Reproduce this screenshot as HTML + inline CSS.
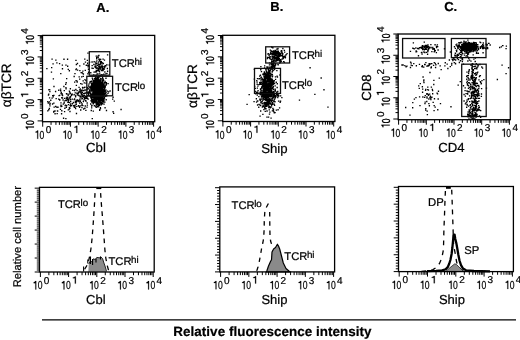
<!DOCTYPE html>
<html><head><meta charset="utf-8"><style>
html,body{margin:0;padding:0;background:#fff;width:520px;height:340px;overflow:hidden}
svg{display:block;font-family:"Liberation Sans",sans-serif;fill:#000;text-rendering:geometricPrecision}
text{stroke:#000;stroke-width:0.22px}
</style></head><body>
<svg width="520" height="340" viewBox="0 0 520 340">
<defs><filter id="b" x="0" y="0" width="100%" height="100%"><feGaussianBlur stdDeviation="0.35"/></filter></defs>
<g filter="url(#b)"><rect width="520" height="340" fill="#fff"/>
<g font-weight="bold" font-size="13">
<text x="96.3" y="11.5">A.</text>
<text x="270.3" y="11.2">B.</text>
<text x="444.2" y="11.2">C.</text>
</g>
<path fill="#000" d="M97.3 92.0h1.35v1.35h-1.35zM96.5 85.3h1.35v1.35h-1.35zM95.9 84.7h1.35v1.35h-1.35zM97.5 97.8h1.35v1.35h-1.35zM95.8 86.8h1.35v1.35h-1.35zM98.8 92.3h1.35v1.35h-1.35zM97.6 85.1h1.35v1.35h-1.35zM97.2 94.2h1.35v1.35h-1.35zM93.1 87.7h1.35v1.35h-1.35zM91.4 83.1h1.35v1.35h-1.35zM91.6 89.0h1.35v1.35h-1.35zM93.4 91.8h1.35v1.35h-1.35zM97.8 89.3h1.35v1.35h-1.35zM89.5 87.3h1.35v1.35h-1.35zM97.1 90.9h1.35v1.35h-1.35zM92.6 87.6h1.35v1.35h-1.35zM94.3 85.8h1.35v1.35h-1.35zM100.6 85.8h1.35v1.35h-1.35zM97.2 95.3h1.35v1.35h-1.35zM95.5 89.7h1.35v1.35h-1.35zM97.6 90.7h1.35v1.35h-1.35zM93.5 90.7h1.35v1.35h-1.35zM101.5 81.6h1.35v1.35h-1.35zM100.0 91.0h1.35v1.35h-1.35zM95.3 101.5h1.35v1.35h-1.35zM99.7 83.6h1.35v1.35h-1.35zM97.5 93.5h1.35v1.35h-1.35zM96.7 94.1h1.35v1.35h-1.35zM97.1 94.0h1.35v1.35h-1.35zM101.8 86.5h1.35v1.35h-1.35zM97.9 87.7h1.35v1.35h-1.35zM97.7 83.7h1.35v1.35h-1.35zM95.5 89.2h1.35v1.35h-1.35zM100.1 96.7h1.35v1.35h-1.35zM93.2 85.9h1.35v1.35h-1.35zM99.3 79.1h1.35v1.35h-1.35zM95.9 89.8h1.35v1.35h-1.35zM101.2 94.2h1.35v1.35h-1.35zM96.3 88.2h1.35v1.35h-1.35zM96.5 98.8h1.35v1.35h-1.35zM96.0 88.6h1.35v1.35h-1.35zM98.4 89.6h1.35v1.35h-1.35zM96.7 84.1h1.35v1.35h-1.35zM97.3 87.8h1.35v1.35h-1.35zM100.9 94.0h1.35v1.35h-1.35zM97.2 94.0h1.35v1.35h-1.35zM96.2 96.2h1.35v1.35h-1.35zM97.3 93.6h1.35v1.35h-1.35zM93.3 92.2h1.35v1.35h-1.35zM92.1 78.9h1.35v1.35h-1.35zM96.4 85.3h1.35v1.35h-1.35zM97.8 102.9h1.35v1.35h-1.35zM94.7 86.8h1.35v1.35h-1.35zM97.9 93.1h1.35v1.35h-1.35zM96.8 89.1h1.35v1.35h-1.35zM99.5 93.2h1.35v1.35h-1.35zM94.1 89.9h1.35v1.35h-1.35zM97.4 84.4h1.35v1.35h-1.35zM98.1 85.5h1.35v1.35h-1.35zM100.3 91.4h1.35v1.35h-1.35zM97.6 87.0h1.35v1.35h-1.35zM96.9 79.1h1.35v1.35h-1.35zM93.8 92.3h1.35v1.35h-1.35zM90.7 95.0h1.35v1.35h-1.35zM91.9 94.5h1.35v1.35h-1.35zM94.7 94.7h1.35v1.35h-1.35zM97.7 81.7h1.35v1.35h-1.35zM101.2 98.4h1.35v1.35h-1.35zM97.1 88.8h1.35v1.35h-1.35zM96.8 84.8h1.35v1.35h-1.35zM100.7 87.3h1.35v1.35h-1.35zM97.1 85.9h1.35v1.35h-1.35zM95.4 83.1h1.35v1.35h-1.35zM101.2 89.4h1.35v1.35h-1.35zM100.3 90.4h1.35v1.35h-1.35zM95.1 88.5h1.35v1.35h-1.35zM95.6 90.3h1.35v1.35h-1.35zM96.1 88.6h1.35v1.35h-1.35zM93.0 85.8h1.35v1.35h-1.35zM102.4 86.5h1.35v1.35h-1.35zM94.0 92.2h1.35v1.35h-1.35zM101.7 82.2h1.35v1.35h-1.35zM96.7 86.8h1.35v1.35h-1.35zM91.8 94.4h1.35v1.35h-1.35zM97.2 90.7h1.35v1.35h-1.35zM95.0 92.8h1.35v1.35h-1.35zM95.6 89.5h1.35v1.35h-1.35zM93.9 83.5h1.35v1.35h-1.35zM101.4 87.5h1.35v1.35h-1.35zM98.2 90.1h1.35v1.35h-1.35zM95.9 87.5h1.35v1.35h-1.35zM99.3 88.6h1.35v1.35h-1.35zM96.8 90.4h1.35v1.35h-1.35zM100.9 94.1h1.35v1.35h-1.35zM98.5 87.1h1.35v1.35h-1.35zM93.0 95.6h1.35v1.35h-1.35zM100.3 89.5h1.35v1.35h-1.35zM99.0 94.7h1.35v1.35h-1.35zM99.9 95.5h1.35v1.35h-1.35zM95.9 98.8h1.35v1.35h-1.35zM93.4 95.1h1.35v1.35h-1.35zM98.8 95.2h1.35v1.35h-1.35zM103.1 98.6h1.35v1.35h-1.35zM93.7 80.8h1.35v1.35h-1.35zM99.8 84.6h1.35v1.35h-1.35zM97.3 95.0h1.35v1.35h-1.35zM92.2 78.5h1.35v1.35h-1.35zM98.1 90.5h1.35v1.35h-1.35zM96.5 90.5h1.35v1.35h-1.35zM94.6 81.8h1.35v1.35h-1.35zM96.8 84.9h1.35v1.35h-1.35zM92.2 93.1h1.35v1.35h-1.35zM97.1 92.6h1.35v1.35h-1.35zM94.2 86.6h1.35v1.35h-1.35zM94.2 85.3h1.35v1.35h-1.35zM97.9 85.9h1.35v1.35h-1.35zM98.4 92.2h1.35v1.35h-1.35zM103.6 82.5h1.35v1.35h-1.35zM100.1 89.8h1.35v1.35h-1.35zM97.3 82.2h1.35v1.35h-1.35zM95.9 94.5h1.35v1.35h-1.35zM97.0 90.8h1.35v1.35h-1.35zM96.4 96.8h1.35v1.35h-1.35zM97.2 78.0h1.35v1.35h-1.35zM95.2 79.3h1.35v1.35h-1.35zM87.2 87.3h1.35v1.35h-1.35zM101.4 90.6h1.35v1.35h-1.35zM93.7 85.0h1.35v1.35h-1.35zM100.8 91.2h1.35v1.35h-1.35zM97.4 90.0h1.35v1.35h-1.35zM97.4 94.8h1.35v1.35h-1.35zM99.0 91.5h1.35v1.35h-1.35zM94.1 93.2h1.35v1.35h-1.35zM95.2 96.4h1.35v1.35h-1.35zM93.4 89.5h1.35v1.35h-1.35zM97.3 82.9h1.35v1.35h-1.35zM102.6 98.5h1.35v1.35h-1.35zM95.9 94.6h1.35v1.35h-1.35zM98.5 75.7h1.35v1.35h-1.35zM98.1 90.0h1.35v1.35h-1.35zM97.6 84.3h1.35v1.35h-1.35zM96.5 89.3h1.35v1.35h-1.35zM101.0 92.2h1.35v1.35h-1.35zM97.3 98.9h1.35v1.35h-1.35zM95.6 88.1h1.35v1.35h-1.35zM91.7 99.1h1.35v1.35h-1.35zM100.3 95.4h1.35v1.35h-1.35zM99.4 90.9h1.35v1.35h-1.35zM98.0 88.9h1.35v1.35h-1.35zM96.7 90.6h1.35v1.35h-1.35zM102.0 93.4h1.35v1.35h-1.35zM97.1 87.1h1.35v1.35h-1.35zM95.3 99.3h1.35v1.35h-1.35zM98.9 90.7h1.35v1.35h-1.35zM96.2 84.1h1.35v1.35h-1.35zM97.1 95.2h1.35v1.35h-1.35zM96.1 89.0h1.35v1.35h-1.35zM96.6 90.9h1.35v1.35h-1.35zM92.4 89.0h1.35v1.35h-1.35zM94.7 95.3h1.35v1.35h-1.35zM94.9 93.5h1.35v1.35h-1.35zM102.0 88.5h1.35v1.35h-1.35zM95.4 91.4h1.35v1.35h-1.35zM97.3 84.7h1.35v1.35h-1.35zM98.7 101.6h1.35v1.35h-1.35zM96.5 89.2h1.35v1.35h-1.35zM94.1 92.1h1.35v1.35h-1.35zM93.4 84.1h1.35v1.35h-1.35zM101.3 85.2h1.35v1.35h-1.35zM100.7 98.8h1.35v1.35h-1.35zM98.1 93.4h1.35v1.35h-1.35zM103.4 89.2h1.35v1.35h-1.35zM95.5 82.7h1.35v1.35h-1.35zM97.4 98.6h1.35v1.35h-1.35zM100.3 85.0h1.35v1.35h-1.35zM94.6 87.5h1.35v1.35h-1.35zM98.2 89.2h1.35v1.35h-1.35zM98.0 92.0h1.35v1.35h-1.35zM96.4 90.1h1.35v1.35h-1.35zM97.9 89.8h1.35v1.35h-1.35zM98.9 100.8h1.35v1.35h-1.35zM99.1 90.6h1.35v1.35h-1.35zM92.1 92.5h1.35v1.35h-1.35zM91.3 82.4h1.35v1.35h-1.35zM99.9 94.3h1.35v1.35h-1.35zM96.8 80.7h1.35v1.35h-1.35zM96.1 86.5h1.35v1.35h-1.35zM99.3 102.9h1.35v1.35h-1.35zM98.0 85.9h1.35v1.35h-1.35zM93.7 90.0h1.35v1.35h-1.35zM96.8 83.9h1.35v1.35h-1.35zM97.7 83.9h1.35v1.35h-1.35zM100.7 96.3h1.35v1.35h-1.35zM100.7 87.6h1.35v1.35h-1.35zM98.9 89.6h1.35v1.35h-1.35zM96.1 88.4h1.35v1.35h-1.35zM93.3 82.2h1.35v1.35h-1.35zM99.8 89.2h1.35v1.35h-1.35zM98.0 95.9h1.35v1.35h-1.35zM91.9 85.9h1.35v1.35h-1.35zM97.8 92.5h1.35v1.35h-1.35zM96.1 96.1h1.35v1.35h-1.35zM98.0 83.5h1.35v1.35h-1.35zM94.4 94.8h1.35v1.35h-1.35zM98.7 79.7h1.35v1.35h-1.35zM101.5 93.6h1.35v1.35h-1.35zM101.5 88.2h1.35v1.35h-1.35zM96.4 84.0h1.35v1.35h-1.35zM105.2 89.3h1.35v1.35h-1.35zM102.2 86.7h1.35v1.35h-1.35zM97.8 80.9h1.35v1.35h-1.35zM96.1 95.8h1.35v1.35h-1.35zM93.4 96.3h1.35v1.35h-1.35zM98.3 84.5h1.35v1.35h-1.35zM95.7 87.7h1.35v1.35h-1.35zM97.1 87.3h1.35v1.35h-1.35zM94.7 88.6h1.35v1.35h-1.35zM94.1 83.1h1.35v1.35h-1.35zM97.2 95.2h1.35v1.35h-1.35zM92.6 90.3h1.35v1.35h-1.35zM95.3 84.8h1.35v1.35h-1.35zM99.9 87.4h1.35v1.35h-1.35zM101.9 85.9h1.35v1.35h-1.35zM98.5 89.0h1.35v1.35h-1.35zM95.0 93.6h1.35v1.35h-1.35zM96.8 93.7h1.35v1.35h-1.35zM97.2 84.2h1.35v1.35h-1.35zM97.0 90.6h1.35v1.35h-1.35zM100.3 85.2h1.35v1.35h-1.35zM97.2 80.7h1.35v1.35h-1.35zM99.3 84.2h1.35v1.35h-1.35zM91.7 90.0h1.35v1.35h-1.35zM100.7 81.8h1.35v1.35h-1.35zM93.9 86.1h1.35v1.35h-1.35zM93.8 92.4h1.35v1.35h-1.35zM94.8 86.3h1.35v1.35h-1.35zM99.1 86.1h1.35v1.35h-1.35zM98.6 84.9h1.35v1.35h-1.35zM93.5 80.0h1.35v1.35h-1.35zM103.1 88.5h1.35v1.35h-1.35zM98.1 90.1h1.35v1.35h-1.35zM97.8 90.6h1.35v1.35h-1.35zM103.2 84.5h1.35v1.35h-1.35zM92.5 84.6h1.35v1.35h-1.35zM93.2 94.5h1.35v1.35h-1.35zM99.8 84.9h1.35v1.35h-1.35zM93.0 88.3h1.35v1.35h-1.35zM101.6 74.5h1.35v1.35h-1.35zM98.9 84.3h1.35v1.35h-1.35zM100.5 84.3h1.35v1.35h-1.35zM96.4 81.9h1.35v1.35h-1.35zM94.3 98.1h1.35v1.35h-1.35zM99.8 88.1h1.35v1.35h-1.35zM94.6 79.7h1.35v1.35h-1.35zM96.1 90.1h1.35v1.35h-1.35zM97.0 89.8h1.35v1.35h-1.35zM93.8 89.9h1.35v1.35h-1.35zM97.2 97.5h1.35v1.35h-1.35zM103.1 89.5h1.35v1.35h-1.35zM94.9 89.9h1.35v1.35h-1.35zM95.4 86.1h1.35v1.35h-1.35zM97.1 84.5h1.35v1.35h-1.35zM99.2 89.7h1.35v1.35h-1.35zM98.1 89.3h1.35v1.35h-1.35zM95.0 85.0h1.35v1.35h-1.35zM96.6 87.2h1.35v1.35h-1.35zM98.0 90.3h1.35v1.35h-1.35zM93.1 90.7h1.35v1.35h-1.35zM93.1 86.8h1.35v1.35h-1.35zM96.4 78.7h1.35v1.35h-1.35zM97.6 91.1h1.35v1.35h-1.35zM96.8 87.9h1.35v1.35h-1.35zM96.1 84.8h1.35v1.35h-1.35zM96.5 87.2h1.35v1.35h-1.35zM97.6 83.6h1.35v1.35h-1.35zM98.0 91.1h1.35v1.35h-1.35zM96.9 87.8h1.35v1.35h-1.35zM99.0 81.0h1.35v1.35h-1.35zM98.7 91.7h1.35v1.35h-1.35zM98.2 92.4h1.35v1.35h-1.35zM95.3 88.8h1.35v1.35h-1.35zM99.3 92.7h1.35v1.35h-1.35zM97.9 81.8h1.35v1.35h-1.35zM99.0 96.8h1.35v1.35h-1.35zM100.4 91.6h1.35v1.35h-1.35zM92.5 95.6h1.35v1.35h-1.35zM96.8 76.1h1.35v1.35h-1.35zM98.5 81.9h1.35v1.35h-1.35zM93.3 86.7h1.35v1.35h-1.35zM101.2 88.2h1.35v1.35h-1.35zM98.1 100.1h1.35v1.35h-1.35zM102.2 89.7h1.35v1.35h-1.35zM96.6 83.2h1.35v1.35h-1.35zM95.1 92.7h1.35v1.35h-1.35zM98.5 90.9h1.35v1.35h-1.35zM100.4 86.0h1.35v1.35h-1.35zM97.1 94.4h1.35v1.35h-1.35zM99.1 96.3h1.35v1.35h-1.35zM98.5 88.6h1.35v1.35h-1.35zM98.4 84.7h1.35v1.35h-1.35zM92.2 93.6h1.35v1.35h-1.35zM97.1 92.0h1.35v1.35h-1.35zM92.0 88.3h1.35v1.35h-1.35zM95.4 85.5h1.35v1.35h-1.35zM90.3 88.4h1.35v1.35h-1.35zM100.1 92.4h1.35v1.35h-1.35zM95.4 90.2h1.35v1.35h-1.35zM99.6 74.8h1.35v1.35h-1.35zM96.9 93.3h1.35v1.35h-1.35zM99.4 99.8h1.35v1.35h-1.35zM100.8 92.1h1.35v1.35h-1.35zM98.2 94.7h1.35v1.35h-1.35zM95.6 90.1h1.35v1.35h-1.35zM100.1 101.3h1.35v1.35h-1.35zM96.8 90.0h1.35v1.35h-1.35zM97.9 97.8h1.35v1.35h-1.35zM97.2 98.5h1.35v1.35h-1.35zM94.3 89.3h1.35v1.35h-1.35zM96.7 94.7h1.35v1.35h-1.35zM100.5 81.8h1.35v1.35h-1.35zM94.5 92.2h1.35v1.35h-1.35zM95.3 81.8h1.35v1.35h-1.35zM100.5 93.1h1.35v1.35h-1.35zM98.8 87.6h1.35v1.35h-1.35zM100.5 89.0h1.35v1.35h-1.35zM100.7 85.2h1.35v1.35h-1.35zM94.7 91.4h1.35v1.35h-1.35zM95.1 94.1h1.35v1.35h-1.35zM98.1 85.1h1.35v1.35h-1.35zM97.5 88.3h1.35v1.35h-1.35zM100.1 86.8h1.35v1.35h-1.35zM95.9 97.1h1.35v1.35h-1.35zM104.2 101.5h1.35v1.35h-1.35zM97.5 91.5h1.35v1.35h-1.35zM102.1 89.6h1.35v1.35h-1.35zM94.3 91.0h1.35v1.35h-1.35zM98.7 85.7h1.35v1.35h-1.35zM92.2 82.3h1.35v1.35h-1.35zM99.4 86.1h1.35v1.35h-1.35zM96.9 91.5h1.35v1.35h-1.35zM99.2 88.4h1.35v1.35h-1.35zM98.8 85.3h1.35v1.35h-1.35zM96.2 84.6h1.35v1.35h-1.35zM100.8 90.1h1.35v1.35h-1.35zM95.0 88.3h1.35v1.35h-1.35zM96.6 94.2h1.35v1.35h-1.35zM92.4 84.5h1.35v1.35h-1.35zM96.1 104.5h1.35v1.35h-1.35zM100.3 89.7h1.35v1.35h-1.35zM99.5 101.8h1.35v1.35h-1.35zM96.6 88.2h1.35v1.35h-1.35zM101.1 93.1h1.35v1.35h-1.35zM99.4 87.5h1.35v1.35h-1.35zM103.3 99.9h1.35v1.35h-1.35zM99.1 94.1h1.35v1.35h-1.35zM91.0 93.9h1.35v1.35h-1.35zM96.7 92.7h1.35v1.35h-1.35zM99.4 88.4h1.35v1.35h-1.35zM92.1 92.4h1.35v1.35h-1.35zM95.0 88.5h1.35v1.35h-1.35zM95.4 88.4h1.35v1.35h-1.35zM90.1 97.1h1.35v1.35h-1.35zM98.1 96.5h1.35v1.35h-1.35zM103.4 90.4h1.35v1.35h-1.35zM91.7 85.3h1.35v1.35h-1.35zM93.6 87.5h1.35v1.35h-1.35zM97.5 79.1h1.35v1.35h-1.35zM98.4 81.8h1.35v1.35h-1.35zM98.2 89.7h1.35v1.35h-1.35zM96.3 89.9h1.35v1.35h-1.35zM95.6 86.9h1.35v1.35h-1.35zM92.1 90.1h1.35v1.35h-1.35zM103.0 101.4h1.35v1.35h-1.35zM101.4 94.3h1.35v1.35h-1.35zM95.2 98.4h1.35v1.35h-1.35zM97.1 89.9h1.35v1.35h-1.35zM96.4 90.8h1.35v1.35h-1.35zM96.0 89.8h1.35v1.35h-1.35zM93.9 88.2h1.35v1.35h-1.35zM104.4 89.9h1.35v1.35h-1.35zM96.6 93.3h1.35v1.35h-1.35zM99.5 84.1h1.35v1.35h-1.35zM96.7 95.4h1.35v1.35h-1.35zM98.1 91.0h1.35v1.35h-1.35zM102.1 86.5h1.35v1.35h-1.35zM97.6 87.4h1.35v1.35h-1.35zM101.9 79.4h1.35v1.35h-1.35zM95.2 87.3h1.35v1.35h-1.35zM99.4 93.7h1.35v1.35h-1.35zM101.6 81.5h1.35v1.35h-1.35zM99.6 88.7h1.35v1.35h-1.35zM95.2 93.3h1.35v1.35h-1.35zM94.4 78.7h1.35v1.35h-1.35zM96.2 81.9h1.35v1.35h-1.35zM95.3 92.4h1.35v1.35h-1.35zM98.3 99.2h1.35v1.35h-1.35zM96.7 81.7h1.35v1.35h-1.35zM95.0 85.2h1.35v1.35h-1.35zM93.5 92.7h1.35v1.35h-1.35zM95.3 79.2h1.35v1.35h-1.35zM99.5 89.7h1.35v1.35h-1.35zM98.4 90.9h1.35v1.35h-1.35zM99.3 90.5h1.35v1.35h-1.35zM101.1 92.7h1.35v1.35h-1.35zM98.5 92.6h1.35v1.35h-1.35zM92.8 89.4h1.35v1.35h-1.35zM96.5 91.5h1.35v1.35h-1.35zM93.1 99.5h1.35v1.35h-1.35zM97.6 83.5h1.35v1.35h-1.35zM92.0 88.7h1.35v1.35h-1.35zM97.0 86.3h1.35v1.35h-1.35zM97.6 86.7h1.35v1.35h-1.35zM99.0 86.2h1.35v1.35h-1.35zM97.2 95.8h1.35v1.35h-1.35zM105.3 84.7h1.35v1.35h-1.35zM95.9 85.6h1.35v1.35h-1.35zM99.7 83.9h1.35v1.35h-1.35zM95.8 90.1h1.35v1.35h-1.35zM94.3 84.9h1.35v1.35h-1.35zM95.8 78.5h1.35v1.35h-1.35zM92.8 88.0h1.35v1.35h-1.35zM97.8 89.3h1.35v1.35h-1.35zM91.8 87.7h1.35v1.35h-1.35zM99.8 93.4h1.35v1.35h-1.35zM97.1 85.3h1.35v1.35h-1.35zM99.3 87.1h1.35v1.35h-1.35zM93.7 85.8h1.35v1.35h-1.35zM101.8 91.5h1.35v1.35h-1.35zM100.9 87.6h1.35v1.35h-1.35zM100.2 86.9h1.35v1.35h-1.35zM96.8 104.2h1.35v1.35h-1.35zM99.7 87.5h1.35v1.35h-1.35zM97.0 92.1h1.35v1.35h-1.35zM101.1 87.6h1.35v1.35h-1.35zM91.9 88.7h1.35v1.35h-1.35zM97.3 90.9h1.35v1.35h-1.35zM101.4 92.1h1.35v1.35h-1.35zM99.8 84.1h1.35v1.35h-1.35zM100.0 102.0h1.35v1.35h-1.35zM99.7 91.7h1.35v1.35h-1.35zM97.8 100.3h1.35v1.35h-1.35zM94.4 89.7h1.35v1.35h-1.35zM98.7 94.5h1.35v1.35h-1.35zM95.9 92.0h1.35v1.35h-1.35zM96.4 91.0h1.35v1.35h-1.35zM96.9 83.9h1.35v1.35h-1.35zM97.2 95.2h1.35v1.35h-1.35zM94.3 88.9h1.35v1.35h-1.35zM99.4 84.3h1.35v1.35h-1.35zM97.9 84.4h1.35v1.35h-1.35zM100.8 103.3h1.35v1.35h-1.35zM103.6 89.1h1.35v1.35h-1.35zM99.6 91.0h1.35v1.35h-1.35zM97.6 99.0h1.35v1.35h-1.35zM93.2 96.2h1.35v1.35h-1.35zM97.1 98.2h1.35v1.35h-1.35zM97.9 86.5h1.35v1.35h-1.35zM98.2 94.4h1.35v1.35h-1.35zM97.4 93.0h1.35v1.35h-1.35zM95.7 78.4h1.35v1.35h-1.35zM100.1 94.2h1.35v1.35h-1.35zM97.8 90.7h1.35v1.35h-1.35zM100.5 87.7h1.35v1.35h-1.35zM95.1 89.2h1.35v1.35h-1.35zM101.0 82.5h1.35v1.35h-1.35zM101.0 86.7h1.35v1.35h-1.35zM93.9 97.4h1.35v1.35h-1.35zM97.0 83.0h1.35v1.35h-1.35zM96.2 95.5h1.35v1.35h-1.35zM101.0 87.9h1.35v1.35h-1.35zM98.6 94.3h1.35v1.35h-1.35zM95.3 92.3h1.35v1.35h-1.35zM97.2 87.3h1.35v1.35h-1.35zM95.8 90.7h1.35v1.35h-1.35zM97.4 87.1h1.35v1.35h-1.35zM96.0 96.5h1.35v1.35h-1.35zM98.0 95.3h1.35v1.35h-1.35zM101.0 93.6h1.35v1.35h-1.35zM104.3 85.7h1.35v1.35h-1.35zM99.8 88.5h1.35v1.35h-1.35zM103.1 99.8h1.35v1.35h-1.35zM91.2 84.9h1.35v1.35h-1.35zM99.4 94.7h1.35v1.35h-1.35zM99.6 89.9h1.35v1.35h-1.35zM98.7 94.0h1.35v1.35h-1.35zM97.1 96.1h1.35v1.35h-1.35zM90.3 93.8h1.35v1.35h-1.35zM94.1 95.7h1.35v1.35h-1.35zM96.6 85.3h1.35v1.35h-1.35zM98.5 85.2h1.35v1.35h-1.35zM94.5 81.5h1.35v1.35h-1.35zM97.2 93.1h1.35v1.35h-1.35zM100.5 89.5h1.35v1.35h-1.35zM100.5 90.4h1.35v1.35h-1.35zM97.0 93.5h1.35v1.35h-1.35zM100.6 88.4h1.35v1.35h-1.35zM96.5 89.4h1.35v1.35h-1.35zM97.6 85.3h1.35v1.35h-1.35zM100.5 88.1h1.35v1.35h-1.35zM98.7 85.7h1.35v1.35h-1.35zM98.4 92.5h1.35v1.35h-1.35zM96.0 101.6h1.35v1.35h-1.35zM98.5 100.3h1.35v1.35h-1.35zM100.3 86.6h1.35v1.35h-1.35zM96.1 92.7h1.35v1.35h-1.35zM97.5 90.6h1.35v1.35h-1.35zM96.4 80.2h1.35v1.35h-1.35zM96.6 77.9h1.35v1.35h-1.35zM98.5 86.2h1.35v1.35h-1.35zM95.1 89.1h1.35v1.35h-1.35zM98.1 82.3h1.35v1.35h-1.35zM91.9 84.3h1.35v1.35h-1.35zM91.0 84.9h1.35v1.35h-1.35zM102.2 84.4h1.35v1.35h-1.35zM99.3 82.6h1.35v1.35h-1.35zM98.2 88.5h1.35v1.35h-1.35zM97.1 93.5h1.35v1.35h-1.35zM102.7 91.4h1.35v1.35h-1.35zM97.7 84.8h1.35v1.35h-1.35zM99.1 88.9h1.35v1.35h-1.35zM99.9 90.1h1.35v1.35h-1.35zM102.7 79.2h1.35v1.35h-1.35zM96.4 95.2h1.35v1.35h-1.35zM96.2 85.9h1.35v1.35h-1.35zM96.5 82.6h1.35v1.35h-1.35zM97.7 104.0h1.35v1.35h-1.35zM100.8 84.1h1.35v1.35h-1.35zM94.6 88.0h1.35v1.35h-1.35zM100.4 85.7h1.35v1.35h-1.35zM95.2 95.3h1.35v1.35h-1.35zM100.0 88.2h1.35v1.35h-1.35zM93.8 81.6h1.35v1.35h-1.35zM95.1 77.8h1.35v1.35h-1.35zM99.6 86.8h1.35v1.35h-1.35zM98.8 100.8h1.35v1.35h-1.35zM100.9 83.9h1.35v1.35h-1.35zM100.0 96.8h1.35v1.35h-1.35zM95.0 85.0h1.35v1.35h-1.35zM97.0 81.3h1.35v1.35h-1.35zM101.9 76.8h1.35v1.35h-1.35zM93.9 88.8h1.35v1.35h-1.35zM96.6 91.2h1.35v1.35h-1.35zM98.1 89.1h1.35v1.35h-1.35zM100.8 78.3h1.35v1.35h-1.35zM97.3 86.3h1.35v1.35h-1.35zM97.7 91.5h1.35v1.35h-1.35zM94.5 86.7h1.35v1.35h-1.35zM99.8 92.3h1.35v1.35h-1.35zM95.2 101.7h1.35v1.35h-1.35zM104.5 82.1h1.35v1.35h-1.35zM98.2 104.4h1.35v1.35h-1.35zM99.7 91.5h1.35v1.35h-1.35zM96.7 87.3h1.35v1.35h-1.35zM96.6 87.2h1.35v1.35h-1.35zM99.6 88.1h1.35v1.35h-1.35zM95.9 83.6h1.35v1.35h-1.35zM97.1 85.3h1.35v1.35h-1.35zM96.7 96.1h1.35v1.35h-1.35zM98.4 93.1h1.35v1.35h-1.35zM98.4 90.6h1.35v1.35h-1.35zM96.9 88.6h1.35v1.35h-1.35zM99.7 84.2h1.35v1.35h-1.35zM101.5 90.5h1.35v1.35h-1.35zM95.0 87.6h1.35v1.35h-1.35zM95.2 91.2h1.35v1.35h-1.35zM95.1 96.7h1.35v1.35h-1.35zM94.9 77.6h1.35v1.35h-1.35zM95.0 79.1h1.35v1.35h-1.35zM97.2 96.2h1.35v1.35h-1.35zM99.3 82.8h1.35v1.35h-1.35zM94.9 100.3h1.35v1.35h-1.35zM98.3 90.3h1.35v1.35h-1.35zM100.6 104.0h1.35v1.35h-1.35zM101.3 91.1h1.35v1.35h-1.35zM98.4 93.8h1.35v1.35h-1.35zM95.4 84.4h1.35v1.35h-1.35zM97.5 85.0h1.35v1.35h-1.35zM97.1 90.8h1.35v1.35h-1.35zM104.6 85.5h1.35v1.35h-1.35zM96.9 89.4h1.35v1.35h-1.35zM98.7 96.2h1.35v1.35h-1.35zM95.8 85.7h1.35v1.35h-1.35zM92.2 85.1h1.35v1.35h-1.35zM99.0 90.6h1.35v1.35h-1.35zM94.2 88.2h1.35v1.35h-1.35zM97.4 93.1h1.35v1.35h-1.35zM95.5 88.9h1.35v1.35h-1.35zM91.7 83.9h1.35v1.35h-1.35zM102.3 78.0h1.35v1.35h-1.35zM96.3 91.5h1.35v1.35h-1.35zM96.1 85.8h1.35v1.35h-1.35zM97.1 90.3h1.35v1.35h-1.35zM97.0 79.8h1.35v1.35h-1.35zM96.8 85.5h1.35v1.35h-1.35zM95.6 91.6h1.35v1.35h-1.35zM99.3 95.3h1.35v1.35h-1.35zM95.8 95.5h1.35v1.35h-1.35zM100.9 96.7h1.35v1.35h-1.35zM101.6 89.5h1.35v1.35h-1.35zM96.8 94.9h1.35v1.35h-1.35zM93.1 91.5h1.35v1.35h-1.35zM95.7 88.2h1.35v1.35h-1.35zM91.9 85.3h1.35v1.35h-1.35zM97.2 95.3h1.35v1.35h-1.35zM100.4 89.9h1.35v1.35h-1.35zM96.7 85.6h1.35v1.35h-1.35zM98.5 88.9h1.35v1.35h-1.35zM99.2 100.1h1.35v1.35h-1.35zM97.2 81.9h1.35v1.35h-1.35zM94.6 82.1h1.35v1.35h-1.35zM93.6 97.6h1.35v1.35h-1.35zM98.0 81.8h1.35v1.35h-1.35zM99.3 97.4h1.35v1.35h-1.35zM96.2 86.5h1.35v1.35h-1.35zM96.3 91.9h1.35v1.35h-1.35zM99.3 96.9h1.35v1.35h-1.35zM101.1 96.9h1.35v1.35h-1.35zM101.5 94.0h1.35v1.35h-1.35zM92.6 89.6h1.35v1.35h-1.35zM98.3 88.2h1.35v1.35h-1.35zM100.1 88.3h1.35v1.35h-1.35zM94.4 98.4h1.35v1.35h-1.35zM99.4 91.5h1.35v1.35h-1.35zM100.2 96.3h1.35v1.35h-1.35zM98.4 76.5h1.35v1.35h-1.35zM95.2 87.7h1.35v1.35h-1.35zM94.2 91.4h1.35v1.35h-1.35zM101.0 87.6h1.35v1.35h-1.35zM93.8 101.7h1.35v1.35h-1.35zM95.9 83.4h1.35v1.35h-1.35zM98.0 92.7h1.35v1.35h-1.35zM95.1 94.7h1.35v1.35h-1.35zM95.8 85.1h1.35v1.35h-1.35zM97.9 94.6h1.35v1.35h-1.35zM95.3 92.2h1.35v1.35h-1.35zM97.0 106.1h1.35v1.35h-1.35zM95.1 98.1h1.35v1.35h-1.35zM97.1 89.6h1.35v1.35h-1.35zM99.5 95.3h1.35v1.35h-1.35zM101.2 92.1h1.35v1.35h-1.35zM95.4 87.3h1.35v1.35h-1.35zM98.9 93.6h1.35v1.35h-1.35zM101.6 92.6h1.35v1.35h-1.35zM100.6 98.8h1.35v1.35h-1.35zM97.8 82.0h1.35v1.35h-1.35zM93.6 82.2h1.35v1.35h-1.35zM102.2 85.6h1.35v1.35h-1.35zM101.1 93.6h1.35v1.35h-1.35zM102.6 95.9h1.35v1.35h-1.35zM97.0 89.2h1.35v1.35h-1.35zM97.6 91.3h1.35v1.35h-1.35zM95.7 90.1h1.35v1.35h-1.35zM102.3 80.8h1.35v1.35h-1.35zM98.1 85.2h1.35v1.35h-1.35zM97.9 95.0h1.35v1.35h-1.35zM97.1 94.6h1.35v1.35h-1.35zM92.4 96.5h1.35v1.35h-1.35zM95.4 93.8h1.35v1.35h-1.35zM97.9 75.8h1.35v1.35h-1.35zM95.0 91.5h1.35v1.35h-1.35zM102.1 91.9h1.35v1.35h-1.35zM98.1 82.4h1.35v1.35h-1.35zM101.7 100.4h1.35v1.35h-1.35zM97.4 89.1h1.35v1.35h-1.35zM92.3 95.2h1.35v1.35h-1.35zM105.7 94.3h1.35v1.35h-1.35zM101.2 93.3h1.35v1.35h-1.35zM94.2 97.8h1.35v1.35h-1.35zM93.5 89.1h1.35v1.35h-1.35zM98.2 95.2h1.35v1.35h-1.35zM98.6 92.5h1.35v1.35h-1.35zM94.9 83.1h1.35v1.35h-1.35zM97.5 86.3h1.35v1.35h-1.35zM93.2 83.2h1.35v1.35h-1.35zM95.8 79.9h1.35v1.35h-1.35zM93.1 81.1h1.35v1.35h-1.35zM97.9 92.6h1.35v1.35h-1.35zM103.5 81.9h1.35v1.35h-1.35zM95.2 95.4h1.35v1.35h-1.35zM96.6 88.5h1.35v1.35h-1.35zM102.6 88.4h1.35v1.35h-1.35zM93.7 82.9h1.35v1.35h-1.35zM98.3 92.0h1.35v1.35h-1.35zM93.0 84.8h1.35v1.35h-1.35zM99.0 93.5h1.35v1.35h-1.35zM95.3 93.8h1.35v1.35h-1.35zM99.1 80.3h1.35v1.35h-1.35zM96.3 92.6h1.35v1.35h-1.35zM95.5 78.3h1.35v1.35h-1.35zM96.4 94.5h1.35v1.35h-1.35zM102.2 78.0h1.35v1.35h-1.35zM105.4 84.0h1.35v1.35h-1.35zM100.3 97.2h1.35v1.35h-1.35zM100.3 91.1h1.35v1.35h-1.35zM93.7 93.8h1.35v1.35h-1.35zM95.1 76.2h1.35v1.35h-1.35zM106.1 94.3h1.35v1.35h-1.35zM102.9 85.2h1.35v1.35h-1.35zM101.8 99.2h1.35v1.35h-1.35zM102.1 90.2h1.35v1.35h-1.35zM93.6 89.3h1.35v1.35h-1.35zM90.5 80.8h1.35v1.35h-1.35zM97.6 84.7h1.35v1.35h-1.35zM96.8 89.7h1.35v1.35h-1.35zM103.3 97.6h1.35v1.35h-1.35zM97.2 97.1h1.35v1.35h-1.35zM94.9 88.4h1.35v1.35h-1.35zM100.1 83.3h1.35v1.35h-1.35zM96.4 82.9h1.35v1.35h-1.35zM97.7 99.4h1.35v1.35h-1.35zM95.0 91.6h1.35v1.35h-1.35zM94.5 83.9h1.35v1.35h-1.35zM93.5 98.4h1.35v1.35h-1.35zM104.6 93.0h1.35v1.35h-1.35zM95.1 94.2h1.35v1.35h-1.35zM96.3 94.8h1.35v1.35h-1.35zM98.2 91.9h1.35v1.35h-1.35zM99.2 87.1h1.35v1.35h-1.35zM96.0 80.7h1.35v1.35h-1.35zM95.9 82.3h1.35v1.35h-1.35zM96.9 84.9h1.35v1.35h-1.35zM97.6 92.8h1.35v1.35h-1.35zM92.9 85.7h1.35v1.35h-1.35zM94.4 94.5h1.35v1.35h-1.35zM102.6 95.1h1.35v1.35h-1.35zM96.2 98.5h1.35v1.35h-1.35zM92.6 98.7h1.35v1.35h-1.35zM95.3 74.7h1.35v1.35h-1.35zM105.5 99.1h1.35v1.35h-1.35zM94.1 91.2h1.35v1.35h-1.35zM96.6 90.9h1.35v1.35h-1.35zM92.7 86.5h1.35v1.35h-1.35zM98.8 91.5h1.35v1.35h-1.35zM101.0 90.7h1.35v1.35h-1.35zM104.6 86.3h1.35v1.35h-1.35zM98.1 79.6h1.35v1.35h-1.35zM93.4 97.7h1.35v1.35h-1.35zM94.4 93.3h1.35v1.35h-1.35zM97.1 84.5h1.35v1.35h-1.35zM96.2 87.4h1.35v1.35h-1.35zM95.8 94.5h1.35v1.35h-1.35zM99.3 87.1h1.35v1.35h-1.35zM94.5 91.9h1.35v1.35h-1.35zM97.0 96.1h1.35v1.35h-1.35zM105.5 95.0h1.35v1.35h-1.35zM97.2 89.3h1.35v1.35h-1.35zM94.6 85.2h1.35v1.35h-1.35zM94.2 88.1h1.35v1.35h-1.35zM96.0 94.5h1.35v1.35h-1.35zM96.1 89.2h1.35v1.35h-1.35zM93.5 99.5h1.35v1.35h-1.35zM98.9 100.3h1.35v1.35h-1.35zM99.8 98.6h1.35v1.35h-1.35zM96.5 94.3h1.35v1.35h-1.35zM105.7 83.4h1.35v1.35h-1.35zM100.9 99.8h1.35v1.35h-1.35zM98.6 94.6h1.35v1.35h-1.35zM101.3 86.5h1.35v1.35h-1.35zM98.6 85.3h1.35v1.35h-1.35zM95.2 86.8h1.35v1.35h-1.35zM96.8 91.1h1.35v1.35h-1.35zM98.7 82.2h1.35v1.35h-1.35zM103.6 96.9h1.35v1.35h-1.35zM99.6 88.2h1.35v1.35h-1.35zM97.0 93.4h1.35v1.35h-1.35zM98.6 80.7h1.35v1.35h-1.35zM99.7 107.0h1.35v1.35h-1.35zM91.4 96.0h1.35v1.35h-1.35zM98.5 89.7h1.35v1.35h-1.35zM101.7 83.5h1.35v1.35h-1.35zM97.8 98.7h1.35v1.35h-1.35zM96.7 87.9h1.35v1.35h-1.35zM97.7 87.7h1.35v1.35h-1.35zM102.2 85.1h1.35v1.35h-1.35zM100.1 83.1h1.35v1.35h-1.35zM99.4 89.7h1.35v1.35h-1.35zM89.1 90.3h1.35v1.35h-1.35zM93.9 87.7h1.35v1.35h-1.35zM102.2 83.9h1.35v1.35h-1.35zM93.9 98.6h1.35v1.35h-1.35zM97.7 99.2h1.35v1.35h-1.35zM98.3 85.2h1.35v1.35h-1.35zM97.1 97.4h1.35v1.35h-1.35zM100.3 90.3h1.35v1.35h-1.35zM97.5 89.7h1.35v1.35h-1.35zM95.5 101.4h1.35v1.35h-1.35zM97.3 83.8h1.35v1.35h-1.35zM95.8 94.5h1.35v1.35h-1.35zM99.3 89.5h1.35v1.35h-1.35zM95.2 90.4h1.35v1.35h-1.35zM92.0 82.8h1.35v1.35h-1.35zM99.8 87.5h1.35v1.35h-1.35zM98.5 97.3h1.35v1.35h-1.35zM99.4 90.4h1.35v1.35h-1.35zM104.1 94.1h1.35v1.35h-1.35zM96.2 94.5h1.35v1.35h-1.35zM98.6 85.4h1.35v1.35h-1.35zM97.5 89.4h1.35v1.35h-1.35zM91.0 89.3h1.35v1.35h-1.35zM96.4 87.8h1.35v1.35h-1.35zM92.1 88.3h1.35v1.35h-1.35zM97.2 90.9h1.35v1.35h-1.35zM93.7 93.9h1.35v1.35h-1.35zM93.4 89.0h1.35v1.35h-1.35zM101.5 86.3h1.35v1.35h-1.35zM95.7 96.5h1.35v1.35h-1.35zM96.1 88.6h1.35v1.35h-1.35zM98.0 96.3h1.35v1.35h-1.35zM90.3 85.5h1.35v1.35h-1.35zM94.1 84.1h1.35v1.35h-1.35zM94.6 85.5h1.35v1.35h-1.35zM98.3 85.2h1.35v1.35h-1.35zM97.7 92.6h1.35v1.35h-1.35zM95.0 91.0h1.35v1.35h-1.35zM102.5 92.1h1.35v1.35h-1.35zM95.3 89.9h1.35v1.35h-1.35zM94.4 91.9h1.35v1.35h-1.35zM100.0 85.6h1.35v1.35h-1.35zM96.6 96.7h1.35v1.35h-1.35zM95.7 91.4h1.35v1.35h-1.35zM94.1 85.6h1.35v1.35h-1.35zM95.7 102.5h1.35v1.35h-1.35zM96.0 87.3h1.35v1.35h-1.35zM95.6 89.4h1.35v1.35h-1.35zM99.3 91.4h1.35v1.35h-1.35zM103.7 91.5h1.35v1.35h-1.35zM101.8 91.8h1.35v1.35h-1.35zM99.2 82.2h1.35v1.35h-1.35zM96.9 89.9h1.35v1.35h-1.35zM96.5 78.2h1.35v1.35h-1.35zM100.0 88.1h1.35v1.35h-1.35zM95.9 88.9h1.35v1.35h-1.35zM96.6 92.6h1.35v1.35h-1.35zM93.4 85.1h1.35v1.35h-1.35zM98.2 91.1h1.35v1.35h-1.35zM96.1 87.1h1.35v1.35h-1.35zM94.7 90.0h1.35v1.35h-1.35zM101.0 84.4h1.35v1.35h-1.35zM102.0 95.0h1.35v1.35h-1.35zM95.9 94.7h1.35v1.35h-1.35zM92.8 80.6h1.35v1.35h-1.35zM93.3 88.0h1.35v1.35h-1.35zM96.3 87.4h1.35v1.35h-1.35zM97.6 78.3h1.35v1.35h-1.35zM98.8 82.4h1.35v1.35h-1.35zM95.3 88.0h1.35v1.35h-1.35zM93.7 82.6h1.35v1.35h-1.35zM94.2 90.2h1.35v1.35h-1.35zM99.1 93.5h1.35v1.35h-1.35zM94.2 85.9h1.35v1.35h-1.35zM94.4 92.8h1.35v1.35h-1.35zM91.0 97.2h1.35v1.35h-1.35zM95.8 85.9h1.35v1.35h-1.35zM98.4 96.1h1.35v1.35h-1.35zM98.4 96.2h1.35v1.35h-1.35zM97.7 97.2h1.35v1.35h-1.35zM101.2 89.7h1.35v1.35h-1.35zM101.8 91.2h1.35v1.35h-1.35zM97.6 85.1h1.35v1.35h-1.35zM96.4 94.7h1.35v1.35h-1.35zM93.2 93.9h1.35v1.35h-1.35zM98.4 91.9h1.35v1.35h-1.35zM90.5 89.7h1.35v1.35h-1.35zM99.3 86.0h1.35v1.35h-1.35zM97.6 77.0h1.35v1.35h-1.35zM99.4 86.6h1.35v1.35h-1.35zM100.0 80.0h1.35v1.35h-1.35zM99.4 89.0h1.35v1.35h-1.35zM99.8 85.1h1.35v1.35h-1.35zM95.4 102.9h1.35v1.35h-1.35zM94.7 86.3h1.35v1.35h-1.35zM96.4 84.6h1.35v1.35h-1.35zM101.0 100.0h1.35v1.35h-1.35zM95.1 80.6h1.35v1.35h-1.35zM100.9 96.5h1.35v1.35h-1.35zM99.8 96.8h1.35v1.35h-1.35zM94.6 89.4h1.35v1.35h-1.35zM93.0 82.4h1.35v1.35h-1.35zM100.3 86.5h1.35v1.35h-1.35zM104.4 90.7h1.35v1.35h-1.35zM95.3 94.8h1.35v1.35h-1.35zM102.9 93.0h1.35v1.35h-1.35zM93.5 92.4h1.35v1.35h-1.35zM101.6 87.5h1.35v1.35h-1.35zM94.9 96.0h1.35v1.35h-1.35zM97.7 84.1h1.35v1.35h-1.35zM96.1 86.1h1.35v1.35h-1.35zM98.2 90.9h1.35v1.35h-1.35zM100.9 94.3h1.35v1.35h-1.35zM92.5 92.6h1.35v1.35h-1.35zM100.1 92.9h1.35v1.35h-1.35zM100.5 87.2h1.35v1.35h-1.35zM94.4 95.5h1.35v1.35h-1.35zM94.0 78.2h1.35v1.35h-1.35zM100.5 86.2h1.35v1.35h-1.35zM96.4 82.5h1.35v1.35h-1.35zM93.2 83.8h1.35v1.35h-1.35zM96.2 92.4h1.35v1.35h-1.35zM90.2 94.5h1.35v1.35h-1.35zM93.6 84.3h1.35v1.35h-1.35zM99.4 89.9h1.35v1.35h-1.35zM92.5 100.6h1.35v1.35h-1.35zM94.6 91.7h1.35v1.35h-1.35zM97.9 98.2h1.35v1.35h-1.35zM95.9 95.9h1.35v1.35h-1.35zM95.0 96.6h1.35v1.35h-1.35zM94.9 88.3h1.35v1.35h-1.35zM103.2 92.1h1.35v1.35h-1.35zM97.6 102.9h1.35v1.35h-1.35zM98.4 85.7h1.35v1.35h-1.35zM99.6 83.7h1.35v1.35h-1.35zM100.8 97.1h1.35v1.35h-1.35zM95.5 86.8h1.35v1.35h-1.35zM97.8 90.4h1.35v1.35h-1.35zM94.3 93.5h1.35v1.35h-1.35zM91.0 87.9h1.35v1.35h-1.35zM96.0 88.8h1.35v1.35h-1.35zM98.3 83.4h1.35v1.35h-1.35zM99.1 89.3h1.35v1.35h-1.35zM95.3 82.6h1.35v1.35h-1.35zM93.6 92.3h1.35v1.35h-1.35zM94.3 90.7h1.35v1.35h-1.35zM100.6 96.1h1.35v1.35h-1.35zM102.1 88.6h1.35v1.35h-1.35zM93.9 96.0h1.35v1.35h-1.35zM98.3 96.6h1.35v1.35h-1.35zM97.3 97.0h1.35v1.35h-1.35zM99.9 94.3h1.35v1.35h-1.35zM98.9 92.5h1.35v1.35h-1.35zM98.0 91.6h1.35v1.35h-1.35zM100.4 87.4h1.35v1.35h-1.35zM102.7 89.7h1.35v1.35h-1.35zM100.4 89.8h1.35v1.35h-1.35zM96.5 101.7h1.35v1.35h-1.35zM96.3 83.1h1.35v1.35h-1.35zM95.1 88.5h1.35v1.35h-1.35zM104.0 91.5h1.35v1.35h-1.35zM100.2 84.7h1.35v1.35h-1.35zM98.4 94.1h1.35v1.35h-1.35zM102.9 86.4h1.35v1.35h-1.35zM99.2 92.0h1.35v1.35h-1.35zM94.1 90.2h1.35v1.35h-1.35zM96.5 77.3h1.35v1.35h-1.35zM99.2 93.3h1.35v1.35h-1.35zM95.9 82.8h1.35v1.35h-1.35zM101.9 91.8h1.35v1.35h-1.35zM100.5 98.2h1.35v1.35h-1.35zM95.7 94.8h1.35v1.35h-1.35zM96.6 89.9h1.35v1.35h-1.35zM97.0 90.3h1.35v1.35h-1.35zM100.8 91.0h1.35v1.35h-1.35zM96.8 88.8h1.35v1.35h-1.35zM98.4 85.3h1.35v1.35h-1.35zM95.7 90.0h1.35v1.35h-1.35zM95.5 89.6h1.35v1.35h-1.35zM95.4 101.5h1.35v1.35h-1.35zM101.4 92.8h1.35v1.35h-1.35zM97.1 102.6h1.35v1.35h-1.35zM98.3 89.8h1.35v1.35h-1.35zM98.2 92.0h1.35v1.35h-1.35zM101.7 90.2h1.35v1.35h-1.35zM103.8 85.4h1.35v1.35h-1.35zM99.5 84.7h1.35v1.35h-1.35zM102.9 88.4h1.35v1.35h-1.35zM97.1 95.5h1.35v1.35h-1.35zM101.2 84.1h1.35v1.35h-1.35zM96.2 82.5h1.35v1.35h-1.35zM97.7 89.7h1.35v1.35h-1.35zM96.2 86.5h1.35v1.35h-1.35zM96.1 86.1h1.35v1.35h-1.35zM98.9 98.8h1.35v1.35h-1.35zM91.3 89.7h1.35v1.35h-1.35zM96.0 93.1h1.35v1.35h-1.35zM94.3 89.5h1.35v1.35h-1.35zM94.1 94.2h1.35v1.35h-1.35zM97.6 89.4h1.35v1.35h-1.35zM98.4 88.9h1.35v1.35h-1.35zM92.5 93.6h1.35v1.35h-1.35zM98.2 89.4h1.35v1.35h-1.35zM100.4 97.1h1.35v1.35h-1.35zM93.9 85.9h1.35v1.35h-1.35zM102.1 98.2h1.35v1.35h-1.35zM95.0 83.7h1.35v1.35h-1.35zM95.3 87.5h1.35v1.35h-1.35zM92.4 90.5h1.35v1.35h-1.35zM93.3 83.5h1.35v1.35h-1.35zM100.1 86.5h1.35v1.35h-1.35zM97.1 93.8h1.35v1.35h-1.35zM99.8 88.4h1.35v1.35h-1.35zM97.4 85.7h1.35v1.35h-1.35zM102.7 93.9h1.35v1.35h-1.35zM93.9 90.3h1.35v1.35h-1.35zM99.5 93.0h1.35v1.35h-1.35zM103.0 98.0h1.35v1.35h-1.35zM95.6 89.8h1.35v1.35h-1.35zM93.3 91.7h1.35v1.35h-1.35zM97.8 105.4h1.35v1.35h-1.35zM97.6 78.6h1.35v1.35h-1.35zM95.2 90.9h1.35v1.35h-1.35zM93.4 85.4h1.35v1.35h-1.35zM96.2 92.2h1.35v1.35h-1.35zM96.8 85.3h1.35v1.35h-1.35zM99.7 87.3h1.35v1.35h-1.35zM95.8 82.6h1.35v1.35h-1.35zM94.9 93.9h1.35v1.35h-1.35zM92.3 89.9h1.35v1.35h-1.35zM99.5 88.2h1.35v1.35h-1.35zM98.0 84.0h1.35v1.35h-1.35zM101.4 96.5h1.35v1.35h-1.35zM98.0 80.5h1.35v1.35h-1.35zM94.1 95.8h1.35v1.35h-1.35zM102.6 92.0h1.35v1.35h-1.35zM101.2 86.9h1.35v1.35h-1.35zM96.7 90.3h1.35v1.35h-1.35zM98.6 81.7h1.35v1.35h-1.35zM100.2 97.7h1.35v1.35h-1.35zM93.7 82.7h1.35v1.35h-1.35zM98.4 86.6h1.35v1.35h-1.35zM90.0 94.8h1.35v1.35h-1.35zM97.8 87.6h1.35v1.35h-1.35zM103.9 91.1h1.35v1.35h-1.35zM95.0 90.9h1.35v1.35h-1.35zM94.1 86.0h1.35v1.35h-1.35zM98.5 87.2h1.35v1.35h-1.35zM95.9 99.6h1.35v1.35h-1.35zM100.0 94.8h1.35v1.35h-1.35zM98.9 93.0h1.35v1.35h-1.35zM101.8 90.2h1.35v1.35h-1.35zM103.1 85.0h1.35v1.35h-1.35zM96.5 82.6h1.35v1.35h-1.35zM96.2 93.2h1.35v1.35h-1.35zM101.8 86.6h1.35v1.35h-1.35zM97.3 88.3h1.35v1.35h-1.35zM95.0 83.6h1.35v1.35h-1.35zM97.5 80.6h1.35v1.35h-1.35zM97.6 90.4h1.35v1.35h-1.35zM95.3 84.6h1.35v1.35h-1.35zM93.0 100.8h1.35v1.35h-1.35zM93.1 99.0h1.35v1.35h-1.35zM99.2 88.3h1.35v1.35h-1.35zM93.7 96.1h1.35v1.35h-1.35zM102.7 85.1h1.35v1.35h-1.35zM96.4 96.2h1.35v1.35h-1.35zM98.3 101.5h1.35v1.35h-1.35zM95.5 93.3h1.35v1.35h-1.35zM93.4 102.0h1.35v1.35h-1.35zM95.0 77.9h1.35v1.35h-1.35zM96.9 89.5h1.35v1.35h-1.35zM103.2 88.4h1.35v1.35h-1.35zM97.3 93.6h1.35v1.35h-1.35zM102.2 89.9h1.35v1.35h-1.35zM100.5 93.2h1.35v1.35h-1.35zM96.4 90.7h1.35v1.35h-1.35zM97.4 85.2h1.35v1.35h-1.35zM101.1 82.5h1.35v1.35h-1.35zM100.9 95.6h1.35v1.35h-1.35zM97.0 86.0h1.35v1.35h-1.35zM96.6 92.9h1.35v1.35h-1.35zM99.6 91.9h1.35v1.35h-1.35zM100.4 87.2h1.35v1.35h-1.35zM98.0 81.5h1.35v1.35h-1.35zM99.7 91.2h1.35v1.35h-1.35zM96.0 96.8h1.35v1.35h-1.35zM99.4 74.5h1.35v1.35h-1.35zM97.4 82.2h1.35v1.35h-1.35zM100.6 104.2h1.35v1.35h-1.35zM95.7 90.7h1.35v1.35h-1.35zM96.5 92.3h1.35v1.35h-1.35zM99.3 97.5h1.35v1.35h-1.35zM94.2 99.1h1.35v1.35h-1.35zM94.4 91.9h1.35v1.35h-1.35zM100.9 94.3h1.35v1.35h-1.35zM94.4 86.4h1.35v1.35h-1.35zM95.9 90.0h1.35v1.35h-1.35zM100.9 83.1h1.35v1.35h-1.35zM98.7 93.7h1.35v1.35h-1.35zM99.0 92.9h1.35v1.35h-1.35zM102.0 93.0h1.35v1.35h-1.35zM100.0 93.5h1.35v1.35h-1.35zM102.9 79.7h1.35v1.35h-1.35zM101.3 88.8h1.35v1.35h-1.35zM96.4 84.9h1.35v1.35h-1.35zM91.5 88.2h1.35v1.35h-1.35zM95.2 93.1h1.35v1.35h-1.35zM92.7 98.3h1.35v1.35h-1.35zM98.1 88.9h1.35v1.35h-1.35zM95.1 85.9h1.35v1.35h-1.35zM93.8 87.3h1.35v1.35h-1.35zM97.3 89.3h1.35v1.35h-1.35zM92.9 88.8h1.35v1.35h-1.35zM94.5 91.2h1.35v1.35h-1.35zM103.1 93.8h1.35v1.35h-1.35zM96.3 81.2h1.35v1.35h-1.35zM92.9 80.9h1.35v1.35h-1.35zM99.6 86.0h1.35v1.35h-1.35zM97.5 86.8h1.35v1.35h-1.35zM97.6 98.1h1.35v1.35h-1.35zM95.2 88.4h1.35v1.35h-1.35zM94.8 95.2h1.35v1.35h-1.35zM94.1 84.0h1.35v1.35h-1.35zM93.0 82.4h1.35v1.35h-1.35zM98.8 104.7h1.35v1.35h-1.35zM94.2 95.6h1.35v1.35h-1.35zM98.1 84.1h1.35v1.35h-1.35zM96.4 89.0h1.35v1.35h-1.35zM95.2 101.1h1.35v1.35h-1.35zM91.4 92.4h1.35v1.35h-1.35zM98.3 87.1h1.35v1.35h-1.35zM97.8 95.2h1.35v1.35h-1.35zM97.8 92.6h1.35v1.35h-1.35zM99.4 78.9h1.35v1.35h-1.35zM101.9 103.1h1.35v1.35h-1.35zM100.3 96.0h1.35v1.35h-1.35zM92.9 89.6h1.35v1.35h-1.35zM94.8 87.0h1.35v1.35h-1.35zM100.3 85.8h1.35v1.35h-1.35zM96.9 79.6h1.35v1.35h-1.35zM96.8 90.8h1.35v1.35h-1.35zM95.1 86.3h1.35v1.35h-1.35zM103.1 83.5h1.35v1.35h-1.35zM94.0 85.8h1.35v1.35h-1.35zM101.0 102.1h1.35v1.35h-1.35zM98.3 86.3h1.35v1.35h-1.35zM96.0 96.3h1.35v1.35h-1.35zM94.5 98.4h1.35v1.35h-1.35zM101.7 90.7h1.35v1.35h-1.35zM99.3 94.5h1.35v1.35h-1.35zM102.1 84.4h1.35v1.35h-1.35zM101.0 88.2h1.35v1.35h-1.35zM94.9 90.9h1.35v1.35h-1.35zM96.6 84.8h1.35v1.35h-1.35zM92.3 85.0h1.35v1.35h-1.35zM101.8 101.3h1.35v1.35h-1.35zM99.3 96.9h1.35v1.35h-1.35zM95.7 89.9h1.35v1.35h-1.35zM98.2 84.2h1.35v1.35h-1.35zM94.2 90.8h1.35v1.35h-1.35zM96.3 84.3h1.35v1.35h-1.35zM98.5 88.8h1.35v1.35h-1.35zM100.5 90.3h1.35v1.35h-1.35zM96.4 91.0h1.35v1.35h-1.35zM96.8 86.6h1.35v1.35h-1.35zM96.1 94.5h1.35v1.35h-1.35zM99.3 97.5h1.35v1.35h-1.35zM92.1 88.1h1.35v1.35h-1.35zM96.0 91.3h1.35v1.35h-1.35zM95.9 87.4h1.35v1.35h-1.35zM99.7 91.3h1.35v1.35h-1.35zM93.7 97.8h1.35v1.35h-1.35zM100.4 87.1h1.35v1.35h-1.35zM99.9 86.2h1.35v1.35h-1.35zM100.8 89.1h1.35v1.35h-1.35zM94.8 88.2h1.35v1.35h-1.35zM94.9 91.4h1.35v1.35h-1.35zM97.8 90.5h1.35v1.35h-1.35zM95.6 69.8h1.35v1.35h-1.35zM97.6 79.7h1.35v1.35h-1.35zM98.1 96.6h1.35v1.35h-1.35zM98.1 88.1h1.35v1.35h-1.35zM96.7 89.6h1.35v1.35h-1.35zM95.6 87.0h1.35v1.35h-1.35zM94.4 97.0h1.35v1.35h-1.35zM97.3 95.7h1.35v1.35h-1.35zM96.5 90.7h1.35v1.35h-1.35zM96.8 92.9h1.35v1.35h-1.35zM99.9 91.6h1.35v1.35h-1.35zM95.2 85.9h1.35v1.35h-1.35zM102.4 88.7h1.35v1.35h-1.35zM96.4 98.5h1.35v1.35h-1.35zM100.7 93.3h1.35v1.35h-1.35zM96.1 103.5h1.35v1.35h-1.35zM98.5 93.4h1.35v1.35h-1.35zM96.8 82.4h1.35v1.35h-1.35zM93.2 92.6h1.35v1.35h-1.35zM98.5 89.0h1.35v1.35h-1.35zM93.7 82.2h1.35v1.35h-1.35zM96.3 82.1h1.35v1.35h-1.35zM100.1 96.8h1.35v1.35h-1.35zM106.1 95.2h1.35v1.35h-1.35zM95.5 85.4h1.35v1.35h-1.35zM86.6 87.0h1.35v1.35h-1.35zM96.8 95.7h1.35v1.35h-1.35zM99.2 93.6h1.35v1.35h-1.35zM98.0 94.0h1.35v1.35h-1.35zM101.8 84.3h1.35v1.35h-1.35zM95.9 82.5h1.35v1.35h-1.35zM102.3 97.6h1.35v1.35h-1.35zM99.6 83.6h1.35v1.35h-1.35zM97.8 89.0h1.35v1.35h-1.35zM97.6 89.2h1.35v1.35h-1.35zM98.9 88.1h1.35v1.35h-1.35zM99.9 91.7h1.35v1.35h-1.35zM96.4 89.7h1.35v1.35h-1.35zM95.9 94.9h1.35v1.35h-1.35zM96.5 92.0h1.35v1.35h-1.35zM96.1 82.0h1.35v1.35h-1.35zM100.1 84.4h1.35v1.35h-1.35zM99.4 92.7h1.35v1.35h-1.35zM92.2 85.0h1.35v1.35h-1.35zM95.7 85.7h1.35v1.35h-1.35zM93.6 94.4h1.35v1.35h-1.35zM96.6 92.5h1.35v1.35h-1.35zM96.0 92.0h1.35v1.35h-1.35zM95.0 90.2h1.35v1.35h-1.35zM99.1 90.6h1.35v1.35h-1.35zM95.9 84.2h1.35v1.35h-1.35zM97.8 92.2h1.35v1.35h-1.35zM96.5 86.0h1.35v1.35h-1.35zM99.0 104.2h1.35v1.35h-1.35zM96.4 92.2h1.35v1.35h-1.35zM98.5 75.9h1.35v1.35h-1.35zM97.7 86.3h1.35v1.35h-1.35zM101.6 88.9h1.35v1.35h-1.35zM94.9 89.1h1.35v1.35h-1.35zM97.8 87.2h1.35v1.35h-1.35zM97.1 82.7h1.35v1.35h-1.35zM96.6 94.6h1.35v1.35h-1.35zM103.4 94.3h1.35v1.35h-1.35zM98.1 96.9h1.35v1.35h-1.35zM100.5 99.6h1.35v1.35h-1.35zM100.7 89.6h1.35v1.35h-1.35zM98.1 91.3h1.35v1.35h-1.35zM98.2 91.4h1.35v1.35h-1.35zM94.9 78.5h1.35v1.35h-1.35zM95.2 79.0h1.35v1.35h-1.35zM97.5 90.3h1.35v1.35h-1.35zM92.1 94.2h1.35v1.35h-1.35zM100.0 90.8h1.35v1.35h-1.35zM102.5 100.8h1.35v1.35h-1.35zM93.6 96.1h1.35v1.35h-1.35zM98.7 92.6h1.35v1.35h-1.35zM100.2 86.3h1.35v1.35h-1.35zM95.5 85.7h1.35v1.35h-1.35zM95.0 89.7h1.35v1.35h-1.35zM92.8 84.4h1.35v1.35h-1.35zM99.1 89.9h1.35v1.35h-1.35zM98.5 79.7h1.35v1.35h-1.35zM94.9 87.2h1.35v1.35h-1.35zM97.4 87.0h1.35v1.35h-1.35zM100.2 90.0h1.35v1.35h-1.35zM97.4 90.4h1.35v1.35h-1.35zM99.5 87.7h1.35v1.35h-1.35zM100.8 92.9h1.35v1.35h-1.35zM97.8 90.5h1.35v1.35h-1.35zM98.9 96.0h1.35v1.35h-1.35zM100.2 92.4h1.35v1.35h-1.35zM100.0 91.0h1.35v1.35h-1.35zM101.2 90.2h1.35v1.35h-1.35zM90.9 97.8h1.35v1.35h-1.35zM97.6 83.7h1.35v1.35h-1.35zM96.7 85.4h1.35v1.35h-1.35zM103.8 93.1h1.35v1.35h-1.35zM92.4 93.4h1.35v1.35h-1.35zM96.1 101.0h1.35v1.35h-1.35zM94.0 77.7h1.35v1.35h-1.35zM97.5 88.4h1.35v1.35h-1.35zM96.0 78.3h1.35v1.35h-1.35zM98.6 99.7h1.35v1.35h-1.35zM91.4 96.9h1.35v1.35h-1.35zM95.5 103.5h1.35v1.35h-1.35zM98.7 89.2h1.35v1.35h-1.35zM100.7 93.2h1.35v1.35h-1.35zM95.5 94.3h1.35v1.35h-1.35zM95.7 80.3h1.35v1.35h-1.35zM103.6 88.3h1.35v1.35h-1.35zM95.4 92.2h1.35v1.35h-1.35zM92.5 82.7h1.35v1.35h-1.35zM95.8 87.4h1.35v1.35h-1.35zM97.5 96.6h1.35v1.35h-1.35zM95.8 93.1h1.35v1.35h-1.35zM99.2 84.2h1.35v1.35h-1.35zM98.0 85.0h1.35v1.35h-1.35zM100.6 92.8h1.35v1.35h-1.35zM97.4 82.8h1.35v1.35h-1.35zM97.7 86.0h1.35v1.35h-1.35zM99.5 89.6h1.35v1.35h-1.35zM94.8 95.5h1.35v1.35h-1.35zM99.5 87.0h1.35v1.35h-1.35zM100.9 88.6h1.35v1.35h-1.35zM96.3 91.0h1.35v1.35h-1.35zM95.0 87.8h1.35v1.35h-1.35zM96.8 98.9h1.35v1.35h-1.35zM101.9 88.9h1.35v1.35h-1.35zM102.3 90.1h1.35v1.35h-1.35zM98.5 95.2h1.35v1.35h-1.35zM98.2 103.8h1.35v1.35h-1.35zM98.1 83.6h1.35v1.35h-1.35zM101.3 88.0h1.35v1.35h-1.35zM96.4 73.5h1.35v1.35h-1.35zM100.4 94.9h1.35v1.35h-1.35zM99.8 95.8h1.35v1.35h-1.35zM102.5 90.0h1.35v1.35h-1.35zM100.2 86.1h1.35v1.35h-1.35zM96.2 96.2h1.35v1.35h-1.35zM98.5 82.8h1.35v1.35h-1.35zM98.4 89.3h1.35v1.35h-1.35zM94.8 92.7h1.35v1.35h-1.35zM96.0 81.5h1.35v1.35h-1.35zM93.9 100.2h1.35v1.35h-1.35zM92.6 91.5h1.35v1.35h-1.35zM99.2 93.9h1.35v1.35h-1.35zM93.5 88.5h1.35v1.35h-1.35zM97.7 94.8h1.35v1.35h-1.35zM95.3 83.8h1.35v1.35h-1.35zM100.4 96.5h1.35v1.35h-1.35zM98.4 86.9h1.35v1.35h-1.35zM98.6 90.9h1.35v1.35h-1.35zM99.9 83.3h1.35v1.35h-1.35zM97.7 89.4h1.35v1.35h-1.35zM93.9 91.5h1.35v1.35h-1.35zM97.4 88.0h1.35v1.35h-1.35zM98.5 82.4h1.35v1.35h-1.35zM97.1 92.7h1.35v1.35h-1.35zM98.2 96.3h1.35v1.35h-1.35zM93.6 81.9h1.35v1.35h-1.35zM98.0 92.8h1.35v1.35h-1.35zM103.9 93.8h1.35v1.35h-1.35zM94.6 94.8h1.35v1.35h-1.35zM94.7 82.0h1.35v1.35h-1.35zM105.4 92.1h1.35v1.35h-1.35zM99.5 93.5h1.35v1.35h-1.35zM102.9 91.9h1.35v1.35h-1.35zM101.1 84.5h1.35v1.35h-1.35zM93.0 98.3h1.35v1.35h-1.35zM101.9 93.2h1.35v1.35h-1.35zM98.0 91.2h1.35v1.35h-1.35zM95.2 98.9h1.35v1.35h-1.35zM99.3 93.1h1.35v1.35h-1.35zM98.5 96.2h1.35v1.35h-1.35zM98.9 94.5h1.35v1.35h-1.35zM93.7 93.2h1.35v1.35h-1.35zM104.1 87.4h1.35v1.35h-1.35zM96.9 95.3h1.35v1.35h-1.35zM100.3 93.8h1.35v1.35h-1.35zM92.3 93.1h1.35v1.35h-1.35zM93.6 85.7h1.35v1.35h-1.35zM99.0 88.6h1.35v1.35h-1.35zM99.8 107.9h1.35v1.35h-1.35zM99.7 94.3h1.35v1.35h-1.35zM94.5 86.7h1.35v1.35h-1.35zM94.0 87.3h1.35v1.35h-1.35zM93.9 86.6h1.35v1.35h-1.35zM96.7 84.7h1.35v1.35h-1.35zM92.9 82.7h1.35v1.35h-1.35zM98.7 90.6h1.35v1.35h-1.35zM100.5 96.1h1.35v1.35h-1.35zM96.2 94.1h1.35v1.35h-1.35zM92.8 103.1h1.35v1.35h-1.35zM101.0 89.1h1.35v1.35h-1.35zM93.7 92.4h1.35v1.35h-1.35zM91.5 85.9h1.35v1.35h-1.35zM99.6 90.7h1.35v1.35h-1.35zM95.8 95.6h1.35v1.35h-1.35zM94.1 91.9h1.35v1.35h-1.35zM95.8 85.6h1.35v1.35h-1.35zM98.7 84.7h1.35v1.35h-1.35zM103.2 87.0h1.35v1.35h-1.35zM103.5 84.2h1.35v1.35h-1.35zM99.2 83.6h1.35v1.35h-1.35zM93.1 91.2h1.35v1.35h-1.35zM99.4 83.2h1.35v1.35h-1.35zM101.0 85.8h1.35v1.35h-1.35zM97.7 92.4h1.35v1.35h-1.35zM99.1 80.2h1.35v1.35h-1.35zM102.3 93.4h1.35v1.35h-1.35zM96.0 84.6h1.35v1.35h-1.35zM92.0 82.7h1.35v1.35h-1.35zM99.0 88.4h1.35v1.35h-1.35zM93.8 87.3h1.35v1.35h-1.35zM102.1 88.4h1.35v1.35h-1.35zM95.5 97.9h1.35v1.35h-1.35zM98.7 90.5h1.35v1.35h-1.35zM95.4 81.6h1.35v1.35h-1.35zM93.7 87.6h1.35v1.35h-1.35zM96.6 92.3h1.35v1.35h-1.35zM99.0 91.5h1.35v1.35h-1.35zM98.0 84.7h1.35v1.35h-1.35zM90.6 87.4h1.35v1.35h-1.35zM94.3 86.6h1.35v1.35h-1.35zM96.4 83.3h1.35v1.35h-1.35zM93.9 89.7h1.35v1.35h-1.35zM97.7 86.6h1.35v1.35h-1.35zM98.8 89.1h1.35v1.35h-1.35zM94.1 90.5h1.35v1.35h-1.35zM103.1 86.5h1.35v1.35h-1.35zM100.9 98.0h1.35v1.35h-1.35zM101.9 85.7h1.35v1.35h-1.35zM103.5 91.0h1.35v1.35h-1.35zM96.5 89.0h1.35v1.35h-1.35zM99.2 90.6h1.35v1.35h-1.35zM96.8 97.5h1.35v1.35h-1.35zM95.1 84.5h1.35v1.35h-1.35zM99.8 94.2h1.35v1.35h-1.35zM100.7 84.3h1.35v1.35h-1.35zM100.7 93.0h1.35v1.35h-1.35zM102.8 83.3h1.35v1.35h-1.35zM98.0 88.7h1.35v1.35h-1.35zM92.4 86.3h1.35v1.35h-1.35zM100.8 87.7h1.35v1.35h-1.35zM95.1 95.2h1.35v1.35h-1.35zM100.4 95.8h1.35v1.35h-1.35zM94.9 90.0h1.35v1.35h-1.35zM100.5 86.6h1.35v1.35h-1.35zM95.0 94.9h1.35v1.35h-1.35zM102.1 83.8h1.35v1.35h-1.35zM89.2 82.2h1.35v1.35h-1.35zM94.2 89.5h1.35v1.35h-1.35zM99.2 89.5h1.35v1.35h-1.35zM95.1 91.2h1.35v1.35h-1.35zM94.3 90.0h1.35v1.35h-1.35zM95.3 105.3h1.35v1.35h-1.35zM99.8 85.6h1.35v1.35h-1.35zM94.2 87.8h1.35v1.35h-1.35zM92.2 86.2h1.35v1.35h-1.35zM95.0 95.2h1.35v1.35h-1.35zM96.0 85.9h1.35v1.35h-1.35zM93.1 83.7h1.35v1.35h-1.35zM97.1 89.1h1.35v1.35h-1.35zM100.8 86.8h1.35v1.35h-1.35zM100.6 91.7h1.35v1.35h-1.35zM97.3 79.1h1.35v1.35h-1.35zM93.3 94.5h1.35v1.35h-1.35zM101.6 91.5h1.35v1.35h-1.35zM99.7 88.0h1.35v1.35h-1.35zM96.1 86.6h1.35v1.35h-1.35zM100.3 92.2h1.35v1.35h-1.35zM96.6 88.5h1.35v1.35h-1.35zM99.0 92.1h1.35v1.35h-1.35zM94.7 99.9h1.35v1.35h-1.35zM98.1 90.4h1.35v1.35h-1.35zM101.9 96.0h1.35v1.35h-1.35zM97.0 93.3h1.35v1.35h-1.35zM94.0 86.7h1.35v1.35h-1.35zM90.3 97.1h1.35v1.35h-1.35zM91.4 94.1h1.35v1.35h-1.35zM94.7 84.8h1.35v1.35h-1.35zM96.7 91.8h1.35v1.35h-1.35zM99.2 100.2h1.35v1.35h-1.35zM98.4 95.2h1.35v1.35h-1.35zM95.4 94.3h1.35v1.35h-1.35zM97.8 87.7h1.35v1.35h-1.35zM97.0 90.0h1.35v1.35h-1.35zM97.9 92.5h1.35v1.35h-1.35zM95.7 86.2h1.35v1.35h-1.35zM99.6 80.8h1.35v1.35h-1.35zM95.4 99.0h1.35v1.35h-1.35zM88.9 86.4h1.35v1.35h-1.35zM99.4 81.1h1.35v1.35h-1.35zM105.4 75.8h1.35v1.35h-1.35zM101.8 99.0h1.35v1.35h-1.35zM100.1 89.1h1.35v1.35h-1.35zM98.4 85.3h1.35v1.35h-1.35zM99.8 84.0h1.35v1.35h-1.35zM96.5 95.9h1.35v1.35h-1.35zM93.8 88.3h1.35v1.35h-1.35zM97.8 82.8h1.35v1.35h-1.35zM100.9 92.2h1.35v1.35h-1.35zM92.6 90.0h1.35v1.35h-1.35zM94.9 86.6h1.35v1.35h-1.35zM97.5 86.3h1.35v1.35h-1.35zM100.3 86.4h1.35v1.35h-1.35zM100.3 90.1h1.35v1.35h-1.35zM100.0 87.3h1.35v1.35h-1.35zM95.7 83.8h1.35v1.35h-1.35zM99.1 95.6h1.35v1.35h-1.35zM103.9 97.5h1.35v1.35h-1.35zM98.1 89.1h1.35v1.35h-1.35zM98.5 90.1h1.35v1.35h-1.35zM101.8 95.6h1.35v1.35h-1.35zM94.7 86.4h1.35v1.35h-1.35zM101.5 92.0h1.35v1.35h-1.35zM96.6 96.9h1.35v1.35h-1.35zM96.1 88.7h1.35v1.35h-1.35zM95.9 79.3h1.35v1.35h-1.35zM100.0 83.5h1.35v1.35h-1.35zM95.5 86.1h1.35v1.35h-1.35zM99.6 89.9h1.35v1.35h-1.35zM97.3 80.9h1.35v1.35h-1.35zM97.0 82.0h1.35v1.35h-1.35zM98.3 92.4h1.35v1.35h-1.35zM97.2 101.7h1.35v1.35h-1.35zM98.9 93.6h1.35v1.35h-1.35zM97.7 89.2h1.35v1.35h-1.35zM100.3 96.5h1.35v1.35h-1.35zM93.3 96.2h1.35v1.35h-1.35zM98.9 95.7h1.35v1.35h-1.35zM98.7 83.3h1.35v1.35h-1.35zM93.7 100.5h1.35v1.35h-1.35zM98.1 82.4h1.35v1.35h-1.35zM98.4 88.3h1.35v1.35h-1.35zM91.6 77.5h1.35v1.35h-1.35zM92.3 91.8h1.35v1.35h-1.35zM97.2 88.9h1.35v1.35h-1.35zM98.2 93.7h1.35v1.35h-1.35zM90.8 88.6h1.35v1.35h-1.35zM94.7 83.4h1.35v1.35h-1.35zM95.6 89.6h1.35v1.35h-1.35zM96.5 82.2h1.35v1.35h-1.35zM95.8 101.6h1.35v1.35h-1.35zM94.0 80.9h1.35v1.35h-1.35zM98.6 95.5h1.35v1.35h-1.35zM99.4 82.6h1.35v1.35h-1.35zM101.9 85.1h1.35v1.35h-1.35zM92.1 86.4h1.35v1.35h-1.35zM96.8 96.4h1.35v1.35h-1.35zM100.2 90.8h1.35v1.35h-1.35zM101.6 91.6h1.35v1.35h-1.35zM101.4 80.5h1.35v1.35h-1.35zM90.1 96.8h1.35v1.35h-1.35zM90.9 88.7h1.35v1.35h-1.35zM96.8 87.3h1.35v1.35h-1.35zM95.2 101.4h1.35v1.35h-1.35zM85.7 97.6h1.35v1.35h-1.35zM107.9 91.2h1.35v1.35h-1.35zM97.2 96.4h1.35v1.35h-1.35zM105.7 82.1h1.35v1.35h-1.35zM97.7 89.6h1.35v1.35h-1.35zM99.9 92.2h1.35v1.35h-1.35zM100.3 87.8h1.35v1.35h-1.35zM97.5 86.0h1.35v1.35h-1.35zM94.2 89.9h1.35v1.35h-1.35zM96.6 82.2h1.35v1.35h-1.35zM104.5 90.0h1.35v1.35h-1.35zM90.9 99.3h1.35v1.35h-1.35zM93.9 94.8h1.35v1.35h-1.35zM97.2 92.9h1.35v1.35h-1.35zM98.1 86.7h1.35v1.35h-1.35zM97.5 106.2h1.35v1.35h-1.35zM87.0 91.5h1.35v1.35h-1.35zM99.3 83.1h1.35v1.35h-1.35zM91.0 107.2h1.35v1.35h-1.35zM95.6 106.6h1.35v1.35h-1.35zM99.8 91.6h1.35v1.35h-1.35zM99.5 95.8h1.35v1.35h-1.35zM102.7 94.3h1.35v1.35h-1.35zM98.0 92.3h1.35v1.35h-1.35zM103.5 97.1h1.35v1.35h-1.35zM92.7 86.2h1.35v1.35h-1.35zM98.8 86.3h1.35v1.35h-1.35zM95.6 83.8h1.35v1.35h-1.35zM96.1 94.2h1.35v1.35h-1.35zM101.9 91.1h1.35v1.35h-1.35zM106.8 90.4h1.35v1.35h-1.35zM112.0 98.5h1.35v1.35h-1.35zM99.6 87.3h1.35v1.35h-1.35zM84.3 89.8h1.35v1.35h-1.35zM98.1 105.4h1.35v1.35h-1.35zM91.0 105.3h1.35v1.35h-1.35zM96.1 96.4h1.35v1.35h-1.35zM85.6 92.0h1.35v1.35h-1.35zM95.7 96.1h1.35v1.35h-1.35zM97.7 82.4h1.35v1.35h-1.35zM101.7 96.2h1.35v1.35h-1.35zM100.0 98.6h1.35v1.35h-1.35zM102.4 90.8h1.35v1.35h-1.35zM91.1 80.6h1.35v1.35h-1.35zM103.5 96.3h1.35v1.35h-1.35zM97.8 87.7h1.35v1.35h-1.35zM97.4 91.2h1.35v1.35h-1.35zM95.8 85.8h1.35v1.35h-1.35zM107.3 92.7h1.35v1.35h-1.35zM94.5 81.2h1.35v1.35h-1.35zM94.0 96.4h1.35v1.35h-1.35zM100.8 89.4h1.35v1.35h-1.35zM97.5 88.7h1.35v1.35h-1.35zM92.2 100.8h1.35v1.35h-1.35zM99.0 109.6h1.35v1.35h-1.35zM93.8 90.0h1.35v1.35h-1.35zM101.4 89.2h1.35v1.35h-1.35zM90.9 83.9h1.35v1.35h-1.35zM97.8 93.6h1.35v1.35h-1.35zM96.9 98.5h1.35v1.35h-1.35zM101.9 93.4h1.35v1.35h-1.35zM97.4 89.1h1.35v1.35h-1.35zM99.8 97.9h1.35v1.35h-1.35zM97.6 94.4h1.35v1.35h-1.35zM95.8 80.4h1.35v1.35h-1.35zM92.7 96.7h1.35v1.35h-1.35zM99.4 102.9h1.35v1.35h-1.35zM97.6 97.5h1.35v1.35h-1.35zM103.4 98.5h1.35v1.35h-1.35zM94.5 89.6h1.35v1.35h-1.35zM97.9 83.6h1.35v1.35h-1.35zM99.5 98.7h1.35v1.35h-1.35zM95.1 105.8h1.35v1.35h-1.35zM96.0 89.5h1.35v1.35h-1.35zM96.2 85.7h1.35v1.35h-1.35zM99.2 91.2h1.35v1.35h-1.35zM104.9 95.6h1.35v1.35h-1.35zM99.8 89.3h1.35v1.35h-1.35zM90.8 90.3h1.35v1.35h-1.35zM93.4 98.1h1.35v1.35h-1.35zM97.2 103.5h1.35v1.35h-1.35zM100.7 97.3h1.35v1.35h-1.35zM98.4 92.6h1.35v1.35h-1.35zM100.3 97.9h1.35v1.35h-1.35zM94.0 94.7h1.35v1.35h-1.35zM109.4 90.3h1.35v1.35h-1.35zM96.1 85.8h1.35v1.35h-1.35zM90.6 99.9h1.35v1.35h-1.35zM97.6 93.2h1.35v1.35h-1.35zM105.8 109.8h1.35v1.35h-1.35zM93.2 98.9h1.35v1.35h-1.35zM100.2 94.0h1.35v1.35h-1.35zM99.5 90.8h1.35v1.35h-1.35zM104.6 95.6h1.35v1.35h-1.35zM98.9 100.4h1.35v1.35h-1.35zM101.4 94.5h1.35v1.35h-1.35zM98.8 104.2h1.35v1.35h-1.35zM99.7 90.3h1.35v1.35h-1.35zM93.4 88.4h1.35v1.35h-1.35zM92.5 91.8h1.35v1.35h-1.35zM98.5 75.6h1.35v1.35h-1.35zM97.4 95.9h1.35v1.35h-1.35zM98.1 83.9h1.35v1.35h-1.35zM103.1 85.8h1.35v1.35h-1.35zM91.7 82.9h1.35v1.35h-1.35zM97.2 98.4h1.35v1.35h-1.35zM102.7 92.6h1.35v1.35h-1.35zM91.8 86.1h1.35v1.35h-1.35zM93.2 89.7h1.35v1.35h-1.35zM89.1 91.8h1.35v1.35h-1.35zM100.3 89.9h1.35v1.35h-1.35zM99.4 84.0h1.35v1.35h-1.35zM90.6 86.2h1.35v1.35h-1.35zM102.6 98.7h1.35v1.35h-1.35zM95.2 100.0h1.35v1.35h-1.35zM95.8 102.3h1.35v1.35h-1.35zM99.5 87.6h1.35v1.35h-1.35zM101.0 85.2h1.35v1.35h-1.35zM93.0 80.1h1.35v1.35h-1.35zM98.5 90.6h1.35v1.35h-1.35zM96.9 87.9h1.35v1.35h-1.35zM103.9 87.8h1.35v1.35h-1.35zM94.0 100.3h1.35v1.35h-1.35zM103.8 93.5h1.35v1.35h-1.35zM89.3 86.5h1.35v1.35h-1.35zM100.1 91.1h1.35v1.35h-1.35zM104.4 80.7h1.35v1.35h-1.35zM100.4 86.3h1.35v1.35h-1.35zM103.4 90.4h1.35v1.35h-1.35zM102.0 86.1h1.35v1.35h-1.35zM90.8 82.7h1.35v1.35h-1.35zM94.5 83.3h1.35v1.35h-1.35zM102.8 101.0h1.35v1.35h-1.35zM98.6 83.2h1.35v1.35h-1.35zM96.8 85.9h1.35v1.35h-1.35zM104.0 93.4h1.35v1.35h-1.35zM99.6 88.0h1.35v1.35h-1.35zM88.0 85.2h1.35v1.35h-1.35zM92.2 93.8h1.35v1.35h-1.35zM97.7 85.0h1.35v1.35h-1.35zM95.5 102.7h1.35v1.35h-1.35zM92.9 84.1h1.35v1.35h-1.35zM96.2 85.8h1.35v1.35h-1.35zM95.3 95.0h1.35v1.35h-1.35zM105.3 77.7h1.35v1.35h-1.35zM97.2 91.3h1.35v1.35h-1.35zM96.9 89.6h1.35v1.35h-1.35zM95.7 98.5h1.35v1.35h-1.35zM95.2 90.0h1.35v1.35h-1.35zM97.3 91.8h1.35v1.35h-1.35zM96.5 98.5h1.35v1.35h-1.35zM97.3 92.3h1.35v1.35h-1.35zM97.1 83.5h1.35v1.35h-1.35zM93.5 83.1h1.35v1.35h-1.35zM98.2 85.6h1.35v1.35h-1.35zM92.4 92.8h1.35v1.35h-1.35zM99.7 77.8h1.35v1.35h-1.35zM105.1 91.2h1.35v1.35h-1.35zM96.8 99.0h1.35v1.35h-1.35zM97.6 86.5h1.35v1.35h-1.35zM107.4 82.9h1.35v1.35h-1.35zM96.9 97.4h1.35v1.35h-1.35zM92.4 90.2h1.35v1.35h-1.35zM99.1 109.0h1.35v1.35h-1.35zM93.2 90.6h1.35v1.35h-1.35zM100.3 91.6h1.35v1.35h-1.35zM91.8 94.1h1.35v1.35h-1.35zM97.8 94.3h1.35v1.35h-1.35zM102.5 98.6h1.35v1.35h-1.35zM99.2 93.3h1.35v1.35h-1.35zM92.2 90.0h1.35v1.35h-1.35zM98.3 88.0h1.35v1.35h-1.35zM97.7 84.8h1.35v1.35h-1.35zM104.4 107.1h1.35v1.35h-1.35zM95.5 94.0h1.35v1.35h-1.35zM96.2 100.5h1.35v1.35h-1.35zM99.3 91.6h1.35v1.35h-1.35zM96.3 91.9h1.35v1.35h-1.35zM92.7 96.1h1.35v1.35h-1.35zM94.0 95.0h1.35v1.35h-1.35zM97.9 99.2h1.35v1.35h-1.35zM97.2 98.7h1.35v1.35h-1.35zM93.1 95.6h1.35v1.35h-1.35zM96.3 92.5h1.35v1.35h-1.35zM97.6 98.0h1.35v1.35h-1.35zM88.0 93.4h1.35v1.35h-1.35zM90.4 100.1h1.35v1.35h-1.35zM88.2 83.5h1.35v1.35h-1.35zM93.1 74.2h1.35v1.35h-1.35zM94.6 66.6h1.35v1.35h-1.35zM97.5 57.0h1.35v1.35h-1.35zM98.2 69.3h1.35v1.35h-1.35zM98.8 70.7h1.35v1.35h-1.35zM98.1 66.0h1.35v1.35h-1.35zM98.0 67.7h1.35v1.35h-1.35zM106.7 67.8h1.35v1.35h-1.35zM100.2 62.9h1.35v1.35h-1.35zM96.6 73.3h1.35v1.35h-1.35zM95.3 61.4h1.35v1.35h-1.35zM99.1 63.9h1.35v1.35h-1.35zM106.9 54.2h1.35v1.35h-1.35zM100.9 69.6h1.35v1.35h-1.35zM95.2 62.8h1.35v1.35h-1.35zM101.1 74.1h1.35v1.35h-1.35zM96.0 58.1h1.35v1.35h-1.35zM103.2 73.6h1.35v1.35h-1.35zM98.2 54.9h1.35v1.35h-1.35zM105.0 65.0h1.35v1.35h-1.35zM103.8 65.8h1.35v1.35h-1.35zM98.1 63.7h1.35v1.35h-1.35zM105.1 73.2h1.35v1.35h-1.35zM91.4 61.3h1.35v1.35h-1.35zM106.3 64.2h1.35v1.35h-1.35zM94.3 66.0h1.35v1.35h-1.35zM99.1 65.5h1.35v1.35h-1.35zM97.7 64.4h1.35v1.35h-1.35zM97.8 67.7h1.35v1.35h-1.35zM96.4 64.6h1.35v1.35h-1.35zM99.0 72.5h1.35v1.35h-1.35zM100.9 65.5h1.35v1.35h-1.35zM101.5 68.0h1.35v1.35h-1.35zM103.6 68.5h1.35v1.35h-1.35zM106.3 72.7h1.35v1.35h-1.35zM99.3 63.9h1.35v1.35h-1.35zM102.9 68.6h1.35v1.35h-1.35zM99.1 58.6h1.35v1.35h-1.35zM92.5 67.7h1.35v1.35h-1.35zM102.4 70.0h1.35v1.35h-1.35zM94.6 71.2h1.35v1.35h-1.35zM97.5 67.9h1.35v1.35h-1.35zM101.1 62.0h1.35v1.35h-1.35zM97.3 55.6h1.35v1.35h-1.35zM96.0 57.0h1.35v1.35h-1.35zM101.2 66.3h1.35v1.35h-1.35zM103.0 67.8h1.35v1.35h-1.35zM97.1 67.7h1.35v1.35h-1.35zM98.0 69.0h1.35v1.35h-1.35zM100.7 61.1h1.35v1.35h-1.35zM99.5 66.3h1.35v1.35h-1.35zM98.3 70.5h1.35v1.35h-1.35zM106.0 64.2h1.35v1.35h-1.35zM98.2 54.8h1.35v1.35h-1.35zM99.0 63.8h1.35v1.35h-1.35zM91.3 67.4h1.35v1.35h-1.35zM101.7 62.3h1.35v1.35h-1.35zM98.1 61.2h1.35v1.35h-1.35zM102.4 58.4h1.35v1.35h-1.35zM99.7 68.3h1.35v1.35h-1.35zM98.9 60.1h1.35v1.35h-1.35zM99.4 68.0h1.35v1.35h-1.35zM95.6 67.7h1.35v1.35h-1.35zM104.2 71.3h1.35v1.35h-1.35zM93.5 61.1h1.35v1.35h-1.35zM93.4 71.4h1.35v1.35h-1.35zM101.8 69.5h1.35v1.35h-1.35zM96.2 60.2h1.35v1.35h-1.35zM99.8 66.5h1.35v1.35h-1.35zM96.3 66.7h1.35v1.35h-1.35zM101.9 67.1h1.35v1.35h-1.35zM95.6 55.4h1.35v1.35h-1.35zM98.5 66.8h1.35v1.35h-1.35zM98.5 63.9h1.35v1.35h-1.35zM96.9 69.6h1.35v1.35h-1.35zM99.3 66.6h1.35v1.35h-1.35zM95.8 62.9h1.35v1.35h-1.35zM100.1 61.0h1.35v1.35h-1.35zM94.7 64.4h1.35v1.35h-1.35zM104.1 67.0h1.35v1.35h-1.35zM105.0 65.3h1.35v1.35h-1.35zM98.3 59.0h1.35v1.35h-1.35zM97.3 73.2h1.35v1.35h-1.35zM100.7 69.7h1.35v1.35h-1.35zM102.2 66.0h1.35v1.35h-1.35zM98.7 66.6h1.35v1.35h-1.35zM102.1 68.3h1.35v1.35h-1.35zM101.4 66.8h1.35v1.35h-1.35zM96.6 64.7h1.35v1.35h-1.35zM95.9 71.0h1.35v1.35h-1.35zM91.5 64.9h1.35v1.35h-1.35zM108.6 64.3h1.35v1.35h-1.35zM95.2 65.9h1.35v1.35h-1.35zM104.4 65.2h1.35v1.35h-1.35zM101.8 66.5h1.35v1.35h-1.35zM99.8 63.3h1.35v1.35h-1.35zM97.6 67.9h1.35v1.35h-1.35zM101.1 69.9h1.35v1.35h-1.35zM100.0 58.8h1.35v1.35h-1.35zM101.5 64.5h1.35v1.35h-1.35zM98.4 58.6h1.35v1.35h-1.35zM97.3 62.4h1.35v1.35h-1.35zM99.4 58.7h1.35v1.35h-1.35zM99.7 66.6h1.35v1.35h-1.35zM95.2 62.9h1.35v1.35h-1.35zM96.2 70.5h1.35v1.35h-1.35zM93.2 63.8h1.35v1.35h-1.35zM102.7 62.8h1.35v1.35h-1.35zM100.0 61.8h1.35v1.35h-1.35zM106.9 70.6h1.35v1.35h-1.35zM103.8 59.4h1.35v1.35h-1.35zM95.3 71.4h1.35v1.35h-1.35zM85.6 64.7h1.35v1.35h-1.35zM86.7 59.7h1.35v1.35h-1.35zM87.5 66.1h1.35v1.35h-1.35zM87.0 62.6h1.35v1.35h-1.35zM87.0 62.5h1.35v1.35h-1.35zM87.9 71.6h1.35v1.35h-1.35zM87.8 68.6h1.35v1.35h-1.35zM87.3 52.5h1.35v1.35h-1.35zM87.7 64.6h1.35v1.35h-1.35zM86.2 64.6h1.35v1.35h-1.35zM83.2 63.3h1.35v1.35h-1.35zM87.3 73.1h1.35v1.35h-1.35zM84.8 61.5h1.35v1.35h-1.35zM88.9 61.6h1.35v1.35h-1.35zM94.2 93.7h1.35v1.35h-1.35zM64.2 107.6h1.35v1.35h-1.35zM87.7 85.4h1.35v1.35h-1.35zM88.2 93.0h1.35v1.35h-1.35zM87.2 92.6h1.35v1.35h-1.35zM56.0 106.5h1.35v1.35h-1.35zM85.2 109.7h1.35v1.35h-1.35zM91.5 98.7h1.35v1.35h-1.35zM68.6 96.4h1.35v1.35h-1.35zM67.5 94.6h1.35v1.35h-1.35zM65.0 83.7h1.35v1.35h-1.35zM73.9 98.3h1.35v1.35h-1.35zM100.6 96.8h1.35v1.35h-1.35zM67.8 103.9h1.35v1.35h-1.35zM58.0 98.5h1.35v1.35h-1.35zM54.4 113.1h1.35v1.35h-1.35zM76.4 90.0h1.35v1.35h-1.35zM72.9 105.1h1.35v1.35h-1.35zM77.9 100.1h1.35v1.35h-1.35zM61.8 97.3h1.35v1.35h-1.35zM74.5 104.5h1.35v1.35h-1.35zM61.4 94.2h1.35v1.35h-1.35zM82.7 90.0h1.35v1.35h-1.35zM83.9 97.6h1.35v1.35h-1.35zM84.2 107.6h1.35v1.35h-1.35zM80.6 102.0h1.35v1.35h-1.35zM61.1 97.1h1.35v1.35h-1.35zM81.3 106.9h1.35v1.35h-1.35zM90.6 109.8h1.35v1.35h-1.35zM75.6 99.4h1.35v1.35h-1.35zM82.8 96.4h1.35v1.35h-1.35zM69.6 92.6h1.35v1.35h-1.35zM80.8 89.6h1.35v1.35h-1.35zM75.2 88.7h1.35v1.35h-1.35zM82.0 89.5h1.35v1.35h-1.35zM78.4 86.7h1.35v1.35h-1.35zM69.2 107.6h1.35v1.35h-1.35zM63.5 101.6h1.35v1.35h-1.35zM63.2 85.8h1.35v1.35h-1.35zM76.0 100.9h1.35v1.35h-1.35zM61.1 105.6h1.35v1.35h-1.35zM61.9 94.8h1.35v1.35h-1.35zM71.0 94.7h1.35v1.35h-1.35zM93.9 83.0h1.35v1.35h-1.35zM81.5 103.2h1.35v1.35h-1.35zM48.1 93.5h1.35v1.35h-1.35zM77.2 94.4h1.35v1.35h-1.35zM77.9 105.1h1.35v1.35h-1.35zM66.3 93.3h1.35v1.35h-1.35zM62.6 103.5h1.35v1.35h-1.35zM72.2 89.7h1.35v1.35h-1.35zM92.1 101.1h1.35v1.35h-1.35zM79.1 89.2h1.35v1.35h-1.35zM66.8 96.7h1.35v1.35h-1.35zM65.8 93.0h1.35v1.35h-1.35zM77.0 99.3h1.35v1.35h-1.35zM75.1 94.8h1.35v1.35h-1.35zM86.1 96.7h1.35v1.35h-1.35zM72.9 105.2h1.35v1.35h-1.35zM68.4 98.2h1.35v1.35h-1.35zM66.0 105.0h1.35v1.35h-1.35zM66.3 96.4h1.35v1.35h-1.35zM65.0 104.5h1.35v1.35h-1.35zM63.6 89.9h1.35v1.35h-1.35zM77.5 92.9h1.35v1.35h-1.35zM76.4 100.4h1.35v1.35h-1.35zM86.5 102.3h1.35v1.35h-1.35zM65.6 99.5h1.35v1.35h-1.35zM60.9 113.1h1.35v1.35h-1.35zM78.9 106.6h1.35v1.35h-1.35zM65.3 87.0h1.35v1.35h-1.35zM88.5 95.4h1.35v1.35h-1.35zM73.5 99.0h1.35v1.35h-1.35zM79.7 100.6h1.35v1.35h-1.35zM56.8 110.2h1.35v1.35h-1.35zM65.6 97.5h1.35v1.35h-1.35zM91.9 100.1h1.35v1.35h-1.35zM65.4 88.2h1.35v1.35h-1.35zM74.6 102.0h1.35v1.35h-1.35zM69.1 91.4h1.35v1.35h-1.35zM61.6 93.2h1.35v1.35h-1.35zM75.6 103.6h1.35v1.35h-1.35zM81.8 91.6h1.35v1.35h-1.35zM75.4 101.8h1.35v1.35h-1.35zM66.3 99.5h1.35v1.35h-1.35zM95.0 94.5h1.35v1.35h-1.35zM80.7 93.9h1.35v1.35h-1.35zM69.7 88.1h1.35v1.35h-1.35zM73.7 106.6h1.35v1.35h-1.35zM96.3 100.8h1.35v1.35h-1.35zM79.4 97.5h1.35v1.35h-1.35zM65.3 99.6h1.35v1.35h-1.35zM77.3 92.4h1.35v1.35h-1.35zM80.4 90.3h1.35v1.35h-1.35zM51.4 97.5h1.35v1.35h-1.35zM52.0 94.9h1.35v1.35h-1.35zM83.7 94.7h1.35v1.35h-1.35zM76.2 105.7h1.35v1.35h-1.35zM84.6 92.4h1.35v1.35h-1.35zM86.8 97.8h1.35v1.35h-1.35zM72.7 101.8h1.35v1.35h-1.35zM55.5 97.9h1.35v1.35h-1.35zM71.8 103.1h1.35v1.35h-1.35zM67.8 99.2h1.35v1.35h-1.35zM84.6 105.3h1.35v1.35h-1.35zM82.2 104.9h1.35v1.35h-1.35zM67.2 98.2h1.35v1.35h-1.35zM74.9 96.2h1.35v1.35h-1.35zM69.3 110.8h1.35v1.35h-1.35zM68.3 93.5h1.35v1.35h-1.35zM80.1 109.2h1.35v1.35h-1.35zM74.8 106.5h1.35v1.35h-1.35zM66.5 97.1h1.35v1.35h-1.35zM64.4 100.0h1.35v1.35h-1.35zM89.7 86.7h1.35v1.35h-1.35zM87.8 88.2h1.35v1.35h-1.35zM70.9 104.9h1.35v1.35h-1.35zM79.2 99.1h1.35v1.35h-1.35zM55.0 105.8h1.35v1.35h-1.35zM65.2 118.0h1.35v1.35h-1.35zM70.0 100.8h1.35v1.35h-1.35zM59.0 99.1h1.35v1.35h-1.35zM59.8 108.7h1.35v1.35h-1.35zM70.1 103.3h1.35v1.35h-1.35zM63.9 97.7h1.35v1.35h-1.35zM84.2 89.4h1.35v1.35h-1.35zM53.5 106.5h1.35v1.35h-1.35zM59.1 99.3h1.35v1.35h-1.35zM80.4 91.4h1.35v1.35h-1.35zM80.3 92.3h1.35v1.35h-1.35zM90.0 103.3h1.35v1.35h-1.35zM66.6 98.9h1.35v1.35h-1.35zM63.5 102.5h1.35v1.35h-1.35zM81.9 86.8h1.35v1.35h-1.35zM79.6 88.2h1.35v1.35h-1.35zM60.0 90.1h1.35v1.35h-1.35zM94.5 93.6h1.35v1.35h-1.35zM73.5 94.1h1.35v1.35h-1.35zM80.0 82.9h1.35v1.35h-1.35zM75.8 112.8h1.35v1.35h-1.35zM68.0 100.1h1.35v1.35h-1.35zM77.9 92.1h1.35v1.35h-1.35zM73.8 105.0h1.35v1.35h-1.35zM74.7 100.8h1.35v1.35h-1.35zM68.8 101.9h1.35v1.35h-1.35zM74.9 108.0h1.35v1.35h-1.35zM79.3 95.5h1.35v1.35h-1.35zM47.1 110.2h1.35v1.35h-1.35zM78.6 91.2h1.35v1.35h-1.35zM48.9 97.2h1.35v1.35h-1.35zM80.2 89.8h1.35v1.35h-1.35zM67.5 101.6h1.35v1.35h-1.35zM85.0 95.6h1.35v1.35h-1.35zM70.0 95.8h1.35v1.35h-1.35zM91.1 101.3h1.35v1.35h-1.35zM68.7 90.5h1.35v1.35h-1.35zM64.5 104.8h1.35v1.35h-1.35zM65.7 106.6h1.35v1.35h-1.35zM76.3 99.9h1.35v1.35h-1.35zM79.8 100.4h1.35v1.35h-1.35zM62.4 99.3h1.35v1.35h-1.35zM95.0 85.0h1.35v1.35h-1.35zM68.7 107.0h1.35v1.35h-1.35zM69.9 99.0h1.35v1.35h-1.35zM83.9 98.1h1.35v1.35h-1.35zM67.1 101.4h1.35v1.35h-1.35zM49.2 103.6h1.35v1.35h-1.35zM78.5 105.6h1.35v1.35h-1.35zM57.0 110.5h1.35v1.35h-1.35zM86.7 104.4h1.35v1.35h-1.35zM56.5 113.0h1.35v1.35h-1.35zM60.3 104.6h1.35v1.35h-1.35zM53.2 94.7h1.35v1.35h-1.35zM60.6 91.7h1.35v1.35h-1.35zM74.0 89.8h1.35v1.35h-1.35zM59.0 94.7h1.35v1.35h-1.35zM49.2 91.0h1.35v1.35h-1.35zM73.4 105.1h1.35v1.35h-1.35zM80.1 105.2h1.35v1.35h-1.35zM51.9 103.3h1.35v1.35h-1.35zM66.1 97.6h1.35v1.35h-1.35zM50.1 99.6h1.35v1.35h-1.35zM47.8 94.5h1.35v1.35h-1.35zM63.9 111.0h1.35v1.35h-1.35zM59.9 88.4h1.35v1.35h-1.35zM86.4 96.0h1.35v1.35h-1.35zM47.6 102.3h1.35v1.35h-1.35zM76.1 92.5h1.35v1.35h-1.35zM80.0 109.4h1.35v1.35h-1.35zM65.8 100.0h1.35v1.35h-1.35zM69.5 97.3h1.35v1.35h-1.35zM58.1 89.6h1.35v1.35h-1.35zM58.4 95.0h1.35v1.35h-1.35zM49.4 102.7h1.35v1.35h-1.35zM87.8 95.0h1.35v1.35h-1.35zM48.3 89.1h1.35v1.35h-1.35zM53.2 102.5h1.35v1.35h-1.35zM79.6 95.6h1.35v1.35h-1.35zM67.6 109.2h1.35v1.35h-1.35zM70.0 105.3h1.35v1.35h-1.35zM60.3 106.0h1.35v1.35h-1.35zM54.3 110.3h1.35v1.35h-1.35zM83.0 108.3h1.35v1.35h-1.35zM52.6 96.2h1.35v1.35h-1.35zM60.3 102.2h1.35v1.35h-1.35zM80.8 94.5h1.35v1.35h-1.35zM60.4 93.0h1.35v1.35h-1.35zM89.8 93.1h1.35v1.35h-1.35zM54.9 90.8h1.35v1.35h-1.35zM70.7 94.0h1.35v1.35h-1.35zM71.2 93.6h1.35v1.35h-1.35zM69.5 104.8h1.35v1.35h-1.35zM81.8 94.3h1.35v1.35h-1.35zM49.1 89.2h1.35v1.35h-1.35zM71.6 98.5h1.35v1.35h-1.35zM82.5 93.0h1.35v1.35h-1.35zM49.3 105.2h1.35v1.35h-1.35zM71.6 93.5h1.35v1.35h-1.35zM86.9 94.9h1.35v1.35h-1.35zM90.2 86.9h1.35v1.35h-1.35zM79.4 91.3h1.35v1.35h-1.35zM81.4 96.1h1.35v1.35h-1.35zM82.7 100.8h1.35v1.35h-1.35zM90.1 96.5h1.35v1.35h-1.35zM82.5 95.8h1.35v1.35h-1.35zM87.2 88.2h1.35v1.35h-1.35zM85.4 96.2h1.35v1.35h-1.35zM84.9 100.1h1.35v1.35h-1.35zM88.9 89.3h1.35v1.35h-1.35zM84.5 89.2h1.35v1.35h-1.35zM86.3 89.1h1.35v1.35h-1.35zM87.7 94.7h1.35v1.35h-1.35zM87.9 92.3h1.35v1.35h-1.35zM78.2 100.9h1.35v1.35h-1.35zM83.3 99.2h1.35v1.35h-1.35zM85.7 96.0h1.35v1.35h-1.35zM91.3 94.5h1.35v1.35h-1.35zM89.6 86.3h1.35v1.35h-1.35zM87.5 91.9h1.35v1.35h-1.35zM83.5 93.0h1.35v1.35h-1.35zM85.4 100.5h1.35v1.35h-1.35zM76.6 93.2h1.35v1.35h-1.35zM81.1 98.2h1.35v1.35h-1.35zM82.3 95.1h1.35v1.35h-1.35zM82.4 96.0h1.35v1.35h-1.35zM88.1 91.2h1.35v1.35h-1.35zM84.2 86.6h1.35v1.35h-1.35zM85.2 96.9h1.35v1.35h-1.35zM81.8 98.0h1.35v1.35h-1.35zM75.7 84.7h1.35v1.35h-1.35zM78.4 90.8h1.35v1.35h-1.35zM84.1 92.6h1.35v1.35h-1.35zM83.7 96.3h1.35v1.35h-1.35zM82.1 87.3h1.35v1.35h-1.35zM79.0 102.5h1.35v1.35h-1.35zM74.6 92.2h1.35v1.35h-1.35zM89.8 95.2h1.35v1.35h-1.35zM80.7 93.0h1.35v1.35h-1.35zM87.5 98.4h1.35v1.35h-1.35zM80.4 96.4h1.35v1.35h-1.35zM85.0 98.0h1.35v1.35h-1.35zM89.6 91.5h1.35v1.35h-1.35zM78.2 94.8h1.35v1.35h-1.35zM61.7 64.4h1.35v1.35h-1.35zM75.7 68.2h1.35v1.35h-1.35zM85.3 82.5h1.35v1.35h-1.35zM56.2 62.2h1.35v1.35h-1.35zM81.4 83.4h1.35v1.35h-1.35zM58.9 62.9h1.35v1.35h-1.35zM63.3 58.6h1.35v1.35h-1.35zM50.8 71.4h1.35v1.35h-1.35zM85.2 79.9h1.35v1.35h-1.35zM61.8 68.1h1.35v1.35h-1.35zM76.5 81.3h1.35v1.35h-1.35zM46.2 67.9h1.35v1.35h-1.35zM76.4 80.5h1.35v1.35h-1.35zM55.2 59.4h1.35v1.35h-1.35zM65.3 64.5h1.35v1.35h-1.35zM75.3 59.7h1.35v1.35h-1.35zM52.7 78.2h1.35v1.35h-1.35zM68.7 70.1h1.35v1.35h-1.35zM82.6 75.7h1.35v1.35h-1.35zM52.4 63.2h1.35v1.35h-1.35zM66.0 78.0h1.35v1.35h-1.35zM53.3 85.8h1.35v1.35h-1.35zM51.4 58.4h1.35v1.35h-1.35zM67.0 65.6h1.35v1.35h-1.35zM65.5 82.1h1.35v1.35h-1.35zM74.0 81.5h1.35v1.35h-1.35zM83.6 82.2h1.35v1.35h-1.35zM76.8 62.8h1.35v1.35h-1.35zM60.1 72.9h1.35v1.35h-1.35zM66.9 58.6h1.35v1.35h-1.35zM75.3 68.9h1.35v1.35h-1.35zM82.7 73.3h1.35v1.35h-1.35zM75.7 63.8h1.35v1.35h-1.35zM67.6 68.7h1.35v1.35h-1.35zM51.0 67.0h1.35v1.35h-1.35zM84.1 58.5h1.35v1.35h-1.35zM74.3 73.0h1.35v1.35h-1.35zM82.2 70.4h1.35v1.35h-1.35zM83.6 86.9h1.35v1.35h-1.35zM78.5 76.2h1.35v1.35h-1.35zM90.1 72.1h1.35v1.35h-1.35zM76.9 69.4h1.35v1.35h-1.35zM84.3 79.0h1.35v1.35h-1.35zM81.0 76.2h1.35v1.35h-1.35zM89.5 81.1h1.35v1.35h-1.35zM73.5 75.8h1.35v1.35h-1.35zM82.5 80.2h1.35v1.35h-1.35zM80.5 72.0h1.35v1.35h-1.35zM79.1 65.2h1.35v1.35h-1.35zM81.7 72.3h1.35v1.35h-1.35zM84.6 69.7h1.35v1.35h-1.35zM79.2 69.9h1.35v1.35h-1.35zM75.4 80.0h1.35v1.35h-1.35zM79.0 78.5h1.35v1.35h-1.35zM53.2 110.7h1.35v1.35h-1.35zM61.1 110.1h1.35v1.35h-1.35zM53.0 111.3h1.35v1.35h-1.35zM92.3 102.5h1.35v1.35h-1.35zM48.8 101.2h1.35v1.35h-1.35zM57.3 106.6h1.35v1.35h-1.35zM92.6 110.4h1.35v1.35h-1.35zM91.3 104.7h1.35v1.35h-1.35zM103.4 103.4h1.35v1.35h-1.35zM68.6 108.5h1.35v1.35h-1.35zM48.7 107.8h1.35v1.35h-1.35zM93.7 105.1h1.35v1.35h-1.35zM62.9 117.6h1.35v1.35h-1.35zM91.6 117.9h1.35v1.35h-1.35zM47.1 100.9h1.35v1.35h-1.35zM48.1 109.1h1.35v1.35h-1.35zM81.3 104.5h1.35v1.35h-1.35zM86.4 106.4h1.35v1.35h-1.35zM112.4 96.6h1.35v1.35h-1.35zM113.0 112.7h1.35v1.35h-1.35zM112.4 111.1h1.35v1.35h-1.35zM113.6 100.4h1.35v1.35h-1.35zM120.4 108.8h1.35v1.35h-1.35z"/>
<path fill="#000" d="M268.0 71.4h1.35v1.35h-1.35zM263.6 72.0h1.35v1.35h-1.35zM264.2 89.1h1.35v1.35h-1.35zM268.2 79.8h1.35v1.35h-1.35zM267.7 78.6h1.35v1.35h-1.35zM262.2 73.4h1.35v1.35h-1.35zM264.0 96.0h1.35v1.35h-1.35zM262.4 94.5h1.35v1.35h-1.35zM271.2 83.2h1.35v1.35h-1.35zM266.7 79.7h1.35v1.35h-1.35zM266.8 89.9h1.35v1.35h-1.35zM266.9 92.6h1.35v1.35h-1.35zM270.7 87.3h1.35v1.35h-1.35zM267.9 84.1h1.35v1.35h-1.35zM268.0 75.7h1.35v1.35h-1.35zM268.2 86.2h1.35v1.35h-1.35zM264.0 101.8h1.35v1.35h-1.35zM263.6 77.6h1.35v1.35h-1.35zM267.7 69.1h1.35v1.35h-1.35zM264.2 72.4h1.35v1.35h-1.35zM263.6 83.5h1.35v1.35h-1.35zM267.9 93.4h1.35v1.35h-1.35zM269.5 94.0h1.35v1.35h-1.35zM268.8 80.8h1.35v1.35h-1.35zM270.5 80.7h1.35v1.35h-1.35zM264.8 96.8h1.35v1.35h-1.35zM269.4 86.3h1.35v1.35h-1.35zM269.3 91.6h1.35v1.35h-1.35zM262.3 83.8h1.35v1.35h-1.35zM262.9 85.5h1.35v1.35h-1.35zM264.6 95.4h1.35v1.35h-1.35zM268.5 78.1h1.35v1.35h-1.35zM266.8 74.9h1.35v1.35h-1.35zM267.0 88.9h1.35v1.35h-1.35zM267.7 69.1h1.35v1.35h-1.35zM265.7 88.6h1.35v1.35h-1.35zM267.8 93.8h1.35v1.35h-1.35zM262.6 88.7h1.35v1.35h-1.35zM264.7 86.1h1.35v1.35h-1.35zM268.2 90.0h1.35v1.35h-1.35zM264.9 86.0h1.35v1.35h-1.35zM263.0 73.3h1.35v1.35h-1.35zM268.6 84.1h1.35v1.35h-1.35zM261.5 77.7h1.35v1.35h-1.35zM266.9 97.0h1.35v1.35h-1.35zM270.3 90.9h1.35v1.35h-1.35zM260.9 83.8h1.35v1.35h-1.35zM268.4 87.7h1.35v1.35h-1.35zM268.2 82.7h1.35v1.35h-1.35zM272.6 96.3h1.35v1.35h-1.35zM266.5 76.7h1.35v1.35h-1.35zM273.6 80.1h1.35v1.35h-1.35zM270.8 99.8h1.35v1.35h-1.35zM263.7 86.9h1.35v1.35h-1.35zM265.7 88.7h1.35v1.35h-1.35zM267.9 100.1h1.35v1.35h-1.35zM268.8 84.5h1.35v1.35h-1.35zM270.5 82.4h1.35v1.35h-1.35zM265.6 102.4h1.35v1.35h-1.35zM264.1 80.6h1.35v1.35h-1.35zM267.0 76.1h1.35v1.35h-1.35zM259.8 93.0h1.35v1.35h-1.35zM264.2 80.2h1.35v1.35h-1.35zM265.6 76.7h1.35v1.35h-1.35zM263.3 85.8h1.35v1.35h-1.35zM274.7 90.4h1.35v1.35h-1.35zM269.3 72.5h1.35v1.35h-1.35zM266.7 75.1h1.35v1.35h-1.35zM269.4 82.7h1.35v1.35h-1.35zM266.9 83.8h1.35v1.35h-1.35zM264.9 72.4h1.35v1.35h-1.35zM268.7 73.5h1.35v1.35h-1.35zM262.9 82.1h1.35v1.35h-1.35zM264.5 86.6h1.35v1.35h-1.35zM270.1 86.5h1.35v1.35h-1.35zM267.5 84.7h1.35v1.35h-1.35zM269.6 69.8h1.35v1.35h-1.35zM268.0 77.1h1.35v1.35h-1.35zM262.7 84.6h1.35v1.35h-1.35zM265.5 89.2h1.35v1.35h-1.35zM270.4 65.9h1.35v1.35h-1.35zM266.6 100.2h1.35v1.35h-1.35zM269.7 96.1h1.35v1.35h-1.35zM267.1 73.0h1.35v1.35h-1.35zM263.1 90.2h1.35v1.35h-1.35zM270.0 78.7h1.35v1.35h-1.35zM265.9 86.6h1.35v1.35h-1.35zM261.0 81.7h1.35v1.35h-1.35zM272.1 102.0h1.35v1.35h-1.35zM266.4 99.2h1.35v1.35h-1.35zM265.1 78.0h1.35v1.35h-1.35zM259.4 92.2h1.35v1.35h-1.35zM265.6 103.2h1.35v1.35h-1.35zM267.9 86.0h1.35v1.35h-1.35zM260.8 96.5h1.35v1.35h-1.35zM265.6 83.2h1.35v1.35h-1.35zM259.5 91.9h1.35v1.35h-1.35zM270.1 79.7h1.35v1.35h-1.35zM267.1 87.7h1.35v1.35h-1.35zM270.0 85.4h1.35v1.35h-1.35zM272.5 82.6h1.35v1.35h-1.35zM264.8 80.8h1.35v1.35h-1.35zM258.4 78.1h1.35v1.35h-1.35zM270.1 86.7h1.35v1.35h-1.35zM264.1 87.4h1.35v1.35h-1.35zM260.2 82.3h1.35v1.35h-1.35zM268.6 90.1h1.35v1.35h-1.35zM264.3 91.9h1.35v1.35h-1.35zM273.0 81.2h1.35v1.35h-1.35zM269.3 72.1h1.35v1.35h-1.35zM260.3 89.5h1.35v1.35h-1.35zM267.0 86.2h1.35v1.35h-1.35zM264.9 82.2h1.35v1.35h-1.35zM269.5 98.3h1.35v1.35h-1.35zM266.1 71.4h1.35v1.35h-1.35zM271.0 89.4h1.35v1.35h-1.35zM269.1 86.0h1.35v1.35h-1.35zM274.5 85.2h1.35v1.35h-1.35zM268.5 69.8h1.35v1.35h-1.35zM264.9 79.1h1.35v1.35h-1.35zM266.7 87.4h1.35v1.35h-1.35zM264.4 98.4h1.35v1.35h-1.35zM263.3 81.0h1.35v1.35h-1.35zM267.6 74.6h1.35v1.35h-1.35zM268.7 89.7h1.35v1.35h-1.35zM265.9 99.9h1.35v1.35h-1.35zM267.1 86.8h1.35v1.35h-1.35zM263.7 71.2h1.35v1.35h-1.35zM264.7 82.0h1.35v1.35h-1.35zM265.3 90.7h1.35v1.35h-1.35zM259.0 75.5h1.35v1.35h-1.35zM260.8 95.3h1.35v1.35h-1.35zM265.0 80.5h1.35v1.35h-1.35zM263.2 91.8h1.35v1.35h-1.35zM265.5 86.4h1.35v1.35h-1.35zM260.1 94.0h1.35v1.35h-1.35zM268.1 89.0h1.35v1.35h-1.35zM270.9 83.1h1.35v1.35h-1.35zM266.3 90.3h1.35v1.35h-1.35zM268.2 82.6h1.35v1.35h-1.35zM267.0 80.6h1.35v1.35h-1.35zM269.2 92.1h1.35v1.35h-1.35zM266.9 99.7h1.35v1.35h-1.35zM261.8 82.7h1.35v1.35h-1.35zM272.5 81.2h1.35v1.35h-1.35zM261.5 95.8h1.35v1.35h-1.35zM268.6 75.0h1.35v1.35h-1.35zM269.4 76.4h1.35v1.35h-1.35zM262.4 83.4h1.35v1.35h-1.35zM265.3 75.8h1.35v1.35h-1.35zM265.6 76.6h1.35v1.35h-1.35zM267.0 84.4h1.35v1.35h-1.35zM269.3 81.0h1.35v1.35h-1.35zM262.4 74.0h1.35v1.35h-1.35zM266.0 96.9h1.35v1.35h-1.35zM269.7 79.5h1.35v1.35h-1.35zM270.0 75.3h1.35v1.35h-1.35zM270.2 81.6h1.35v1.35h-1.35zM269.4 89.6h1.35v1.35h-1.35zM265.9 87.3h1.35v1.35h-1.35zM263.3 84.0h1.35v1.35h-1.35zM270.4 117.5h1.35v1.35h-1.35zM269.2 85.3h1.35v1.35h-1.35zM263.5 93.1h1.35v1.35h-1.35zM261.4 78.2h1.35v1.35h-1.35zM268.0 75.0h1.35v1.35h-1.35zM271.9 93.4h1.35v1.35h-1.35zM265.0 80.2h1.35v1.35h-1.35zM262.5 73.4h1.35v1.35h-1.35zM268.3 89.6h1.35v1.35h-1.35zM268.0 86.8h1.35v1.35h-1.35zM265.0 87.5h1.35v1.35h-1.35zM262.0 84.7h1.35v1.35h-1.35zM271.7 95.2h1.35v1.35h-1.35zM265.3 81.9h1.35v1.35h-1.35zM271.4 99.0h1.35v1.35h-1.35zM261.9 81.2h1.35v1.35h-1.35zM267.6 94.4h1.35v1.35h-1.35zM264.1 89.8h1.35v1.35h-1.35zM265.9 103.7h1.35v1.35h-1.35zM268.3 83.6h1.35v1.35h-1.35zM265.7 93.1h1.35v1.35h-1.35zM269.1 75.9h1.35v1.35h-1.35zM267.6 73.9h1.35v1.35h-1.35zM264.3 74.2h1.35v1.35h-1.35zM262.5 79.1h1.35v1.35h-1.35zM263.6 88.9h1.35v1.35h-1.35zM269.5 82.7h1.35v1.35h-1.35zM263.1 91.1h1.35v1.35h-1.35zM260.1 69.1h1.35v1.35h-1.35zM269.3 89.9h1.35v1.35h-1.35zM270.1 82.9h1.35v1.35h-1.35zM262.7 80.5h1.35v1.35h-1.35zM268.7 78.5h1.35v1.35h-1.35zM264.5 73.4h1.35v1.35h-1.35zM263.0 91.4h1.35v1.35h-1.35zM268.4 75.3h1.35v1.35h-1.35zM263.3 80.1h1.35v1.35h-1.35zM268.7 75.3h1.35v1.35h-1.35zM266.3 67.4h1.35v1.35h-1.35zM262.7 88.0h1.35v1.35h-1.35zM269.8 75.4h1.35v1.35h-1.35zM264.3 91.1h1.35v1.35h-1.35zM265.6 80.3h1.35v1.35h-1.35zM268.6 86.2h1.35v1.35h-1.35zM270.5 91.0h1.35v1.35h-1.35zM264.9 83.7h1.35v1.35h-1.35zM266.7 73.8h1.35v1.35h-1.35zM263.6 92.5h1.35v1.35h-1.35zM261.6 92.6h1.35v1.35h-1.35zM267.8 83.5h1.35v1.35h-1.35zM268.6 88.5h1.35v1.35h-1.35zM270.9 81.4h1.35v1.35h-1.35zM266.1 82.7h1.35v1.35h-1.35zM273.1 92.3h1.35v1.35h-1.35zM263.8 82.0h1.35v1.35h-1.35zM264.5 84.8h1.35v1.35h-1.35zM267.6 103.1h1.35v1.35h-1.35zM260.8 92.9h1.35v1.35h-1.35zM268.3 79.0h1.35v1.35h-1.35zM266.4 80.7h1.35v1.35h-1.35zM267.0 92.8h1.35v1.35h-1.35zM261.8 95.2h1.35v1.35h-1.35zM265.6 96.7h1.35v1.35h-1.35zM268.2 94.6h1.35v1.35h-1.35zM268.7 93.4h1.35v1.35h-1.35zM267.1 78.0h1.35v1.35h-1.35zM269.1 90.4h1.35v1.35h-1.35zM273.8 68.6h1.35v1.35h-1.35zM266.2 93.2h1.35v1.35h-1.35zM262.7 82.9h1.35v1.35h-1.35zM273.9 96.1h1.35v1.35h-1.35zM264.0 96.2h1.35v1.35h-1.35zM270.8 91.0h1.35v1.35h-1.35zM268.2 86.7h1.35v1.35h-1.35zM264.0 80.6h1.35v1.35h-1.35zM269.3 85.9h1.35v1.35h-1.35zM273.0 82.1h1.35v1.35h-1.35zM259.0 82.1h1.35v1.35h-1.35zM267.8 87.8h1.35v1.35h-1.35zM267.1 78.2h1.35v1.35h-1.35zM271.8 79.4h1.35v1.35h-1.35zM269.3 82.5h1.35v1.35h-1.35zM263.0 96.1h1.35v1.35h-1.35zM258.6 78.0h1.35v1.35h-1.35zM268.3 81.9h1.35v1.35h-1.35zM269.4 84.0h1.35v1.35h-1.35zM265.4 102.1h1.35v1.35h-1.35zM266.2 83.5h1.35v1.35h-1.35zM263.3 78.8h1.35v1.35h-1.35zM269.1 89.3h1.35v1.35h-1.35zM266.9 79.2h1.35v1.35h-1.35zM269.2 71.2h1.35v1.35h-1.35zM265.8 82.8h1.35v1.35h-1.35zM264.1 86.1h1.35v1.35h-1.35zM264.7 78.4h1.35v1.35h-1.35zM272.9 90.8h1.35v1.35h-1.35zM270.9 85.3h1.35v1.35h-1.35zM270.1 91.1h1.35v1.35h-1.35zM271.0 103.8h1.35v1.35h-1.35zM266.2 87.0h1.35v1.35h-1.35zM266.8 56.8h1.35v1.35h-1.35zM262.4 85.1h1.35v1.35h-1.35zM269.1 80.3h1.35v1.35h-1.35zM270.7 95.2h1.35v1.35h-1.35zM265.6 96.3h1.35v1.35h-1.35zM272.8 88.7h1.35v1.35h-1.35zM263.7 96.7h1.35v1.35h-1.35zM266.4 82.0h1.35v1.35h-1.35zM267.4 80.7h1.35v1.35h-1.35zM270.5 91.2h1.35v1.35h-1.35zM271.0 89.6h1.35v1.35h-1.35zM264.4 83.7h1.35v1.35h-1.35zM269.9 81.7h1.35v1.35h-1.35zM276.6 83.1h1.35v1.35h-1.35zM265.1 94.2h1.35v1.35h-1.35zM269.5 84.8h1.35v1.35h-1.35zM266.2 88.4h1.35v1.35h-1.35zM269.8 91.1h1.35v1.35h-1.35zM266.0 88.5h1.35v1.35h-1.35zM269.8 91.1h1.35v1.35h-1.35zM256.8 77.9h1.35v1.35h-1.35zM264.4 83.2h1.35v1.35h-1.35zM267.6 92.4h1.35v1.35h-1.35zM269.0 84.0h1.35v1.35h-1.35zM267.1 99.1h1.35v1.35h-1.35zM265.0 87.4h1.35v1.35h-1.35zM272.2 87.8h1.35v1.35h-1.35zM260.3 88.0h1.35v1.35h-1.35zM265.7 84.1h1.35v1.35h-1.35zM270.5 88.8h1.35v1.35h-1.35zM266.1 92.1h1.35v1.35h-1.35zM268.4 85.8h1.35v1.35h-1.35zM268.0 87.0h1.35v1.35h-1.35zM265.9 81.3h1.35v1.35h-1.35zM267.1 77.4h1.35v1.35h-1.35zM262.8 95.4h1.35v1.35h-1.35zM266.2 84.8h1.35v1.35h-1.35zM266.6 85.2h1.35v1.35h-1.35zM267.1 85.5h1.35v1.35h-1.35zM264.3 92.5h1.35v1.35h-1.35zM264.7 93.3h1.35v1.35h-1.35zM260.7 76.5h1.35v1.35h-1.35zM270.3 83.8h1.35v1.35h-1.35zM264.8 88.0h1.35v1.35h-1.35zM263.5 85.6h1.35v1.35h-1.35zM259.7 81.4h1.35v1.35h-1.35zM264.9 89.3h1.35v1.35h-1.35zM269.9 78.2h1.35v1.35h-1.35zM272.3 80.3h1.35v1.35h-1.35zM260.2 66.0h1.35v1.35h-1.35zM272.1 84.3h1.35v1.35h-1.35zM264.9 79.0h1.35v1.35h-1.35zM263.4 95.8h1.35v1.35h-1.35zM266.7 99.3h1.35v1.35h-1.35zM266.3 66.2h1.35v1.35h-1.35zM269.8 82.1h1.35v1.35h-1.35zM266.2 97.5h1.35v1.35h-1.35zM266.1 94.3h1.35v1.35h-1.35zM267.0 79.0h1.35v1.35h-1.35zM268.7 80.2h1.35v1.35h-1.35zM271.1 92.7h1.35v1.35h-1.35zM267.2 89.9h1.35v1.35h-1.35zM268.9 82.8h1.35v1.35h-1.35zM270.0 83.2h1.35v1.35h-1.35zM269.0 77.4h1.35v1.35h-1.35zM267.3 88.3h1.35v1.35h-1.35zM264.4 81.7h1.35v1.35h-1.35zM265.2 90.8h1.35v1.35h-1.35zM264.6 88.5h1.35v1.35h-1.35zM272.0 87.9h1.35v1.35h-1.35zM261.7 86.0h1.35v1.35h-1.35zM270.5 82.8h1.35v1.35h-1.35zM270.7 90.0h1.35v1.35h-1.35zM268.4 83.0h1.35v1.35h-1.35zM265.3 83.0h1.35v1.35h-1.35zM267.2 89.3h1.35v1.35h-1.35zM268.4 82.7h1.35v1.35h-1.35zM267.2 88.2h1.35v1.35h-1.35zM261.7 78.9h1.35v1.35h-1.35zM264.4 83.5h1.35v1.35h-1.35zM266.1 83.0h1.35v1.35h-1.35zM264.2 90.5h1.35v1.35h-1.35zM268.0 72.0h1.35v1.35h-1.35zM267.1 76.1h1.35v1.35h-1.35zM272.7 81.5h1.35v1.35h-1.35zM265.8 85.8h1.35v1.35h-1.35zM266.4 84.7h1.35v1.35h-1.35zM272.2 86.9h1.35v1.35h-1.35zM269.8 94.2h1.35v1.35h-1.35zM263.8 98.6h1.35v1.35h-1.35zM269.3 92.8h1.35v1.35h-1.35zM264.2 91.7h1.35v1.35h-1.35zM268.4 80.8h1.35v1.35h-1.35zM274.6 89.7h1.35v1.35h-1.35zM266.3 86.7h1.35v1.35h-1.35zM270.1 94.2h1.35v1.35h-1.35zM269.0 94.9h1.35v1.35h-1.35zM271.9 75.3h1.35v1.35h-1.35zM265.5 77.6h1.35v1.35h-1.35zM267.4 96.7h1.35v1.35h-1.35zM269.2 76.8h1.35v1.35h-1.35zM266.1 93.4h1.35v1.35h-1.35zM265.3 84.4h1.35v1.35h-1.35zM268.1 70.6h1.35v1.35h-1.35zM269.6 87.9h1.35v1.35h-1.35zM268.9 77.3h1.35v1.35h-1.35zM264.5 80.4h1.35v1.35h-1.35zM267.9 85.7h1.35v1.35h-1.35zM267.5 99.5h1.35v1.35h-1.35zM271.4 79.4h1.35v1.35h-1.35zM264.9 98.9h1.35v1.35h-1.35zM266.0 96.2h1.35v1.35h-1.35zM272.3 80.8h1.35v1.35h-1.35zM266.2 85.8h1.35v1.35h-1.35zM264.2 77.3h1.35v1.35h-1.35zM265.7 92.0h1.35v1.35h-1.35zM265.6 83.5h1.35v1.35h-1.35zM265.5 74.2h1.35v1.35h-1.35zM272.0 66.4h1.35v1.35h-1.35zM264.9 89.6h1.35v1.35h-1.35zM262.5 90.0h1.35v1.35h-1.35zM271.2 78.3h1.35v1.35h-1.35zM267.8 76.3h1.35v1.35h-1.35zM268.7 85.9h1.35v1.35h-1.35zM267.8 96.1h1.35v1.35h-1.35zM268.6 95.9h1.35v1.35h-1.35zM269.2 75.6h1.35v1.35h-1.35zM267.9 89.1h1.35v1.35h-1.35zM262.3 95.8h1.35v1.35h-1.35zM267.3 88.1h1.35v1.35h-1.35zM264.1 85.7h1.35v1.35h-1.35zM268.1 82.5h1.35v1.35h-1.35zM267.3 68.2h1.35v1.35h-1.35zM271.6 76.2h1.35v1.35h-1.35zM259.9 77.5h1.35v1.35h-1.35zM264.3 89.5h1.35v1.35h-1.35zM264.0 87.4h1.35v1.35h-1.35zM263.9 102.8h1.35v1.35h-1.35zM268.9 100.8h1.35v1.35h-1.35zM263.7 90.5h1.35v1.35h-1.35zM263.9 89.8h1.35v1.35h-1.35zM269.3 72.4h1.35v1.35h-1.35zM263.3 75.8h1.35v1.35h-1.35zM262.1 79.3h1.35v1.35h-1.35zM263.9 73.6h1.35v1.35h-1.35zM267.4 89.5h1.35v1.35h-1.35zM262.7 80.7h1.35v1.35h-1.35zM267.1 83.3h1.35v1.35h-1.35zM264.7 91.6h1.35v1.35h-1.35zM269.8 90.5h1.35v1.35h-1.35zM266.4 101.0h1.35v1.35h-1.35zM272.8 81.9h1.35v1.35h-1.35zM266.6 94.6h1.35v1.35h-1.35zM264.4 88.3h1.35v1.35h-1.35zM267.2 79.5h1.35v1.35h-1.35zM266.3 72.5h1.35v1.35h-1.35zM265.2 69.1h1.35v1.35h-1.35zM274.6 97.1h1.35v1.35h-1.35zM271.1 87.5h1.35v1.35h-1.35zM270.3 95.2h1.35v1.35h-1.35zM270.4 92.4h1.35v1.35h-1.35zM264.0 88.5h1.35v1.35h-1.35zM265.3 75.6h1.35v1.35h-1.35zM263.3 88.5h1.35v1.35h-1.35zM270.5 74.1h1.35v1.35h-1.35zM272.8 96.8h1.35v1.35h-1.35zM265.8 81.3h1.35v1.35h-1.35zM266.8 92.9h1.35v1.35h-1.35zM265.7 76.2h1.35v1.35h-1.35zM268.1 68.5h1.35v1.35h-1.35zM267.5 94.3h1.35v1.35h-1.35zM268.0 91.3h1.35v1.35h-1.35zM268.6 90.8h1.35v1.35h-1.35zM267.5 78.4h1.35v1.35h-1.35zM266.3 84.4h1.35v1.35h-1.35zM271.2 98.0h1.35v1.35h-1.35zM268.4 79.0h1.35v1.35h-1.35zM264.6 83.5h1.35v1.35h-1.35zM271.6 87.7h1.35v1.35h-1.35zM266.8 78.9h1.35v1.35h-1.35zM269.9 87.3h1.35v1.35h-1.35zM266.8 85.8h1.35v1.35h-1.35zM272.6 83.7h1.35v1.35h-1.35zM272.6 94.9h1.35v1.35h-1.35zM267.2 92.1h1.35v1.35h-1.35zM266.6 78.4h1.35v1.35h-1.35zM266.1 77.7h1.35v1.35h-1.35zM268.7 85.1h1.35v1.35h-1.35zM268.9 91.6h1.35v1.35h-1.35zM256.7 87.5h1.35v1.35h-1.35zM261.1 86.3h1.35v1.35h-1.35zM264.1 85.8h1.35v1.35h-1.35zM271.5 71.3h1.35v1.35h-1.35zM267.6 84.4h1.35v1.35h-1.35zM260.8 90.2h1.35v1.35h-1.35zM267.1 80.9h1.35v1.35h-1.35zM264.6 110.7h1.35v1.35h-1.35zM265.7 70.6h1.35v1.35h-1.35zM263.9 82.1h1.35v1.35h-1.35zM265.7 84.4h1.35v1.35h-1.35zM263.5 89.3h1.35v1.35h-1.35zM265.4 74.1h1.35v1.35h-1.35zM264.3 81.9h1.35v1.35h-1.35zM269.8 88.9h1.35v1.35h-1.35zM265.9 85.2h1.35v1.35h-1.35zM267.7 101.3h1.35v1.35h-1.35zM265.0 88.7h1.35v1.35h-1.35zM269.4 77.4h1.35v1.35h-1.35zM267.6 86.3h1.35v1.35h-1.35zM265.4 89.5h1.35v1.35h-1.35zM270.4 94.0h1.35v1.35h-1.35zM266.4 86.5h1.35v1.35h-1.35zM274.8 76.2h1.35v1.35h-1.35zM267.7 92.1h1.35v1.35h-1.35zM267.5 90.2h1.35v1.35h-1.35zM267.6 91.0h1.35v1.35h-1.35zM271.2 83.2h1.35v1.35h-1.35zM267.7 84.6h1.35v1.35h-1.35zM265.7 84.8h1.35v1.35h-1.35zM262.4 104.7h1.35v1.35h-1.35zM272.6 109.5h1.35v1.35h-1.35zM271.1 96.2h1.35v1.35h-1.35zM272.0 97.4h1.35v1.35h-1.35zM266.3 110.2h1.35v1.35h-1.35zM262.6 105.2h1.35v1.35h-1.35zM267.5 100.2h1.35v1.35h-1.35zM263.3 103.1h1.35v1.35h-1.35zM264.8 106.2h1.35v1.35h-1.35zM270.9 94.1h1.35v1.35h-1.35zM264.7 99.4h1.35v1.35h-1.35zM262.2 95.4h1.35v1.35h-1.35zM266.8 100.0h1.35v1.35h-1.35zM260.6 98.3h1.35v1.35h-1.35zM268.4 95.0h1.35v1.35h-1.35zM263.2 108.9h1.35v1.35h-1.35zM271.2 92.9h1.35v1.35h-1.35zM261.6 102.9h1.35v1.35h-1.35zM262.2 99.7h1.35v1.35h-1.35zM264.9 103.8h1.35v1.35h-1.35zM257.4 90.0h1.35v1.35h-1.35zM262.1 106.1h1.35v1.35h-1.35zM265.9 92.5h1.35v1.35h-1.35zM268.3 104.5h1.35v1.35h-1.35zM265.6 99.3h1.35v1.35h-1.35zM268.1 107.0h1.35v1.35h-1.35zM267.0 103.7h1.35v1.35h-1.35zM266.3 99.1h1.35v1.35h-1.35zM263.2 102.3h1.35v1.35h-1.35zM265.4 99.8h1.35v1.35h-1.35zM269.8 103.4h1.35v1.35h-1.35zM269.6 93.1h1.35v1.35h-1.35zM268.5 98.1h1.35v1.35h-1.35zM263.6 96.7h1.35v1.35h-1.35zM270.9 105.1h1.35v1.35h-1.35zM263.9 95.3h1.35v1.35h-1.35zM266.5 98.7h1.35v1.35h-1.35zM272.5 93.7h1.35v1.35h-1.35zM259.9 99.7h1.35v1.35h-1.35zM266.5 101.7h1.35v1.35h-1.35zM269.2 111.4h1.35v1.35h-1.35zM265.3 98.3h1.35v1.35h-1.35zM260.2 102.2h1.35v1.35h-1.35zM269.6 99.7h1.35v1.35h-1.35zM270.8 101.2h1.35v1.35h-1.35zM272.0 102.7h1.35v1.35h-1.35zM262.7 97.8h1.35v1.35h-1.35zM261.0 92.3h1.35v1.35h-1.35zM267.5 105.3h1.35v1.35h-1.35zM273.5 100.7h1.35v1.35h-1.35zM265.6 95.5h1.35v1.35h-1.35zM270.1 102.9h1.35v1.35h-1.35zM264.4 104.4h1.35v1.35h-1.35zM268.5 91.7h1.35v1.35h-1.35zM269.2 101.7h1.35v1.35h-1.35zM265.1 98.9h1.35v1.35h-1.35zM272.8 108.7h1.35v1.35h-1.35zM273.1 95.3h1.35v1.35h-1.35zM264.1 105.5h1.35v1.35h-1.35zM262.1 97.4h1.35v1.35h-1.35zM260.0 110.3h1.35v1.35h-1.35zM270.3 103.3h1.35v1.35h-1.35zM267.3 98.9h1.35v1.35h-1.35zM265.1 104.1h1.35v1.35h-1.35zM263.9 107.1h1.35v1.35h-1.35zM264.7 96.6h1.35v1.35h-1.35zM271.2 100.3h1.35v1.35h-1.35zM268.5 98.9h1.35v1.35h-1.35zM258.4 103.7h1.35v1.35h-1.35zM261.7 106.4h1.35v1.35h-1.35zM260.9 91.7h1.35v1.35h-1.35zM267.6 103.1h1.35v1.35h-1.35zM266.9 94.9h1.35v1.35h-1.35zM269.7 93.7h1.35v1.35h-1.35zM264.8 97.1h1.35v1.35h-1.35zM265.1 105.3h1.35v1.35h-1.35zM264.2 103.8h1.35v1.35h-1.35zM269.0 92.4h1.35v1.35h-1.35zM262.3 99.1h1.35v1.35h-1.35zM264.4 102.5h1.35v1.35h-1.35zM259.5 104.6h1.35v1.35h-1.35zM269.2 100.2h1.35v1.35h-1.35zM261.5 101.0h1.35v1.35h-1.35zM264.6 103.8h1.35v1.35h-1.35zM266.2 104.6h1.35v1.35h-1.35zM264.9 108.2h1.35v1.35h-1.35zM258.2 95.9h1.35v1.35h-1.35zM268.3 93.4h1.35v1.35h-1.35zM269.1 94.9h1.35v1.35h-1.35zM266.8 96.4h1.35v1.35h-1.35zM264.9 101.9h1.35v1.35h-1.35zM266.1 99.1h1.35v1.35h-1.35zM274.3 101.0h1.35v1.35h-1.35zM263.0 105.6h1.35v1.35h-1.35zM269.5 107.1h1.35v1.35h-1.35zM272.9 96.3h1.35v1.35h-1.35zM270.3 106.7h1.35v1.35h-1.35zM266.5 102.2h1.35v1.35h-1.35zM255.7 98.1h1.35v1.35h-1.35zM272.9 92.1h1.35v1.35h-1.35zM264.6 102.4h1.35v1.35h-1.35zM268.6 109.2h1.35v1.35h-1.35zM260.2 101.2h1.35v1.35h-1.35zM269.6 94.4h1.35v1.35h-1.35zM266.4 110.4h1.35v1.35h-1.35zM271.2 103.7h1.35v1.35h-1.35zM257.1 100.3h1.35v1.35h-1.35zM267.9 99.5h1.35v1.35h-1.35zM266.3 116.4h1.35v1.35h-1.35zM265.7 96.2h1.35v1.35h-1.35zM268.5 86.5h1.35v1.35h-1.35zM265.1 89.0h1.35v1.35h-1.35zM271.6 92.6h1.35v1.35h-1.35zM259.8 88.5h1.35v1.35h-1.35zM269.8 84.9h1.35v1.35h-1.35zM273.9 98.5h1.35v1.35h-1.35zM261.1 93.5h1.35v1.35h-1.35zM278.9 107.2h1.35v1.35h-1.35zM266.7 99.9h1.35v1.35h-1.35zM263.0 74.1h1.35v1.35h-1.35zM270.3 92.7h1.35v1.35h-1.35zM270.1 89.7h1.35v1.35h-1.35zM269.0 84.4h1.35v1.35h-1.35zM269.8 99.2h1.35v1.35h-1.35zM266.6 99.0h1.35v1.35h-1.35zM256.4 81.4h1.35v1.35h-1.35zM275.7 109.4h1.35v1.35h-1.35zM268.5 88.9h1.35v1.35h-1.35zM259.4 94.0h1.35v1.35h-1.35zM271.7 73.7h1.35v1.35h-1.35zM270.4 95.4h1.35v1.35h-1.35zM269.6 77.6h1.35v1.35h-1.35zM270.3 73.5h1.35v1.35h-1.35zM275.9 91.5h1.35v1.35h-1.35zM260.0 104.8h1.35v1.35h-1.35zM273.9 82.8h1.35v1.35h-1.35zM268.9 103.0h1.35v1.35h-1.35zM253.4 101.0h1.35v1.35h-1.35zM266.6 89.8h1.35v1.35h-1.35zM260.5 93.6h1.35v1.35h-1.35zM260.3 79.3h1.35v1.35h-1.35zM264.3 76.5h1.35v1.35h-1.35zM276.4 75.4h1.35v1.35h-1.35zM262.5 86.5h1.35v1.35h-1.35zM267.0 98.7h1.35v1.35h-1.35zM271.9 86.7h1.35v1.35h-1.35zM264.7 90.4h1.35v1.35h-1.35zM271.9 97.7h1.35v1.35h-1.35zM263.9 67.3h1.35v1.35h-1.35zM279.9 100.5h1.35v1.35h-1.35zM268.6 93.7h1.35v1.35h-1.35zM263.9 79.0h1.35v1.35h-1.35zM265.0 87.6h1.35v1.35h-1.35zM263.2 74.0h1.35v1.35h-1.35zM265.1 96.3h1.35v1.35h-1.35zM264.0 90.2h1.35v1.35h-1.35zM254.6 87.7h1.35v1.35h-1.35zM266.3 76.5h1.35v1.35h-1.35zM256.6 94.5h1.35v1.35h-1.35zM262.1 95.4h1.35v1.35h-1.35zM264.5 96.9h1.35v1.35h-1.35zM265.0 73.4h1.35v1.35h-1.35zM266.5 86.4h1.35v1.35h-1.35zM270.9 85.0h1.35v1.35h-1.35zM264.6 99.5h1.35v1.35h-1.35zM274.0 98.4h1.35v1.35h-1.35zM273.2 95.0h1.35v1.35h-1.35zM271.6 99.7h1.35v1.35h-1.35zM269.4 90.7h1.35v1.35h-1.35zM267.9 116.5h1.35v1.35h-1.35zM267.1 87.4h1.35v1.35h-1.35zM264.8 89.6h1.35v1.35h-1.35zM268.5 77.6h1.35v1.35h-1.35zM255.1 93.2h1.35v1.35h-1.35zM257.4 92.8h1.35v1.35h-1.35zM267.8 102.7h1.35v1.35h-1.35zM277.0 94.0h1.35v1.35h-1.35zM263.7 77.1h1.35v1.35h-1.35zM262.2 90.4h1.35v1.35h-1.35zM254.6 90.8h1.35v1.35h-1.35zM266.9 97.1h1.35v1.35h-1.35zM265.0 91.1h1.35v1.35h-1.35zM262.6 84.9h1.35v1.35h-1.35zM256.4 91.4h1.35v1.35h-1.35zM276.3 91.8h1.35v1.35h-1.35zM269.2 79.2h1.35v1.35h-1.35zM275.6 81.6h1.35v1.35h-1.35zM271.8 91.2h1.35v1.35h-1.35zM261.2 101.3h1.35v1.35h-1.35zM267.1 92.0h1.35v1.35h-1.35zM269.7 89.8h1.35v1.35h-1.35zM264.7 95.1h1.35v1.35h-1.35zM264.6 90.7h1.35v1.35h-1.35zM263.0 73.6h1.35v1.35h-1.35zM263.0 84.6h1.35v1.35h-1.35zM267.1 103.0h1.35v1.35h-1.35zM256.9 91.4h1.35v1.35h-1.35zM253.7 78.5h1.35v1.35h-1.35zM264.0 65.2h1.35v1.35h-1.35zM255.9 91.7h1.35v1.35h-1.35zM267.5 88.7h1.35v1.35h-1.35zM262.2 113.7h1.35v1.35h-1.35zM266.0 80.5h1.35v1.35h-1.35zM277.1 96.8h1.35v1.35h-1.35zM264.8 103.1h1.35v1.35h-1.35zM267.9 97.1h1.35v1.35h-1.35zM268.4 78.7h1.35v1.35h-1.35zM272.8 91.8h1.35v1.35h-1.35zM260.9 81.6h1.35v1.35h-1.35zM272.7 85.9h1.35v1.35h-1.35zM267.3 97.2h1.35v1.35h-1.35zM267.8 73.2h1.35v1.35h-1.35zM270.8 100.3h1.35v1.35h-1.35zM272.2 107.8h1.35v1.35h-1.35zM269.2 98.5h1.35v1.35h-1.35zM276.5 86.8h1.35v1.35h-1.35zM277.4 109.1h1.35v1.35h-1.35zM271.7 110.2h1.35v1.35h-1.35zM272.1 80.3h1.35v1.35h-1.35zM273.8 93.6h1.35v1.35h-1.35zM269.5 91.7h1.35v1.35h-1.35zM275.2 96.1h1.35v1.35h-1.35zM262.8 95.3h1.35v1.35h-1.35zM271.4 82.0h1.35v1.35h-1.35zM264.4 85.8h1.35v1.35h-1.35zM263.4 93.8h1.35v1.35h-1.35zM273.1 110.8h1.35v1.35h-1.35zM274.2 101.2h1.35v1.35h-1.35zM273.9 104.7h1.35v1.35h-1.35zM264.7 97.6h1.35v1.35h-1.35zM268.9 88.6h1.35v1.35h-1.35zM264.3 84.4h1.35v1.35h-1.35zM265.4 76.4h1.35v1.35h-1.35zM270.1 89.8h1.35v1.35h-1.35zM267.6 93.7h1.35v1.35h-1.35zM271.3 83.5h1.35v1.35h-1.35zM266.4 72.3h1.35v1.35h-1.35zM253.7 68.7h1.35v1.35h-1.35zM276.2 69.9h1.35v1.35h-1.35zM269.8 106.2h1.35v1.35h-1.35zM264.3 107.9h1.35v1.35h-1.35zM278.1 100.4h1.35v1.35h-1.35zM281.2 96.9h1.35v1.35h-1.35zM262.6 95.8h1.35v1.35h-1.35zM264.4 75.7h1.35v1.35h-1.35zM259.4 115.5h1.35v1.35h-1.35zM263.8 89.8h1.35v1.35h-1.35zM263.1 91.6h1.35v1.35h-1.35zM265.6 85.6h1.35v1.35h-1.35zM259.8 74.6h1.35v1.35h-1.35zM262.6 93.3h1.35v1.35h-1.35zM279.5 101.7h1.35v1.35h-1.35zM278.0 95.5h1.35v1.35h-1.35zM266.6 75.6h1.35v1.35h-1.35zM267.1 66.6h1.35v1.35h-1.35zM265.3 108.1h1.35v1.35h-1.35zM269.1 102.6h1.35v1.35h-1.35zM264.8 75.1h1.35v1.35h-1.35zM264.2 85.9h1.35v1.35h-1.35zM274.4 112.0h1.35v1.35h-1.35zM262.7 86.3h1.35v1.35h-1.35zM266.3 86.4h1.35v1.35h-1.35zM259.7 91.3h1.35v1.35h-1.35zM269.3 94.5h1.35v1.35h-1.35zM259.9 89.0h1.35v1.35h-1.35zM256.7 100.3h1.35v1.35h-1.35zM261.0 87.3h1.35v1.35h-1.35zM264.5 83.9h1.35v1.35h-1.35zM260.8 70.9h1.35v1.35h-1.35zM277.6 93.1h1.35v1.35h-1.35zM268.8 113.4h1.35v1.35h-1.35zM266.6 96.4h1.35v1.35h-1.35zM267.3 103.4h1.35v1.35h-1.35zM270.2 93.8h1.35v1.35h-1.35zM265.7 93.4h1.35v1.35h-1.35zM274.2 67.5h1.35v1.35h-1.35zM266.4 85.8h1.35v1.35h-1.35zM265.4 68.6h1.35v1.35h-1.35zM271.6 81.1h1.35v1.35h-1.35zM265.8 84.8h1.35v1.35h-1.35zM257.2 85.5h1.35v1.35h-1.35zM256.1 80.0h1.35v1.35h-1.35zM265.3 90.3h1.35v1.35h-1.35zM267.5 88.8h1.35v1.35h-1.35zM280.0 95.2h1.35v1.35h-1.35zM259.9 83.6h1.35v1.35h-1.35zM263.3 88.4h1.35v1.35h-1.35zM263.6 81.0h1.35v1.35h-1.35zM277.1 90.8h1.35v1.35h-1.35zM265.2 87.6h1.35v1.35h-1.35zM265.9 105.7h1.35v1.35h-1.35zM270.1 102.7h1.35v1.35h-1.35zM248.5 94.0h1.35v1.35h-1.35zM273.6 112.1h1.35v1.35h-1.35zM267.4 71.5h1.35v1.35h-1.35zM270.7 83.8h1.35v1.35h-1.35zM256.5 83.6h1.35v1.35h-1.35zM273.5 103.6h1.35v1.35h-1.35zM271.5 78.9h1.35v1.35h-1.35zM266.8 74.5h1.35v1.35h-1.35zM275.1 95.3h1.35v1.35h-1.35zM272.6 91.4h1.35v1.35h-1.35zM266.8 92.3h1.35v1.35h-1.35zM255.9 101.4h1.35v1.35h-1.35zM272.7 86.1h1.35v1.35h-1.35zM267.2 93.7h1.35v1.35h-1.35zM276.7 95.2h1.35v1.35h-1.35zM267.5 84.9h1.35v1.35h-1.35zM258.2 83.9h1.35v1.35h-1.35zM267.7 87.7h1.35v1.35h-1.35zM267.7 98.7h1.35v1.35h-1.35zM269.9 93.5h1.35v1.35h-1.35zM271.2 92.5h1.35v1.35h-1.35zM267.1 95.7h1.35v1.35h-1.35zM256.9 104.3h1.35v1.35h-1.35zM259.5 99.7h1.35v1.35h-1.35zM267.4 102.7h1.35v1.35h-1.35zM267.5 80.1h1.35v1.35h-1.35zM273.7 92.6h1.35v1.35h-1.35zM268.0 91.4h1.35v1.35h-1.35zM273.3 99.5h1.35v1.35h-1.35zM268.7 73.5h1.35v1.35h-1.35zM264.9 91.7h1.35v1.35h-1.35zM278.1 94.8h1.35v1.35h-1.35zM266.8 103.7h1.35v1.35h-1.35zM266.6 90.3h1.35v1.35h-1.35zM268.3 74.1h1.35v1.35h-1.35zM273.1 95.3h1.35v1.35h-1.35zM265.6 78.0h1.35v1.35h-1.35zM268.6 106.0h1.35v1.35h-1.35zM263.5 78.9h1.35v1.35h-1.35zM269.9 73.0h1.35v1.35h-1.35zM254.0 85.7h1.35v1.35h-1.35zM263.2 87.6h1.35v1.35h-1.35zM264.0 94.3h1.35v1.35h-1.35zM266.0 84.0h1.35v1.35h-1.35zM264.6 97.6h1.35v1.35h-1.35zM273.1 100.6h1.35v1.35h-1.35zM271.5 54.4h1.35v1.35h-1.35zM261.3 87.2h1.35v1.35h-1.35zM268.6 72.9h1.35v1.35h-1.35zM275.9 94.0h1.35v1.35h-1.35zM263.6 92.5h1.35v1.35h-1.35zM265.3 82.3h1.35v1.35h-1.35zM270.4 85.7h1.35v1.35h-1.35zM258.9 83.7h1.35v1.35h-1.35zM266.7 78.8h1.35v1.35h-1.35zM274.9 78.7h1.35v1.35h-1.35zM277.9 100.5h1.35v1.35h-1.35zM261.7 92.1h1.35v1.35h-1.35zM274.5 88.6h1.35v1.35h-1.35zM260.2 91.9h1.35v1.35h-1.35zM279.3 74.3h1.35v1.35h-1.35zM270.7 90.8h1.35v1.35h-1.35zM266.7 86.4h1.35v1.35h-1.35zM265.5 102.1h1.35v1.35h-1.35zM271.0 79.8h1.35v1.35h-1.35zM276.8 76.5h1.35v1.35h-1.35zM271.4 92.8h1.35v1.35h-1.35zM274.6 94.7h1.35v1.35h-1.35zM273.8 90.5h1.35v1.35h-1.35zM273.3 94.6h1.35v1.35h-1.35zM274.6 95.9h1.35v1.35h-1.35zM268.5 84.6h1.35v1.35h-1.35zM270.1 74.6h1.35v1.35h-1.35zM259.2 98.6h1.35v1.35h-1.35zM258.1 106.6h1.35v1.35h-1.35zM275.2 57.1h1.35v1.35h-1.35zM276.6 57.7h1.35v1.35h-1.35zM275.2 55.0h1.35v1.35h-1.35zM275.8 59.8h1.35v1.35h-1.35zM280.6 60.6h1.35v1.35h-1.35zM277.7 55.6h1.35v1.35h-1.35zM269.9 58.4h1.35v1.35h-1.35zM279.5 54.9h1.35v1.35h-1.35zM279.4 60.6h1.35v1.35h-1.35zM276.6 59.9h1.35v1.35h-1.35zM277.5 50.4h1.35v1.35h-1.35zM274.5 54.9h1.35v1.35h-1.35zM278.3 53.3h1.35v1.35h-1.35zM274.6 53.0h1.35v1.35h-1.35zM276.1 56.5h1.35v1.35h-1.35zM280.0 59.0h1.35v1.35h-1.35zM276.9 57.1h1.35v1.35h-1.35zM276.7 56.6h1.35v1.35h-1.35zM282.2 47.8h1.35v1.35h-1.35zM275.6 57.3h1.35v1.35h-1.35zM280.6 52.5h1.35v1.35h-1.35zM277.6 59.2h1.35v1.35h-1.35zM274.6 49.8h1.35v1.35h-1.35zM274.9 52.2h1.35v1.35h-1.35zM278.8 53.4h1.35v1.35h-1.35zM283.1 56.7h1.35v1.35h-1.35zM273.2 54.5h1.35v1.35h-1.35zM272.1 57.6h1.35v1.35h-1.35zM282.0 55.5h1.35v1.35h-1.35zM279.8 53.1h1.35v1.35h-1.35zM277.5 64.1h1.35v1.35h-1.35zM271.0 60.5h1.35v1.35h-1.35zM280.8 49.9h1.35v1.35h-1.35zM270.8 52.9h1.35v1.35h-1.35zM280.0 54.8h1.35v1.35h-1.35zM275.7 58.7h1.35v1.35h-1.35zM276.7 57.0h1.35v1.35h-1.35zM275.1 60.1h1.35v1.35h-1.35zM273.3 62.0h1.35v1.35h-1.35zM275.0 53.5h1.35v1.35h-1.35zM278.7 57.8h1.35v1.35h-1.35zM268.8 57.0h1.35v1.35h-1.35zM271.2 53.4h1.35v1.35h-1.35zM279.3 53.3h1.35v1.35h-1.35zM277.6 55.0h1.35v1.35h-1.35zM283.6 55.9h1.35v1.35h-1.35zM271.8 52.5h1.35v1.35h-1.35zM272.8 56.7h1.35v1.35h-1.35zM276.3 59.5h1.35v1.35h-1.35zM276.9 56.7h1.35v1.35h-1.35zM277.5 55.8h1.35v1.35h-1.35zM277.4 58.9h1.35v1.35h-1.35zM279.2 54.4h1.35v1.35h-1.35zM269.5 53.5h1.35v1.35h-1.35zM277.3 47.8h1.35v1.35h-1.35zM274.4 57.7h1.35v1.35h-1.35zM274.1 52.4h1.35v1.35h-1.35zM282.9 60.9h1.35v1.35h-1.35zM275.3 60.7h1.35v1.35h-1.35zM281.2 52.4h1.35v1.35h-1.35zM286.4 53.0h1.35v1.35h-1.35zM275.2 52.5h1.35v1.35h-1.35zM276.5 51.7h1.35v1.35h-1.35zM276.2 59.9h1.35v1.35h-1.35zM277.0 55.3h1.35v1.35h-1.35zM282.1 53.1h1.35v1.35h-1.35zM279.9 55.2h1.35v1.35h-1.35zM277.0 56.3h1.35v1.35h-1.35zM276.7 56.0h1.35v1.35h-1.35zM273.2 54.2h1.35v1.35h-1.35zM277.9 55.8h1.35v1.35h-1.35zM271.8 53.8h1.35v1.35h-1.35zM273.5 56.0h1.35v1.35h-1.35zM276.9 56.5h1.35v1.35h-1.35zM273.7 56.2h1.35v1.35h-1.35zM271.0 46.3h1.35v1.35h-1.35zM275.9 50.5h1.35v1.35h-1.35zM272.6 52.0h1.35v1.35h-1.35zM278.5 52.0h1.35v1.35h-1.35zM277.2 54.5h1.35v1.35h-1.35zM271.4 50.8h1.35v1.35h-1.35zM277.9 57.4h1.35v1.35h-1.35zM279.0 62.3h1.35v1.35h-1.35zM277.1 57.0h1.35v1.35h-1.35zM275.6 56.4h1.35v1.35h-1.35zM274.8 53.0h1.35v1.35h-1.35zM283.7 49.7h1.35v1.35h-1.35zM277.0 57.6h1.35v1.35h-1.35zM276.6 52.8h1.35v1.35h-1.35zM275.3 54.5h1.35v1.35h-1.35zM272.0 55.9h1.35v1.35h-1.35zM274.5 54.2h1.35v1.35h-1.35zM278.6 52.4h1.35v1.35h-1.35zM277.7 53.9h1.35v1.35h-1.35zM277.6 56.2h1.35v1.35h-1.35zM276.9 52.7h1.35v1.35h-1.35zM273.1 53.1h1.35v1.35h-1.35zM276.7 58.5h1.35v1.35h-1.35zM280.1 54.3h1.35v1.35h-1.35zM276.3 50.5h1.35v1.35h-1.35zM267.6 53.0h1.35v1.35h-1.35zM273.4 50.7h1.35v1.35h-1.35zM269.2 57.8h1.35v1.35h-1.35zM272.9 50.3h1.35v1.35h-1.35zM284.8 56.5h1.35v1.35h-1.35zM274.7 58.2h1.35v1.35h-1.35zM273.1 61.3h1.35v1.35h-1.35zM270.1 51.5h1.35v1.35h-1.35zM275.4 53.3h1.35v1.35h-1.35zM281.3 50.5h1.35v1.35h-1.35zM273.1 56.7h1.35v1.35h-1.35zM278.0 59.3h1.35v1.35h-1.35zM277.2 63.4h1.35v1.35h-1.35zM274.1 56.5h1.35v1.35h-1.35zM279.1 54.8h1.35v1.35h-1.35zM274.8 54.3h1.35v1.35h-1.35zM273.4 52.1h1.35v1.35h-1.35zM273.8 50.6h1.35v1.35h-1.35zM277.3 50.5h1.35v1.35h-1.35zM283.7 61.6h1.35v1.35h-1.35zM280.0 55.1h1.35v1.35h-1.35zM273.6 60.0h1.35v1.35h-1.35zM276.5 57.7h1.35v1.35h-1.35zM273.1 59.5h1.35v1.35h-1.35zM272.8 56.2h1.35v1.35h-1.35zM269.3 53.6h1.35v1.35h-1.35zM277.7 54.3h1.35v1.35h-1.35zM274.1 58.5h1.35v1.35h-1.35zM275.5 60.0h1.35v1.35h-1.35zM266.7 57.8h1.35v1.35h-1.35zM277.7 50.6h1.35v1.35h-1.35zM270.9 58.8h1.35v1.35h-1.35zM271.8 53.7h1.35v1.35h-1.35zM278.1 54.7h1.35v1.35h-1.35zM277.6 52.9h1.35v1.35h-1.35zM276.9 59.5h1.35v1.35h-1.35zM277.0 48.4h1.35v1.35h-1.35zM278.3 56.0h1.35v1.35h-1.35zM272.4 60.5h1.35v1.35h-1.35zM269.2 62.2h1.35v1.35h-1.35zM273.4 61.1h1.35v1.35h-1.35zM275.6 51.3h1.35v1.35h-1.35zM276.2 56.9h1.35v1.35h-1.35zM277.8 59.4h1.35v1.35h-1.35zM272.4 57.5h1.35v1.35h-1.35zM278.6 54.9h1.35v1.35h-1.35zM272.3 52.6h1.35v1.35h-1.35zM278.6 58.5h1.35v1.35h-1.35zM272.7 51.3h1.35v1.35h-1.35zM280.5 50.6h1.35v1.35h-1.35zM276.4 53.1h1.35v1.35h-1.35zM269.1 56.2h1.35v1.35h-1.35zM275.1 60.7h1.35v1.35h-1.35zM284.4 55.2h1.35v1.35h-1.35zM279.7 59.3h1.35v1.35h-1.35zM273.8 52.9h1.35v1.35h-1.35zM281.9 54.6h1.35v1.35h-1.35zM275.7 54.8h1.35v1.35h-1.35zM275.3 53.8h1.35v1.35h-1.35zM278.6 60.1h1.35v1.35h-1.35zM274.4 51.1h1.35v1.35h-1.35zM276.0 50.8h1.35v1.35h-1.35zM273.4 60.0h1.35v1.35h-1.35zM284.6 57.1h1.35v1.35h-1.35zM271.8 58.4h1.35v1.35h-1.35zM267.3 53.5h1.35v1.35h-1.35zM281.5 58.3h1.35v1.35h-1.35zM270.6 50.2h1.35v1.35h-1.35zM279.0 55.6h1.35v1.35h-1.35zM273.5 57.2h1.35v1.35h-1.35zM272.2 47.1h1.35v1.35h-1.35zM280.5 52.2h1.35v1.35h-1.35zM269.7 49.5h1.35v1.35h-1.35zM277.2 51.6h1.35v1.35h-1.35zM279.4 53.7h1.35v1.35h-1.35zM282.1 53.2h1.35v1.35h-1.35zM271.8 46.9h1.35v1.35h-1.35zM269.1 57.6h1.35v1.35h-1.35zM269.5 56.1h1.35v1.35h-1.35zM278.5 52.1h1.35v1.35h-1.35zM276.1 48.4h1.35v1.35h-1.35zM273.9 58.4h1.35v1.35h-1.35zM285.4 54.1h1.35v1.35h-1.35zM274.1 56.6h1.35v1.35h-1.35zM282.3 56.7h1.35v1.35h-1.35zM271.2 56.2h1.35v1.35h-1.35zM281.4 51.9h1.35v1.35h-1.35zM267.7 56.8h1.35v1.35h-1.35zM277.9 58.6h1.35v1.35h-1.35zM276.2 52.2h1.35v1.35h-1.35zM273.1 50.7h1.35v1.35h-1.35zM270.0 52.6h1.35v1.35h-1.35zM272.8 59.2h1.35v1.35h-1.35zM268.4 54.6h1.35v1.35h-1.35zM272.2 60.7h1.35v1.35h-1.35zM277.3 53.3h1.35v1.35h-1.35zM280.6 55.1h1.35v1.35h-1.35zM272.9 60.9h1.35v1.35h-1.35zM279.9 61.7h1.35v1.35h-1.35zM282.6 57.9h1.35v1.35h-1.35zM276.5 50.5h1.35v1.35h-1.35zM279.9 55.1h1.35v1.35h-1.35zM279.8 54.8h1.35v1.35h-1.35zM271.6 50.8h1.35v1.35h-1.35zM279.9 60.0h1.35v1.35h-1.35zM274.0 56.6h1.35v1.35h-1.35zM284.0 51.5h1.35v1.35h-1.35zM273.7 50.4h1.35v1.35h-1.35zM282.8 55.9h1.35v1.35h-1.35zM271.1 61.3h1.35v1.35h-1.35zM271.6 67.9h1.35v1.35h-1.35zM271.4 64.3h1.35v1.35h-1.35zM273.1 62.3h1.35v1.35h-1.35zM272.0 66.9h1.35v1.35h-1.35zM270.5 63.3h1.35v1.35h-1.35zM272.4 65.2h1.35v1.35h-1.35zM271.5 65.9h1.35v1.35h-1.35zM272.3 63.1h1.35v1.35h-1.35zM270.7 66.5h1.35v1.35h-1.35zM273.9 68.8h1.35v1.35h-1.35zM270.4 68.1h1.35v1.35h-1.35zM273.3 65.3h1.35v1.35h-1.35zM272.8 67.5h1.35v1.35h-1.35zM275.1 62.8h1.35v1.35h-1.35zM273.0 65.1h1.35v1.35h-1.35zM271.6 68.3h1.35v1.35h-1.35zM273.4 62.9h1.35v1.35h-1.35zM271.4 66.0h1.35v1.35h-1.35zM269.4 67.6h1.35v1.35h-1.35zM271.8 65.8h1.35v1.35h-1.35zM272.5 69.9h1.35v1.35h-1.35zM272.0 64.5h1.35v1.35h-1.35zM275.0 64.2h1.35v1.35h-1.35zM271.0 62.0h1.35v1.35h-1.35zM273.9 66.1h1.35v1.35h-1.35zM272.8 65.8h1.35v1.35h-1.35zM271.7 63.5h1.35v1.35h-1.35zM270.6 66.5h1.35v1.35h-1.35zM272.2 69.5h1.35v1.35h-1.35zM270.6 64.2h1.35v1.35h-1.35zM270.1 68.8h1.35v1.35h-1.35zM269.8 67.3h1.35v1.35h-1.35zM274.5 65.1h1.35v1.35h-1.35zM273.2 60.2h1.35v1.35h-1.35zM271.3 61.3h1.35v1.35h-1.35zM272.3 65.5h1.35v1.35h-1.35zM270.6 67.8h1.35v1.35h-1.35zM272.6 64.1h1.35v1.35h-1.35zM271.0 61.8h1.35v1.35h-1.35zM271.6 70.7h1.35v1.35h-1.35zM270.7 66.5h1.35v1.35h-1.35zM271.0 67.4h1.35v1.35h-1.35zM272.7 64.9h1.35v1.35h-1.35zM268.8 64.2h1.35v1.35h-1.35zM274.1 64.8h1.35v1.35h-1.35zM273.1 64.2h1.35v1.35h-1.35zM268.6 66.5h1.35v1.35h-1.35zM272.5 64.0h1.35v1.35h-1.35zM271.3 66.2h1.35v1.35h-1.35zM323.3 89.1h1.35v1.35h-1.35zM309.4 67.1h1.35v1.35h-1.35zM271.9 103.6h1.35v1.35h-1.35zM320.5 77.3h1.35v1.35h-1.35zM314.2 93.7h1.35v1.35h-1.35zM246.4 103.7h1.35v1.35h-1.35zM298.8 99.5h1.35v1.35h-1.35zM327.3 106.5h1.35v1.35h-1.35zM262.0 93.8h1.35v1.35h-1.35z"/>
<path fill="#000" d="M466.3 46.5h1.35v1.35h-1.35zM457.9 46.0h1.35v1.35h-1.35zM461.3 49.6h1.35v1.35h-1.35zM474.5 50.2h1.35v1.35h-1.35zM471.1 45.5h1.35v1.35h-1.35zM471.8 46.1h1.35v1.35h-1.35zM470.2 44.6h1.35v1.35h-1.35zM464.7 47.6h1.35v1.35h-1.35zM475.5 46.5h1.35v1.35h-1.35zM477.7 52.6h1.35v1.35h-1.35zM461.6 46.5h1.35v1.35h-1.35zM463.1 46.3h1.35v1.35h-1.35zM465.0 46.4h1.35v1.35h-1.35zM471.8 48.6h1.35v1.35h-1.35zM468.6 46.6h1.35v1.35h-1.35zM468.0 46.8h1.35v1.35h-1.35zM470.0 46.6h1.35v1.35h-1.35zM469.7 43.7h1.35v1.35h-1.35zM471.0 50.4h1.35v1.35h-1.35zM468.3 43.5h1.35v1.35h-1.35zM473.6 45.9h1.35v1.35h-1.35zM453.8 46.1h1.35v1.35h-1.35zM470.2 47.4h1.35v1.35h-1.35zM473.1 47.9h1.35v1.35h-1.35zM468.0 42.3h1.35v1.35h-1.35zM462.4 47.0h1.35v1.35h-1.35zM470.5 44.3h1.35v1.35h-1.35zM464.7 47.6h1.35v1.35h-1.35zM458.7 42.3h1.35v1.35h-1.35zM466.4 47.1h1.35v1.35h-1.35zM465.3 41.6h1.35v1.35h-1.35zM467.5 43.7h1.35v1.35h-1.35zM470.4 46.4h1.35v1.35h-1.35zM468.6 48.0h1.35v1.35h-1.35zM465.0 48.4h1.35v1.35h-1.35zM473.1 47.4h1.35v1.35h-1.35zM473.5 45.2h1.35v1.35h-1.35zM471.6 47.2h1.35v1.35h-1.35zM463.0 46.4h1.35v1.35h-1.35zM465.0 45.4h1.35v1.35h-1.35zM467.8 48.9h1.35v1.35h-1.35zM466.0 46.8h1.35v1.35h-1.35zM460.8 46.8h1.35v1.35h-1.35zM472.7 48.3h1.35v1.35h-1.35zM469.6 45.4h1.35v1.35h-1.35zM463.0 46.4h1.35v1.35h-1.35zM461.4 43.9h1.35v1.35h-1.35zM471.7 44.6h1.35v1.35h-1.35zM475.6 43.5h1.35v1.35h-1.35zM469.4 44.0h1.35v1.35h-1.35zM468.2 44.3h1.35v1.35h-1.35zM467.6 46.2h1.35v1.35h-1.35zM465.4 47.7h1.35v1.35h-1.35zM474.3 45.3h1.35v1.35h-1.35zM471.5 46.8h1.35v1.35h-1.35zM467.3 51.4h1.35v1.35h-1.35zM457.6 45.1h1.35v1.35h-1.35zM459.2 45.9h1.35v1.35h-1.35zM466.4 54.9h1.35v1.35h-1.35zM469.0 50.5h1.35v1.35h-1.35zM473.4 45.6h1.35v1.35h-1.35zM469.6 50.2h1.35v1.35h-1.35zM468.2 47.0h1.35v1.35h-1.35zM469.7 43.3h1.35v1.35h-1.35zM463.7 47.3h1.35v1.35h-1.35zM469.9 44.6h1.35v1.35h-1.35zM466.0 46.3h1.35v1.35h-1.35zM466.8 48.1h1.35v1.35h-1.35zM467.9 46.9h1.35v1.35h-1.35zM461.0 44.3h1.35v1.35h-1.35zM468.9 43.1h1.35v1.35h-1.35zM468.7 45.1h1.35v1.35h-1.35zM463.7 48.0h1.35v1.35h-1.35zM464.3 44.7h1.35v1.35h-1.35zM464.3 46.7h1.35v1.35h-1.35zM480.0 41.9h1.35v1.35h-1.35zM467.3 46.0h1.35v1.35h-1.35zM471.8 45.8h1.35v1.35h-1.35zM456.1 49.5h1.35v1.35h-1.35zM462.4 46.4h1.35v1.35h-1.35zM461.2 44.2h1.35v1.35h-1.35zM465.1 48.4h1.35v1.35h-1.35zM471.3 45.2h1.35v1.35h-1.35zM469.7 45.7h1.35v1.35h-1.35zM467.9 46.9h1.35v1.35h-1.35zM470.2 45.2h1.35v1.35h-1.35zM466.8 47.0h1.35v1.35h-1.35zM467.8 44.8h1.35v1.35h-1.35zM475.2 45.5h1.35v1.35h-1.35zM470.8 47.0h1.35v1.35h-1.35zM473.0 41.8h1.35v1.35h-1.35zM476.7 46.1h1.35v1.35h-1.35zM461.7 46.8h1.35v1.35h-1.35zM477.7 47.6h1.35v1.35h-1.35zM461.7 45.5h1.35v1.35h-1.35zM473.5 43.5h1.35v1.35h-1.35zM466.5 45.9h1.35v1.35h-1.35zM477.3 45.9h1.35v1.35h-1.35zM473.4 45.1h1.35v1.35h-1.35zM463.7 48.7h1.35v1.35h-1.35zM470.2 42.8h1.35v1.35h-1.35zM470.3 47.9h1.35v1.35h-1.35zM464.6 47.0h1.35v1.35h-1.35zM468.6 45.5h1.35v1.35h-1.35zM464.7 45.1h1.35v1.35h-1.35zM466.1 43.6h1.35v1.35h-1.35zM467.2 43.3h1.35v1.35h-1.35zM467.7 46.3h1.35v1.35h-1.35zM462.6 48.4h1.35v1.35h-1.35zM476.2 49.4h1.35v1.35h-1.35zM461.1 49.3h1.35v1.35h-1.35zM468.3 46.4h1.35v1.35h-1.35zM464.6 46.5h1.35v1.35h-1.35zM473.7 47.7h1.35v1.35h-1.35zM465.5 45.1h1.35v1.35h-1.35zM465.4 47.8h1.35v1.35h-1.35zM475.9 44.2h1.35v1.35h-1.35zM467.3 45.7h1.35v1.35h-1.35zM463.9 47.4h1.35v1.35h-1.35zM469.9 43.4h1.35v1.35h-1.35zM462.6 49.1h1.35v1.35h-1.35zM468.8 47.7h1.35v1.35h-1.35zM465.1 45.7h1.35v1.35h-1.35zM469.4 45.4h1.35v1.35h-1.35zM462.3 46.5h1.35v1.35h-1.35zM471.5 44.3h1.35v1.35h-1.35zM472.2 48.1h1.35v1.35h-1.35zM463.4 46.5h1.35v1.35h-1.35zM467.2 47.9h1.35v1.35h-1.35zM470.4 43.7h1.35v1.35h-1.35zM461.2 48.8h1.35v1.35h-1.35zM467.9 47.4h1.35v1.35h-1.35zM468.9 49.9h1.35v1.35h-1.35zM461.8 48.9h1.35v1.35h-1.35zM463.6 48.1h1.35v1.35h-1.35zM473.4 43.5h1.35v1.35h-1.35zM469.2 45.9h1.35v1.35h-1.35zM466.0 46.6h1.35v1.35h-1.35zM462.6 44.4h1.35v1.35h-1.35zM470.3 48.4h1.35v1.35h-1.35zM464.8 43.4h1.35v1.35h-1.35zM477.9 48.9h1.35v1.35h-1.35zM469.0 44.3h1.35v1.35h-1.35zM464.7 47.1h1.35v1.35h-1.35zM463.0 50.0h1.35v1.35h-1.35zM468.0 47.4h1.35v1.35h-1.35zM462.7 44.6h1.35v1.35h-1.35zM463.8 47.1h1.35v1.35h-1.35zM466.1 45.9h1.35v1.35h-1.35zM468.8 47.0h1.35v1.35h-1.35zM474.1 46.1h1.35v1.35h-1.35zM462.7 46.5h1.35v1.35h-1.35zM474.0 45.3h1.35v1.35h-1.35zM467.6 45.8h1.35v1.35h-1.35zM469.2 47.1h1.35v1.35h-1.35zM463.7 46.0h1.35v1.35h-1.35zM471.6 48.9h1.35v1.35h-1.35zM471.5 48.4h1.35v1.35h-1.35zM465.8 45.7h1.35v1.35h-1.35zM471.6 44.0h1.35v1.35h-1.35zM467.1 42.5h1.35v1.35h-1.35zM465.6 45.0h1.35v1.35h-1.35zM461.9 47.8h1.35v1.35h-1.35zM464.0 45.7h1.35v1.35h-1.35zM466.2 44.9h1.35v1.35h-1.35zM473.8 45.5h1.35v1.35h-1.35zM468.2 43.7h1.35v1.35h-1.35zM465.2 45.8h1.35v1.35h-1.35zM466.0 45.3h1.35v1.35h-1.35zM468.0 49.9h1.35v1.35h-1.35zM466.8 46.2h1.35v1.35h-1.35zM465.6 52.0h1.35v1.35h-1.35zM474.6 47.7h1.35v1.35h-1.35zM470.5 45.0h1.35v1.35h-1.35zM466.7 47.0h1.35v1.35h-1.35zM467.9 44.7h1.35v1.35h-1.35zM463.8 47.6h1.35v1.35h-1.35zM468.8 42.0h1.35v1.35h-1.35zM467.8 49.3h1.35v1.35h-1.35zM464.4 47.0h1.35v1.35h-1.35zM460.8 48.3h1.35v1.35h-1.35zM462.3 43.8h1.35v1.35h-1.35zM465.9 51.6h1.35v1.35h-1.35zM464.6 43.8h1.35v1.35h-1.35zM469.4 47.0h1.35v1.35h-1.35zM474.8 43.8h1.35v1.35h-1.35zM460.2 45.9h1.35v1.35h-1.35zM469.1 47.3h1.35v1.35h-1.35zM472.3 43.3h1.35v1.35h-1.35zM463.6 46.2h1.35v1.35h-1.35zM471.1 47.6h1.35v1.35h-1.35zM465.5 44.3h1.35v1.35h-1.35zM471.3 48.6h1.35v1.35h-1.35zM479.6 46.2h1.35v1.35h-1.35zM474.7 43.9h1.35v1.35h-1.35zM464.9 45.1h1.35v1.35h-1.35zM465.3 44.6h1.35v1.35h-1.35zM464.9 46.4h1.35v1.35h-1.35zM465.3 48.0h1.35v1.35h-1.35zM467.0 46.5h1.35v1.35h-1.35zM474.0 47.2h1.35v1.35h-1.35zM468.1 46.5h1.35v1.35h-1.35zM467.6 47.8h1.35v1.35h-1.35zM463.7 49.0h1.35v1.35h-1.35zM474.4 49.0h1.35v1.35h-1.35zM465.1 43.1h1.35v1.35h-1.35zM465.4 46.9h1.35v1.35h-1.35zM471.1 46.1h1.35v1.35h-1.35zM466.0 49.8h1.35v1.35h-1.35zM464.3 48.8h1.35v1.35h-1.35zM471.4 43.7h1.35v1.35h-1.35zM468.6 45.3h1.35v1.35h-1.35zM463.1 42.5h1.35v1.35h-1.35zM460.3 47.4h1.35v1.35h-1.35zM465.6 47.1h1.35v1.35h-1.35zM462.6 45.8h1.35v1.35h-1.35zM466.1 43.2h1.35v1.35h-1.35zM459.9 47.5h1.35v1.35h-1.35zM468.0 44.5h1.35v1.35h-1.35zM466.9 48.0h1.35v1.35h-1.35zM475.6 44.6h1.35v1.35h-1.35zM470.1 51.1h1.35v1.35h-1.35zM467.7 49.7h1.35v1.35h-1.35zM455.7 49.7h1.35v1.35h-1.35zM467.3 42.5h1.35v1.35h-1.35zM470.9 48.8h1.35v1.35h-1.35zM472.8 49.1h1.35v1.35h-1.35zM467.2 44.9h1.35v1.35h-1.35zM465.3 46.5h1.35v1.35h-1.35zM469.2 45.5h1.35v1.35h-1.35zM467.6 48.4h1.35v1.35h-1.35zM468.8 51.5h1.35v1.35h-1.35zM477.1 44.1h1.35v1.35h-1.35zM464.8 43.7h1.35v1.35h-1.35zM462.1 47.7h1.35v1.35h-1.35zM462.9 44.3h1.35v1.35h-1.35zM466.1 48.3h1.35v1.35h-1.35zM465.8 45.8h1.35v1.35h-1.35zM471.5 47.6h1.35v1.35h-1.35zM469.4 48.6h1.35v1.35h-1.35zM462.8 47.0h1.35v1.35h-1.35zM464.5 48.8h1.35v1.35h-1.35zM471.1 44.3h1.35v1.35h-1.35zM473.4 44.0h1.35v1.35h-1.35zM472.7 47.0h1.35v1.35h-1.35zM463.4 44.1h1.35v1.35h-1.35zM466.0 46.5h1.35v1.35h-1.35zM464.2 47.8h1.35v1.35h-1.35zM461.0 46.5h1.35v1.35h-1.35zM467.4 42.5h1.35v1.35h-1.35zM468.8 43.8h1.35v1.35h-1.35zM456.1 45.2h1.35v1.35h-1.35zM466.3 48.5h1.35v1.35h-1.35zM465.2 49.7h1.35v1.35h-1.35zM473.9 48.9h1.35v1.35h-1.35zM473.4 47.3h1.35v1.35h-1.35zM464.8 47.9h1.35v1.35h-1.35zM471.7 47.1h1.35v1.35h-1.35zM466.3 43.1h1.35v1.35h-1.35zM470.4 47.3h1.35v1.35h-1.35zM461.5 46.7h1.35v1.35h-1.35zM470.6 46.3h1.35v1.35h-1.35zM470.9 48.2h1.35v1.35h-1.35zM460.7 45.9h1.35v1.35h-1.35zM469.6 48.5h1.35v1.35h-1.35zM473.8 42.4h1.35v1.35h-1.35zM467.1 48.1h1.35v1.35h-1.35zM472.9 50.2h1.35v1.35h-1.35zM463.1 45.7h1.35v1.35h-1.35zM462.6 48.3h1.35v1.35h-1.35zM461.3 49.1h1.35v1.35h-1.35zM471.6 47.6h1.35v1.35h-1.35zM457.5 45.1h1.35v1.35h-1.35zM470.8 43.5h1.35v1.35h-1.35zM466.3 46.3h1.35v1.35h-1.35zM471.4 47.1h1.35v1.35h-1.35zM468.6 45.6h1.35v1.35h-1.35zM467.4 46.2h1.35v1.35h-1.35zM470.7 46.1h1.35v1.35h-1.35zM472.1 42.8h1.35v1.35h-1.35zM472.8 46.2h1.35v1.35h-1.35zM472.5 46.7h1.35v1.35h-1.35zM471.2 49.8h1.35v1.35h-1.35zM464.8 46.7h1.35v1.35h-1.35zM466.6 47.0h1.35v1.35h-1.35zM460.0 46.2h1.35v1.35h-1.35zM466.2 44.8h1.35v1.35h-1.35zM466.5 43.2h1.35v1.35h-1.35zM473.7 47.5h1.35v1.35h-1.35zM475.9 44.6h1.35v1.35h-1.35zM462.0 47.1h1.35v1.35h-1.35zM459.8 47.0h1.35v1.35h-1.35zM464.2 45.8h1.35v1.35h-1.35zM468.5 46.6h1.35v1.35h-1.35zM475.8 47.9h1.35v1.35h-1.35zM461.5 48.7h1.35v1.35h-1.35zM461.3 46.7h1.35v1.35h-1.35zM461.7 44.7h1.35v1.35h-1.35zM473.3 45.3h1.35v1.35h-1.35zM464.4 45.3h1.35v1.35h-1.35zM465.9 49.7h1.35v1.35h-1.35zM462.0 43.8h1.35v1.35h-1.35zM470.0 43.1h1.35v1.35h-1.35zM465.7 49.0h1.35v1.35h-1.35zM467.3 45.5h1.35v1.35h-1.35zM464.1 44.5h1.35v1.35h-1.35zM464.6 46.8h1.35v1.35h-1.35zM473.0 48.6h1.35v1.35h-1.35zM464.7 44.9h1.35v1.35h-1.35zM470.5 42.6h1.35v1.35h-1.35zM465.3 45.8h1.35v1.35h-1.35zM462.2 44.3h1.35v1.35h-1.35zM468.9 42.9h1.35v1.35h-1.35zM463.1 45.1h1.35v1.35h-1.35zM467.6 43.5h1.35v1.35h-1.35zM472.2 45.8h1.35v1.35h-1.35zM466.1 45.7h1.35v1.35h-1.35zM464.2 44.3h1.35v1.35h-1.35zM472.4 46.9h1.35v1.35h-1.35zM466.7 48.6h1.35v1.35h-1.35zM464.0 47.8h1.35v1.35h-1.35zM467.3 44.5h1.35v1.35h-1.35zM470.7 43.2h1.35v1.35h-1.35zM470.2 44.5h1.35v1.35h-1.35zM469.0 49.4h1.35v1.35h-1.35zM469.8 45.1h1.35v1.35h-1.35zM467.0 45.6h1.35v1.35h-1.35zM461.9 44.0h1.35v1.35h-1.35zM467.4 47.6h1.35v1.35h-1.35zM459.2 46.3h1.35v1.35h-1.35zM469.4 46.7h1.35v1.35h-1.35zM462.6 48.7h1.35v1.35h-1.35zM461.6 47.8h1.35v1.35h-1.35zM474.4 42.0h1.35v1.35h-1.35zM468.3 47.1h1.35v1.35h-1.35zM468.1 44.8h1.35v1.35h-1.35zM465.7 43.4h1.35v1.35h-1.35zM467.7 47.6h1.35v1.35h-1.35zM464.1 44.4h1.35v1.35h-1.35zM465.0 46.4h1.35v1.35h-1.35zM467.4 46.2h1.35v1.35h-1.35zM467.4 43.6h1.35v1.35h-1.35zM454.7 47.7h1.35v1.35h-1.35zM473.5 43.3h1.35v1.35h-1.35zM464.1 47.0h1.35v1.35h-1.35zM471.4 47.8h1.35v1.35h-1.35zM472.8 46.3h1.35v1.35h-1.35zM468.9 47.3h1.35v1.35h-1.35zM465.1 49.0h1.35v1.35h-1.35zM469.9 48.5h1.35v1.35h-1.35zM465.3 48.6h1.35v1.35h-1.35zM462.3 47.2h1.35v1.35h-1.35zM455.3 44.2h1.35v1.35h-1.35zM470.4 45.4h1.35v1.35h-1.35zM467.8 42.9h1.35v1.35h-1.35zM474.0 47.7h1.35v1.35h-1.35zM466.9 47.3h1.35v1.35h-1.35zM468.5 49.4h1.35v1.35h-1.35zM468.0 43.2h1.35v1.35h-1.35zM465.9 49.1h1.35v1.35h-1.35zM469.6 45.5h1.35v1.35h-1.35zM469.8 46.6h1.35v1.35h-1.35zM469.8 43.0h1.35v1.35h-1.35zM463.0 47.8h1.35v1.35h-1.35zM466.0 47.1h1.35v1.35h-1.35zM475.9 45.7h1.35v1.35h-1.35zM468.1 45.2h1.35v1.35h-1.35zM464.2 46.2h1.35v1.35h-1.35zM460.5 41.9h1.35v1.35h-1.35zM473.2 46.2h1.35v1.35h-1.35zM472.1 46.6h1.35v1.35h-1.35zM467.7 47.8h1.35v1.35h-1.35zM470.3 43.8h1.35v1.35h-1.35zM472.5 44.3h1.35v1.35h-1.35zM468.0 51.9h1.35v1.35h-1.35zM467.4 50.0h1.35v1.35h-1.35zM465.5 47.7h1.35v1.35h-1.35zM467.3 47.3h1.35v1.35h-1.35zM463.2 44.4h1.35v1.35h-1.35zM468.6 43.0h1.35v1.35h-1.35zM463.3 47.8h1.35v1.35h-1.35zM464.3 44.5h1.35v1.35h-1.35zM462.1 46.7h1.35v1.35h-1.35zM465.4 46.7h1.35v1.35h-1.35zM466.2 50.4h1.35v1.35h-1.35zM465.1 42.2h1.35v1.35h-1.35zM467.6 46.4h1.35v1.35h-1.35zM467.8 42.9h1.35v1.35h-1.35zM472.1 46.3h1.35v1.35h-1.35zM466.9 43.0h1.35v1.35h-1.35zM469.2 46.2h1.35v1.35h-1.35zM473.1 45.5h1.35v1.35h-1.35zM461.5 46.7h1.35v1.35h-1.35zM463.0 47.3h1.35v1.35h-1.35zM462.2 46.1h1.35v1.35h-1.35zM466.0 46.3h1.35v1.35h-1.35zM464.7 44.6h1.35v1.35h-1.35zM466.8 45.1h1.35v1.35h-1.35zM467.7 45.8h1.35v1.35h-1.35zM457.0 46.3h1.35v1.35h-1.35zM473.3 47.0h1.35v1.35h-1.35zM469.7 47.4h1.35v1.35h-1.35zM465.0 43.5h1.35v1.35h-1.35zM470.7 48.6h1.35v1.35h-1.35zM469.6 47.3h1.35v1.35h-1.35zM468.8 46.3h1.35v1.35h-1.35zM468.3 46.4h1.35v1.35h-1.35zM468.5 44.4h1.35v1.35h-1.35zM464.2 47.6h1.35v1.35h-1.35zM465.5 41.2h1.35v1.35h-1.35zM467.6 41.5h1.35v1.35h-1.35zM475.5 47.9h1.35v1.35h-1.35zM470.0 45.0h1.35v1.35h-1.35zM462.1 45.9h1.35v1.35h-1.35zM467.1 44.8h1.35v1.35h-1.35zM467.8 47.8h1.35v1.35h-1.35zM469.7 44.2h1.35v1.35h-1.35zM457.5 46.4h1.35v1.35h-1.35zM464.2 47.3h1.35v1.35h-1.35zM474.3 49.9h1.35v1.35h-1.35zM468.3 48.7h1.35v1.35h-1.35zM474.3 46.5h1.35v1.35h-1.35zM468.3 48.2h1.35v1.35h-1.35zM466.9 45.4h1.35v1.35h-1.35zM463.8 46.4h1.35v1.35h-1.35zM464.4 48.1h1.35v1.35h-1.35zM465.6 49.5h1.35v1.35h-1.35zM472.4 43.8h1.35v1.35h-1.35zM471.9 45.6h1.35v1.35h-1.35zM473.2 47.5h1.35v1.35h-1.35zM466.9 47.8h1.35v1.35h-1.35zM464.7 47.1h1.35v1.35h-1.35zM468.8 46.1h1.35v1.35h-1.35zM468.8 44.3h1.35v1.35h-1.35zM469.6 43.9h1.35v1.35h-1.35zM469.9 47.4h1.35v1.35h-1.35zM470.3 45.3h1.35v1.35h-1.35zM480.5 46.0h1.35v1.35h-1.35zM467.9 44.9h1.35v1.35h-1.35zM473.5 45.5h1.35v1.35h-1.35zM471.6 44.5h1.35v1.35h-1.35zM468.6 45.7h1.35v1.35h-1.35zM471.3 45.9h1.35v1.35h-1.35zM463.5 47.4h1.35v1.35h-1.35zM462.0 44.5h1.35v1.35h-1.35zM470.6 42.6h1.35v1.35h-1.35zM470.6 45.6h1.35v1.35h-1.35zM463.3 47.0h1.35v1.35h-1.35zM470.0 45.3h1.35v1.35h-1.35zM466.5 48.2h1.35v1.35h-1.35zM470.6 46.4h1.35v1.35h-1.35zM463.9 44.5h1.35v1.35h-1.35zM464.7 47.9h1.35v1.35h-1.35zM469.8 47.1h1.35v1.35h-1.35zM473.4 45.9h1.35v1.35h-1.35zM465.7 45.7h1.35v1.35h-1.35zM475.6 42.2h1.35v1.35h-1.35zM468.6 47.4h1.35v1.35h-1.35zM467.6 51.4h1.35v1.35h-1.35zM472.4 48.1h1.35v1.35h-1.35zM463.5 47.6h1.35v1.35h-1.35zM465.7 46.6h1.35v1.35h-1.35zM468.2 45.5h1.35v1.35h-1.35zM470.1 49.9h1.35v1.35h-1.35zM471.9 47.0h1.35v1.35h-1.35zM459.0 48.8h1.35v1.35h-1.35zM472.1 46.2h1.35v1.35h-1.35zM465.3 47.9h1.35v1.35h-1.35zM463.9 48.2h1.35v1.35h-1.35zM462.7 44.7h1.35v1.35h-1.35zM467.5 43.6h1.35v1.35h-1.35zM467.4 47.7h1.35v1.35h-1.35zM461.7 48.5h1.35v1.35h-1.35zM465.0 47.7h1.35v1.35h-1.35zM468.4 45.6h1.35v1.35h-1.35zM465.2 43.0h1.35v1.35h-1.35zM464.4 45.0h1.35v1.35h-1.35zM474.6 48.7h1.35v1.35h-1.35zM461.5 48.2h1.35v1.35h-1.35zM468.4 45.8h1.35v1.35h-1.35zM469.5 48.2h1.35v1.35h-1.35zM465.0 46.0h1.35v1.35h-1.35zM468.2 44.6h1.35v1.35h-1.35zM468.3 46.4h1.35v1.35h-1.35zM464.5 44.9h1.35v1.35h-1.35zM468.8 48.4h1.35v1.35h-1.35zM468.9 44.8h1.35v1.35h-1.35zM470.7 46.9h1.35v1.35h-1.35zM470.0 49.0h1.35v1.35h-1.35zM463.6 46.3h1.35v1.35h-1.35zM464.9 44.8h1.35v1.35h-1.35zM476.1 48.5h1.35v1.35h-1.35zM459.9 47.5h1.35v1.35h-1.35zM465.1 49.0h1.35v1.35h-1.35zM467.8 46.2h1.35v1.35h-1.35zM468.1 47.4h1.35v1.35h-1.35zM467.6 46.1h1.35v1.35h-1.35zM466.9 47.6h1.35v1.35h-1.35zM462.6 46.6h1.35v1.35h-1.35zM467.0 45.6h1.35v1.35h-1.35zM470.7 43.9h1.35v1.35h-1.35zM465.9 44.8h1.35v1.35h-1.35zM469.8 45.6h1.35v1.35h-1.35zM467.7 47.4h1.35v1.35h-1.35zM460.6 47.5h1.35v1.35h-1.35zM464.3 46.1h1.35v1.35h-1.35zM467.0 48.3h1.35v1.35h-1.35zM470.7 50.2h1.35v1.35h-1.35zM468.3 45.6h1.35v1.35h-1.35zM465.3 47.9h1.35v1.35h-1.35zM474.4 47.3h1.35v1.35h-1.35zM465.0 47.2h1.35v1.35h-1.35zM468.6 46.7h1.35v1.35h-1.35zM464.3 41.4h1.35v1.35h-1.35zM465.2 48.8h1.35v1.35h-1.35zM468.4 42.1h1.35v1.35h-1.35zM467.5 42.8h1.35v1.35h-1.35zM476.0 47.0h1.35v1.35h-1.35zM462.3 48.2h1.35v1.35h-1.35zM464.1 47.8h1.35v1.35h-1.35zM466.1 44.1h1.35v1.35h-1.35zM470.0 43.6h1.35v1.35h-1.35zM474.1 48.2h1.35v1.35h-1.35zM459.8 42.1h1.35v1.35h-1.35zM475.8 52.7h1.35v1.35h-1.35zM458.4 53.4h1.35v1.35h-1.35zM467.0 47.3h1.35v1.35h-1.35zM465.5 47.1h1.35v1.35h-1.35zM474.7 48.5h1.35v1.35h-1.35zM454.8 54.8h1.35v1.35h-1.35zM471.4 44.4h1.35v1.35h-1.35zM463.8 45.0h1.35v1.35h-1.35zM466.3 49.3h1.35v1.35h-1.35zM467.4 46.0h1.35v1.35h-1.35zM461.1 50.8h1.35v1.35h-1.35zM465.4 55.4h1.35v1.35h-1.35zM461.1 50.6h1.35v1.35h-1.35zM466.3 45.5h1.35v1.35h-1.35zM474.3 48.4h1.35v1.35h-1.35zM460.6 47.0h1.35v1.35h-1.35zM472.2 44.0h1.35v1.35h-1.35zM474.4 50.2h1.35v1.35h-1.35zM464.3 52.4h1.35v1.35h-1.35zM476.6 50.0h1.35v1.35h-1.35zM467.0 54.0h1.35v1.35h-1.35zM475.1 45.0h1.35v1.35h-1.35zM464.7 47.3h1.35v1.35h-1.35zM463.5 43.1h1.35v1.35h-1.35zM471.5 48.3h1.35v1.35h-1.35zM466.6 52.6h1.35v1.35h-1.35zM462.6 47.8h1.35v1.35h-1.35zM467.7 46.6h1.35v1.35h-1.35zM465.3 50.5h1.35v1.35h-1.35zM465.9 52.4h1.35v1.35h-1.35zM461.4 48.7h1.35v1.35h-1.35zM457.3 47.6h1.35v1.35h-1.35zM461.7 52.5h1.35v1.35h-1.35zM470.5 49.7h1.35v1.35h-1.35zM477.3 52.7h1.35v1.35h-1.35zM470.4 45.7h1.35v1.35h-1.35zM457.2 47.9h1.35v1.35h-1.35zM463.8 45.9h1.35v1.35h-1.35zM464.2 42.6h1.35v1.35h-1.35zM475.1 44.2h1.35v1.35h-1.35zM461.9 49.9h1.35v1.35h-1.35zM456.0 51.0h1.35v1.35h-1.35zM471.7 47.0h1.35v1.35h-1.35zM459.4 46.4h1.35v1.35h-1.35zM454.7 52.6h1.35v1.35h-1.35zM466.3 45.6h1.35v1.35h-1.35zM460.4 49.9h1.35v1.35h-1.35zM475.2 43.8h1.35v1.35h-1.35zM462.5 42.2h1.35v1.35h-1.35zM470.2 48.5h1.35v1.35h-1.35zM479.9 47.6h1.35v1.35h-1.35zM463.3 45.7h1.35v1.35h-1.35zM471.2 42.6h1.35v1.35h-1.35zM470.6 48.8h1.35v1.35h-1.35zM462.9 45.0h1.35v1.35h-1.35zM472.5 54.2h1.35v1.35h-1.35zM463.3 49.8h1.35v1.35h-1.35zM476.7 45.9h1.35v1.35h-1.35zM464.4 44.0h1.35v1.35h-1.35zM465.1 47.7h1.35v1.35h-1.35zM463.4 45.5h1.35v1.35h-1.35zM456.2 43.5h1.35v1.35h-1.35zM460.0 50.1h1.35v1.35h-1.35zM462.9 45.2h1.35v1.35h-1.35zM470.1 49.9h1.35v1.35h-1.35zM461.3 45.9h1.35v1.35h-1.35zM470.1 49.2h1.35v1.35h-1.35zM460.8 48.8h1.35v1.35h-1.35zM465.8 51.7h1.35v1.35h-1.35zM460.6 50.9h1.35v1.35h-1.35zM468.7 44.6h1.35v1.35h-1.35zM472.5 51.0h1.35v1.35h-1.35zM457.8 54.6h1.35v1.35h-1.35zM458.9 44.9h1.35v1.35h-1.35zM464.0 50.6h1.35v1.35h-1.35zM469.6 47.7h1.35v1.35h-1.35zM474.5 49.4h1.35v1.35h-1.35zM474.7 57.4h1.35v1.35h-1.35zM467.2 39.4h1.35v1.35h-1.35zM463.2 44.4h1.35v1.35h-1.35zM466.6 48.3h1.35v1.35h-1.35zM458.4 44.1h1.35v1.35h-1.35zM464.4 47.3h1.35v1.35h-1.35zM449.7 51.3h1.35v1.35h-1.35zM466.2 48.0h1.35v1.35h-1.35zM467.9 44.5h1.35v1.35h-1.35zM465.7 51.5h1.35v1.35h-1.35zM472.8 49.6h1.35v1.35h-1.35zM464.2 45.2h1.35v1.35h-1.35zM474.3 49.8h1.35v1.35h-1.35zM463.3 40.6h1.35v1.35h-1.35zM460.5 41.5h1.35v1.35h-1.35zM473.9 48.6h1.35v1.35h-1.35zM461.3 47.1h1.35v1.35h-1.35zM482.4 52.1h1.35v1.35h-1.35zM457.5 47.6h1.35v1.35h-1.35zM458.2 42.1h1.35v1.35h-1.35zM467.1 56.3h1.35v1.35h-1.35zM475.9 48.1h1.35v1.35h-1.35zM463.6 48.7h1.35v1.35h-1.35zM472.6 43.0h1.35v1.35h-1.35zM454.1 54.5h1.35v1.35h-1.35zM467.8 53.5h1.35v1.35h-1.35zM467.5 53.1h1.35v1.35h-1.35zM462.1 49.7h1.35v1.35h-1.35zM475.9 51.5h1.35v1.35h-1.35zM482.6 47.3h1.35v1.35h-1.35zM482.0 43.9h1.35v1.35h-1.35zM485.5 48.1h1.35v1.35h-1.35zM486.5 44.1h1.35v1.35h-1.35zM486.6 47.0h1.35v1.35h-1.35zM482.6 42.3h1.35v1.35h-1.35zM487.0 47.3h1.35v1.35h-1.35zM485.5 43.4h1.35v1.35h-1.35zM479.6 47.5h1.35v1.35h-1.35zM486.4 46.7h1.35v1.35h-1.35zM483.3 46.6h1.35v1.35h-1.35zM482.4 45.5h1.35v1.35h-1.35zM481.4 46.4h1.35v1.35h-1.35zM482.8 47.4h1.35v1.35h-1.35zM486.1 44.8h1.35v1.35h-1.35zM489.5 44.3h1.35v1.35h-1.35zM485.3 47.6h1.35v1.35h-1.35zM487.8 42.7h1.35v1.35h-1.35zM487.0 47.8h1.35v1.35h-1.35zM488.3 42.7h1.35v1.35h-1.35zM482.0 45.9h1.35v1.35h-1.35zM482.7 48.0h1.35v1.35h-1.35zM482.0 47.8h1.35v1.35h-1.35zM485.7 43.8h1.35v1.35h-1.35zM481.0 45.3h1.35v1.35h-1.35zM484.3 47.5h1.35v1.35h-1.35zM483.5 47.4h1.35v1.35h-1.35zM479.3 41.4h1.35v1.35h-1.35zM483.0 46.7h1.35v1.35h-1.35zM482.9 44.5h1.35v1.35h-1.35zM458.7 61.8h1.35v1.35h-1.35zM456.6 53.8h1.35v1.35h-1.35zM453.6 61.9h1.35v1.35h-1.35zM456.8 57.8h1.35v1.35h-1.35zM461.9 59.2h1.35v1.35h-1.35zM453.3 58.9h1.35v1.35h-1.35zM460.4 57.5h1.35v1.35h-1.35zM461.0 54.3h1.35v1.35h-1.35zM456.7 54.4h1.35v1.35h-1.35zM460.0 54.0h1.35v1.35h-1.35zM458.6 52.7h1.35v1.35h-1.35zM456.5 54.9h1.35v1.35h-1.35zM456.5 56.4h1.35v1.35h-1.35zM456.3 55.3h1.35v1.35h-1.35zM448.7 59.3h1.35v1.35h-1.35zM454.5 55.3h1.35v1.35h-1.35zM453.7 59.0h1.35v1.35h-1.35zM453.4 57.5h1.35v1.35h-1.35zM461.7 60.9h1.35v1.35h-1.35zM461.8 57.9h1.35v1.35h-1.35zM452.2 59.9h1.35v1.35h-1.35zM461.8 58.5h1.35v1.35h-1.35zM460.2 56.2h1.35v1.35h-1.35zM455.0 59.3h1.35v1.35h-1.35zM462.1 52.9h1.35v1.35h-1.35zM460.7 56.8h1.35v1.35h-1.35zM460.6 56.8h1.35v1.35h-1.35zM461.5 59.1h1.35v1.35h-1.35zM460.6 51.9h1.35v1.35h-1.35zM460.3 56.2h1.35v1.35h-1.35zM452.6 58.2h1.35v1.35h-1.35zM451.6 58.7h1.35v1.35h-1.35zM463.8 54.5h1.35v1.35h-1.35zM460.7 57.4h1.35v1.35h-1.35zM459.7 52.0h1.35v1.35h-1.35zM459.5 56.5h1.35v1.35h-1.35zM460.0 56.1h1.35v1.35h-1.35zM461.4 56.9h1.35v1.35h-1.35zM459.8 60.1h1.35v1.35h-1.35zM457.8 59.0h1.35v1.35h-1.35zM428.0 48.4h1.35v1.35h-1.35zM422.0 49.0h1.35v1.35h-1.35zM435.9 46.9h1.35v1.35h-1.35zM432.5 48.1h1.35v1.35h-1.35zM417.5 47.9h1.35v1.35h-1.35zM436.7 45.9h1.35v1.35h-1.35zM412.2 47.6h1.35v1.35h-1.35zM421.2 51.8h1.35v1.35h-1.35zM425.9 47.1h1.35v1.35h-1.35zM421.3 47.7h1.35v1.35h-1.35zM421.8 44.9h1.35v1.35h-1.35zM425.8 45.1h1.35v1.35h-1.35zM436.7 44.2h1.35v1.35h-1.35zM425.7 45.4h1.35v1.35h-1.35zM415.4 51.2h1.35v1.35h-1.35zM409.8 50.7h1.35v1.35h-1.35zM415.2 47.3h1.35v1.35h-1.35zM415.5 50.3h1.35v1.35h-1.35zM427.6 45.7h1.35v1.35h-1.35zM426.0 44.7h1.35v1.35h-1.35zM427.2 50.8h1.35v1.35h-1.35zM423.3 47.4h1.35v1.35h-1.35zM435.7 52.0h1.35v1.35h-1.35zM421.7 47.8h1.35v1.35h-1.35zM421.9 45.5h1.35v1.35h-1.35zM423.1 45.5h1.35v1.35h-1.35zM412.7 42.2h1.35v1.35h-1.35zM420.6 47.4h1.35v1.35h-1.35zM435.8 45.8h1.35v1.35h-1.35zM425.0 48.7h1.35v1.35h-1.35zM432.1 46.8h1.35v1.35h-1.35zM425.9 51.7h1.35v1.35h-1.35zM423.7 45.9h1.35v1.35h-1.35zM413.5 48.1h1.35v1.35h-1.35zM424.2 51.8h1.35v1.35h-1.35zM423.7 49.1h1.35v1.35h-1.35zM433.6 51.1h1.35v1.35h-1.35zM416.0 50.9h1.35v1.35h-1.35zM426.4 46.8h1.35v1.35h-1.35zM423.9 46.1h1.35v1.35h-1.35zM423.6 41.4h1.35v1.35h-1.35zM430.3 47.2h1.35v1.35h-1.35zM418.8 46.9h1.35v1.35h-1.35zM423.2 51.3h1.35v1.35h-1.35zM420.1 46.7h1.35v1.35h-1.35zM422.0 46.5h1.35v1.35h-1.35zM432.0 48.5h1.35v1.35h-1.35zM420.6 46.8h1.35v1.35h-1.35zM426.9 46.1h1.35v1.35h-1.35zM426.0 45.3h1.35v1.35h-1.35zM420.5 47.2h1.35v1.35h-1.35zM418.2 48.1h1.35v1.35h-1.35zM424.8 44.8h1.35v1.35h-1.35zM421.5 45.9h1.35v1.35h-1.35zM425.0 47.4h1.35v1.35h-1.35zM424.6 45.0h1.35v1.35h-1.35zM437.4 49.3h1.35v1.35h-1.35zM427.1 49.4h1.35v1.35h-1.35zM428.8 46.4h1.35v1.35h-1.35zM426.9 53.6h1.35v1.35h-1.35zM434.0 49.6h1.35v1.35h-1.35zM423.2 48.5h1.35v1.35h-1.35zM443.8 48.1h1.35v1.35h-1.35zM434.6 50.1h1.35v1.35h-1.35zM431.2 50.9h1.35v1.35h-1.35zM428.0 48.3h1.35v1.35h-1.35zM421.4 53.5h1.35v1.35h-1.35zM428.6 47.3h1.35v1.35h-1.35zM437.0 45.9h1.35v1.35h-1.35zM426.2 45.2h1.35v1.35h-1.35zM426.4 46.1h1.35v1.35h-1.35zM430.4 46.8h1.35v1.35h-1.35zM421.6 46.4h1.35v1.35h-1.35zM425.3 45.8h1.35v1.35h-1.35zM433.5 48.7h1.35v1.35h-1.35zM427.3 44.2h1.35v1.35h-1.35zM430.2 44.0h1.35v1.35h-1.35zM427.7 47.2h1.35v1.35h-1.35zM421.7 45.1h1.35v1.35h-1.35zM420.8 52.0h1.35v1.35h-1.35zM424.2 46.6h1.35v1.35h-1.35zM433.6 48.1h1.35v1.35h-1.35zM434.4 44.1h1.35v1.35h-1.35zM417.8 55.1h1.35v1.35h-1.35zM425.9 46.4h1.35v1.35h-1.35zM427.5 49.5h1.35v1.35h-1.35zM417.0 47.8h1.35v1.35h-1.35zM426.0 48.7h1.35v1.35h-1.35zM473.8 81.7h1.35v1.35h-1.35zM476.9 66.4h1.35v1.35h-1.35zM471.6 117.7h1.35v1.35h-1.35zM471.5 100.5h1.35v1.35h-1.35zM472.3 101.9h1.35v1.35h-1.35zM473.2 82.1h1.35v1.35h-1.35zM478.3 86.1h1.35v1.35h-1.35zM467.9 85.1h1.35v1.35h-1.35zM475.2 72.2h1.35v1.35h-1.35zM476.1 103.0h1.35v1.35h-1.35zM481.3 80.0h1.35v1.35h-1.35zM475.6 63.1h1.35v1.35h-1.35zM471.5 92.2h1.35v1.35h-1.35zM474.7 89.5h1.35v1.35h-1.35zM472.8 80.4h1.35v1.35h-1.35zM471.4 95.4h1.35v1.35h-1.35zM475.3 100.9h1.35v1.35h-1.35zM476.9 109.8h1.35v1.35h-1.35zM466.2 81.9h1.35v1.35h-1.35zM472.5 79.9h1.35v1.35h-1.35zM477.1 102.7h1.35v1.35h-1.35zM472.7 92.4h1.35v1.35h-1.35zM478.0 84.8h1.35v1.35h-1.35zM471.9 105.2h1.35v1.35h-1.35zM474.9 113.6h1.35v1.35h-1.35zM474.5 102.6h1.35v1.35h-1.35zM471.0 75.1h1.35v1.35h-1.35zM474.7 106.3h1.35v1.35h-1.35zM473.4 86.8h1.35v1.35h-1.35zM477.3 89.7h1.35v1.35h-1.35zM475.9 105.7h1.35v1.35h-1.35zM475.0 94.5h1.35v1.35h-1.35zM474.2 91.5h1.35v1.35h-1.35zM477.3 64.2h1.35v1.35h-1.35zM472.1 101.1h1.35v1.35h-1.35zM469.9 88.7h1.35v1.35h-1.35zM470.4 97.6h1.35v1.35h-1.35zM476.4 114.1h1.35v1.35h-1.35zM475.0 78.8h1.35v1.35h-1.35zM474.1 99.7h1.35v1.35h-1.35zM474.5 60.8h1.35v1.35h-1.35zM475.8 97.7h1.35v1.35h-1.35zM475.0 104.8h1.35v1.35h-1.35zM474.6 79.9h1.35v1.35h-1.35zM474.4 109.9h1.35v1.35h-1.35zM472.7 90.9h1.35v1.35h-1.35zM468.5 109.3h1.35v1.35h-1.35zM471.2 78.4h1.35v1.35h-1.35zM471.4 76.5h1.35v1.35h-1.35zM472.1 111.2h1.35v1.35h-1.35zM476.1 113.6h1.35v1.35h-1.35zM478.8 75.9h1.35v1.35h-1.35zM474.9 114.8h1.35v1.35h-1.35zM481.9 67.5h1.35v1.35h-1.35zM467.7 98.0h1.35v1.35h-1.35zM471.8 74.3h1.35v1.35h-1.35zM474.6 77.6h1.35v1.35h-1.35zM464.4 90.0h1.35v1.35h-1.35zM473.6 100.8h1.35v1.35h-1.35zM476.7 93.4h1.35v1.35h-1.35zM472.2 79.6h1.35v1.35h-1.35zM466.8 83.3h1.35v1.35h-1.35zM476.9 101.0h1.35v1.35h-1.35zM480.9 87.9h1.35v1.35h-1.35zM466.3 103.8h1.35v1.35h-1.35zM477.1 71.4h1.35v1.35h-1.35zM466.9 92.8h1.35v1.35h-1.35zM475.8 72.2h1.35v1.35h-1.35zM471.8 77.8h1.35v1.35h-1.35zM468.6 69.0h1.35v1.35h-1.35zM473.6 84.3h1.35v1.35h-1.35zM479.7 75.0h1.35v1.35h-1.35zM472.6 71.8h1.35v1.35h-1.35zM474.5 65.8h1.35v1.35h-1.35zM473.4 87.2h1.35v1.35h-1.35zM476.6 72.5h1.35v1.35h-1.35zM470.6 86.4h1.35v1.35h-1.35zM481.1 66.3h1.35v1.35h-1.35zM474.2 79.6h1.35v1.35h-1.35zM474.2 100.8h1.35v1.35h-1.35zM473.6 94.5h1.35v1.35h-1.35zM474.1 80.7h1.35v1.35h-1.35zM472.2 63.3h1.35v1.35h-1.35zM471.7 77.7h1.35v1.35h-1.35zM472.1 102.1h1.35v1.35h-1.35zM474.5 97.8h1.35v1.35h-1.35zM474.7 89.8h1.35v1.35h-1.35zM472.7 68.9h1.35v1.35h-1.35zM475.1 108.8h1.35v1.35h-1.35zM477.0 88.7h1.35v1.35h-1.35zM475.5 105.1h1.35v1.35h-1.35zM480.0 110.0h1.35v1.35h-1.35zM473.6 91.6h1.35v1.35h-1.35zM473.7 93.8h1.35v1.35h-1.35zM471.1 102.6h1.35v1.35h-1.35zM470.4 77.1h1.35v1.35h-1.35zM474.4 80.8h1.35v1.35h-1.35zM476.1 90.0h1.35v1.35h-1.35zM472.5 97.6h1.35v1.35h-1.35zM473.8 78.7h1.35v1.35h-1.35zM480.7 82.7h1.35v1.35h-1.35zM470.6 91.6h1.35v1.35h-1.35zM469.9 107.1h1.35v1.35h-1.35zM471.7 72.2h1.35v1.35h-1.35zM478.0 104.9h1.35v1.35h-1.35zM469.6 109.2h1.35v1.35h-1.35zM479.6 81.0h1.35v1.35h-1.35zM472.0 75.8h1.35v1.35h-1.35zM473.5 90.8h1.35v1.35h-1.35zM475.8 91.4h1.35v1.35h-1.35zM467.4 76.9h1.35v1.35h-1.35zM478.4 108.8h1.35v1.35h-1.35zM472.4 87.8h1.35v1.35h-1.35zM472.4 90.4h1.35v1.35h-1.35zM466.6 104.5h1.35v1.35h-1.35zM470.5 92.4h1.35v1.35h-1.35zM463.4 93.8h1.35v1.35h-1.35zM478.8 97.7h1.35v1.35h-1.35zM470.2 64.3h1.35v1.35h-1.35zM477.4 94.2h1.35v1.35h-1.35zM475.3 85.6h1.35v1.35h-1.35zM470.0 104.1h1.35v1.35h-1.35zM469.4 104.6h1.35v1.35h-1.35zM466.6 75.0h1.35v1.35h-1.35zM467.5 111.3h1.35v1.35h-1.35zM466.3 71.5h1.35v1.35h-1.35zM475.5 93.7h1.35v1.35h-1.35zM475.4 101.2h1.35v1.35h-1.35zM466.0 75.7h1.35v1.35h-1.35zM471.7 87.1h1.35v1.35h-1.35zM467.7 74.9h1.35v1.35h-1.35zM469.8 107.3h1.35v1.35h-1.35zM474.6 84.6h1.35v1.35h-1.35zM471.9 94.7h1.35v1.35h-1.35zM470.3 85.7h1.35v1.35h-1.35zM466.4 100.9h1.35v1.35h-1.35zM476.7 95.9h1.35v1.35h-1.35zM474.8 95.9h1.35v1.35h-1.35zM480.8 93.3h1.35v1.35h-1.35zM467.9 72.9h1.35v1.35h-1.35zM475.7 107.3h1.35v1.35h-1.35zM475.9 103.6h1.35v1.35h-1.35zM473.7 65.8h1.35v1.35h-1.35zM470.3 60.5h1.35v1.35h-1.35zM471.5 67.8h1.35v1.35h-1.35zM473.4 87.2h1.35v1.35h-1.35zM465.5 101.9h1.35v1.35h-1.35zM475.9 67.3h1.35v1.35h-1.35zM473.5 101.6h1.35v1.35h-1.35zM471.9 103.9h1.35v1.35h-1.35zM473.7 107.4h1.35v1.35h-1.35zM473.7 87.2h1.35v1.35h-1.35zM474.9 102.7h1.35v1.35h-1.35zM473.9 82.5h1.35v1.35h-1.35zM469.9 83.8h1.35v1.35h-1.35zM470.8 93.2h1.35v1.35h-1.35zM473.6 88.4h1.35v1.35h-1.35zM472.9 92.6h1.35v1.35h-1.35zM479.0 109.5h1.35v1.35h-1.35zM470.7 96.7h1.35v1.35h-1.35zM471.7 88.2h1.35v1.35h-1.35zM472.0 79.5h1.35v1.35h-1.35zM473.7 109.1h1.35v1.35h-1.35zM469.4 98.0h1.35v1.35h-1.35zM471.4 94.3h1.35v1.35h-1.35zM469.8 85.9h1.35v1.35h-1.35zM473.8 87.4h1.35v1.35h-1.35zM463.4 100.3h1.35v1.35h-1.35zM472.8 93.0h1.35v1.35h-1.35zM474.3 82.8h1.35v1.35h-1.35zM468.8 82.3h1.35v1.35h-1.35zM480.0 81.6h1.35v1.35h-1.35zM471.3 94.9h1.35v1.35h-1.35zM475.1 78.2h1.35v1.35h-1.35zM477.0 64.0h1.35v1.35h-1.35zM466.1 76.0h1.35v1.35h-1.35zM473.7 98.6h1.35v1.35h-1.35zM471.6 62.9h1.35v1.35h-1.35zM473.7 99.5h1.35v1.35h-1.35zM472.9 81.4h1.35v1.35h-1.35zM475.1 88.6h1.35v1.35h-1.35zM468.5 91.1h1.35v1.35h-1.35zM467.9 105.4h1.35v1.35h-1.35zM474.7 73.1h1.35v1.35h-1.35zM473.7 110.2h1.35v1.35h-1.35zM464.5 87.2h1.35v1.35h-1.35zM479.3 63.8h1.35v1.35h-1.35zM472.2 65.9h1.35v1.35h-1.35zM466.6 80.6h1.35v1.35h-1.35zM473.4 95.8h1.35v1.35h-1.35zM474.5 108.5h1.35v1.35h-1.35zM475.6 101.7h1.35v1.35h-1.35zM469.1 86.9h1.35v1.35h-1.35zM476.1 101.8h1.35v1.35h-1.35zM476.7 82.8h1.35v1.35h-1.35zM480.5 83.2h1.35v1.35h-1.35zM464.7 95.5h1.35v1.35h-1.35zM466.1 78.6h1.35v1.35h-1.35zM472.5 83.6h1.35v1.35h-1.35zM473.6 76.7h1.35v1.35h-1.35zM472.5 69.7h1.35v1.35h-1.35zM471.4 66.3h1.35v1.35h-1.35zM475.5 67.8h1.35v1.35h-1.35zM475.6 82.6h1.35v1.35h-1.35zM471.7 109.2h1.35v1.35h-1.35zM473.9 82.8h1.35v1.35h-1.35zM467.4 90.8h1.35v1.35h-1.35zM478.3 79.2h1.35v1.35h-1.35zM469.7 111.7h1.35v1.35h-1.35zM472.3 92.2h1.35v1.35h-1.35zM471.9 69.1h1.35v1.35h-1.35zM471.4 73.3h1.35v1.35h-1.35zM466.8 84.5h1.35v1.35h-1.35zM480.0 116.7h1.35v1.35h-1.35zM472.6 91.8h1.35v1.35h-1.35zM474.9 112.4h1.35v1.35h-1.35zM474.1 81.4h1.35v1.35h-1.35zM471.3 108.6h1.35v1.35h-1.35zM483.2 78.9h1.35v1.35h-1.35zM464.7 103.2h1.35v1.35h-1.35zM472.6 91.8h1.35v1.35h-1.35zM477.8 90.6h1.35v1.35h-1.35zM472.7 69.9h1.35v1.35h-1.35zM474.0 67.9h1.35v1.35h-1.35zM471.5 64.6h1.35v1.35h-1.35zM471.4 82.0h1.35v1.35h-1.35zM475.3 112.3h1.35v1.35h-1.35zM472.2 74.9h1.35v1.35h-1.35zM480.7 95.7h1.35v1.35h-1.35zM475.3 99.8h1.35v1.35h-1.35zM478.7 106.6h1.35v1.35h-1.35zM475.6 102.5h1.35v1.35h-1.35zM469.5 79.2h1.35v1.35h-1.35zM472.5 91.1h1.35v1.35h-1.35zM473.0 94.8h1.35v1.35h-1.35zM473.0 82.3h1.35v1.35h-1.35zM466.4 103.7h1.35v1.35h-1.35zM475.2 74.7h1.35v1.35h-1.35zM474.9 96.3h1.35v1.35h-1.35zM473.2 58.4h1.35v1.35h-1.35zM468.1 79.4h1.35v1.35h-1.35zM479.3 75.0h1.35v1.35h-1.35zM471.5 70.7h1.35v1.35h-1.35zM470.9 95.4h1.35v1.35h-1.35zM475.5 90.2h1.35v1.35h-1.35zM470.5 106.0h1.35v1.35h-1.35zM472.2 108.4h1.35v1.35h-1.35zM470.2 84.2h1.35v1.35h-1.35zM476.7 85.0h1.35v1.35h-1.35zM468.1 77.9h1.35v1.35h-1.35zM467.6 99.0h1.35v1.35h-1.35zM466.0 106.6h1.35v1.35h-1.35zM466.3 90.3h1.35v1.35h-1.35zM467.0 84.2h1.35v1.35h-1.35zM477.0 108.6h1.35v1.35h-1.35zM478.1 88.0h1.35v1.35h-1.35zM473.3 93.5h1.35v1.35h-1.35zM475.4 82.8h1.35v1.35h-1.35zM477.3 95.1h1.35v1.35h-1.35zM477.5 97.7h1.35v1.35h-1.35zM475.6 77.1h1.35v1.35h-1.35zM471.2 67.6h1.35v1.35h-1.35zM471.7 86.6h1.35v1.35h-1.35zM476.2 68.2h1.35v1.35h-1.35zM485.8 87.5h1.35v1.35h-1.35zM477.9 107.2h1.35v1.35h-1.35zM462.8 85.1h1.35v1.35h-1.35zM476.0 74.0h1.35v1.35h-1.35zM471.0 93.4h1.35v1.35h-1.35zM465.4 92.9h1.35v1.35h-1.35zM470.3 76.8h1.35v1.35h-1.35zM474.3 98.9h1.35v1.35h-1.35zM472.7 77.2h1.35v1.35h-1.35zM473.9 115.3h1.35v1.35h-1.35zM473.6 104.7h1.35v1.35h-1.35zM466.3 99.5h1.35v1.35h-1.35zM475.0 94.0h1.35v1.35h-1.35zM468.4 70.1h1.35v1.35h-1.35zM471.9 91.2h1.35v1.35h-1.35zM468.0 71.3h1.35v1.35h-1.35zM475.1 107.0h1.35v1.35h-1.35zM470.6 77.6h1.35v1.35h-1.35zM474.8 88.3h1.35v1.35h-1.35zM477.5 65.1h1.35v1.35h-1.35zM472.5 82.5h1.35v1.35h-1.35zM471.5 68.7h1.35v1.35h-1.35zM471.3 70.9h1.35v1.35h-1.35zM474.2 90.1h1.35v1.35h-1.35zM467.2 60.3h1.35v1.35h-1.35zM470.9 100.4h1.35v1.35h-1.35zM474.8 88.2h1.35v1.35h-1.35zM459.6 80.9h1.35v1.35h-1.35zM469.9 83.6h1.35v1.35h-1.35zM468.0 82.0h1.35v1.35h-1.35zM475.7 86.0h1.35v1.35h-1.35zM472.6 87.3h1.35v1.35h-1.35zM473.6 82.4h1.35v1.35h-1.35zM472.8 106.8h1.35v1.35h-1.35zM476.2 94.6h1.35v1.35h-1.35zM478.2 93.1h1.35v1.35h-1.35zM468.9 59.5h1.35v1.35h-1.35zM470.0 88.2h1.35v1.35h-1.35zM474.4 107.7h1.35v1.35h-1.35zM470.5 75.6h1.35v1.35h-1.35zM475.9 109.4h1.35v1.35h-1.35zM470.9 95.1h1.35v1.35h-1.35zM478.4 94.8h1.35v1.35h-1.35zM478.2 100.3h1.35v1.35h-1.35zM473.3 81.4h1.35v1.35h-1.35zM467.8 87.6h1.35v1.35h-1.35zM472.4 108.0h1.35v1.35h-1.35zM468.0 113.9h1.35v1.35h-1.35zM473.0 109.6h1.35v1.35h-1.35zM468.9 95.2h1.35v1.35h-1.35zM477.7 91.3h1.35v1.35h-1.35zM466.9 83.7h1.35v1.35h-1.35zM475.0 65.5h1.35v1.35h-1.35zM467.0 93.3h1.35v1.35h-1.35zM469.0 100.9h1.35v1.35h-1.35zM468.1 58.0h1.35v1.35h-1.35zM469.7 114.8h1.35v1.35h-1.35zM469.4 89.2h1.35v1.35h-1.35zM473.8 73.1h1.35v1.35h-1.35zM477.2 92.3h1.35v1.35h-1.35zM474.6 60.7h1.35v1.35h-1.35zM472.1 85.4h1.35v1.35h-1.35zM475.7 114.6h1.35v1.35h-1.35zM471.1 113.2h1.35v1.35h-1.35zM473.2 117.7h1.35v1.35h-1.35zM469.4 115.5h1.35v1.35h-1.35zM471.1 113.1h1.35v1.35h-1.35zM474.3 111.9h1.35v1.35h-1.35zM468.7 115.6h1.35v1.35h-1.35zM471.8 113.2h1.35v1.35h-1.35zM471.5 115.2h1.35v1.35h-1.35zM470.8 115.8h1.35v1.35h-1.35zM473.1 117.6h1.35v1.35h-1.35zM475.7 116.1h1.35v1.35h-1.35zM471.3 114.2h1.35v1.35h-1.35zM471.2 115.3h1.35v1.35h-1.35zM476.0 110.5h1.35v1.35h-1.35zM469.4 112.9h1.35v1.35h-1.35zM468.9 110.7h1.35v1.35h-1.35zM470.3 117.1h1.35v1.35h-1.35zM474.1 114.0h1.35v1.35h-1.35zM472.0 109.8h1.35v1.35h-1.35zM474.0 115.0h1.35v1.35h-1.35zM468.7 114.4h1.35v1.35h-1.35zM471.3 112.6h1.35v1.35h-1.35zM468.9 112.2h1.35v1.35h-1.35zM469.1 115.1h1.35v1.35h-1.35zM473.0 114.7h1.35v1.35h-1.35zM471.4 112.9h1.35v1.35h-1.35zM478.0 109.3h1.35v1.35h-1.35zM475.5 114.8h1.35v1.35h-1.35zM472.1 112.7h1.35v1.35h-1.35zM471.3 111.0h1.35v1.35h-1.35zM467.7 113.6h1.35v1.35h-1.35zM466.9 116.0h1.35v1.35h-1.35zM475.3 105.3h1.35v1.35h-1.35zM467.3 114.6h1.35v1.35h-1.35zM472.5 114.2h1.35v1.35h-1.35zM473.2 115.8h1.35v1.35h-1.35zM474.5 118.4h1.35v1.35h-1.35zM472.0 116.1h1.35v1.35h-1.35zM467.0 113.6h1.35v1.35h-1.35zM468.3 117.4h1.35v1.35h-1.35zM478.9 115.3h1.35v1.35h-1.35zM468.0 113.7h1.35v1.35h-1.35zM472.0 114.4h1.35v1.35h-1.35zM475.2 116.3h1.35v1.35h-1.35zM412.0 107.1h1.35v1.35h-1.35zM424.9 89.7h1.35v1.35h-1.35zM436.4 92.4h1.35v1.35h-1.35zM419.6 82.9h1.35v1.35h-1.35zM428.2 103.0h1.35v1.35h-1.35zM436.9 93.2h1.35v1.35h-1.35zM425.0 109.4h1.35v1.35h-1.35zM425.1 107.9h1.35v1.35h-1.35zM429.3 96.9h1.35v1.35h-1.35zM426.4 97.5h1.35v1.35h-1.35zM425.1 88.7h1.35v1.35h-1.35zM427.1 88.9h1.35v1.35h-1.35zM429.7 95.6h1.35v1.35h-1.35zM426.3 93.0h1.35v1.35h-1.35zM426.5 110.4h1.35v1.35h-1.35zM427.8 89.4h1.35v1.35h-1.35zM426.1 100.8h1.35v1.35h-1.35zM426.7 93.4h1.35v1.35h-1.35zM426.3 96.3h1.35v1.35h-1.35zM430.2 98.8h1.35v1.35h-1.35zM418.0 85.2h1.35v1.35h-1.35zM412.1 102.0h1.35v1.35h-1.35zM434.5 106.5h1.35v1.35h-1.35zM428.7 105.1h1.35v1.35h-1.35zM427.6 93.7h1.35v1.35h-1.35zM418.6 87.7h1.35v1.35h-1.35zM424.3 103.0h1.35v1.35h-1.35zM437.8 90.6h1.35v1.35h-1.35zM430.1 97.3h1.35v1.35h-1.35zM423.2 79.3h1.35v1.35h-1.35zM423.3 81.9h1.35v1.35h-1.35zM426.0 93.5h1.35v1.35h-1.35zM426.8 93.3h1.35v1.35h-1.35zM430.7 86.4h1.35v1.35h-1.35zM433.2 79.7h1.35v1.35h-1.35zM428.2 98.3h1.35v1.35h-1.35zM423.1 80.4h1.35v1.35h-1.35zM431.7 88.7h1.35v1.35h-1.35zM432.5 101.7h1.35v1.35h-1.35zM427.8 94.7h1.35v1.35h-1.35zM433.8 98.1h1.35v1.35h-1.35zM422.2 96.3h1.35v1.35h-1.35zM431.2 96.6h1.35v1.35h-1.35zM429.0 93.4h1.35v1.35h-1.35zM427.1 86.4h1.35v1.35h-1.35zM419.3 104.9h1.35v1.35h-1.35zM424.0 96.7h1.35v1.35h-1.35zM418.9 96.2h1.35v1.35h-1.35zM421.7 86.1h1.35v1.35h-1.35zM433.5 104.9h1.35v1.35h-1.35zM415.3 97.0h1.35v1.35h-1.35zM433.1 83.8h1.35v1.35h-1.35zM431.9 90.0h1.35v1.35h-1.35zM421.9 91.6h1.35v1.35h-1.35zM425.2 62.0h1.35v1.35h-1.35zM462.8 63.6h1.35v1.35h-1.35zM421.2 66.0h1.35v1.35h-1.35zM430.6 66.8h1.35v1.35h-1.35zM427.9 65.1h1.35v1.35h-1.35zM432.9 64.7h1.35v1.35h-1.35zM428.7 64.3h1.35v1.35h-1.35zM454.9 63.2h1.35v1.35h-1.35zM424.0 63.8h1.35v1.35h-1.35zM439.5 65.2h1.35v1.35h-1.35zM444.6 62.1h1.35v1.35h-1.35zM435.2 64.1h1.35v1.35h-1.35zM427.6 64.7h1.35v1.35h-1.35zM404.2 64.9h1.35v1.35h-1.35zM433.6 61.9h1.35v1.35h-1.35zM430.3 67.2h1.35v1.35h-1.35zM426.2 65.5h1.35v1.35h-1.35zM428.5 63.0h1.35v1.35h-1.35zM418.8 63.7h1.35v1.35h-1.35zM449.6 65.9h1.35v1.35h-1.35zM421.8 66.2h1.35v1.35h-1.35zM429.8 63.2h1.35v1.35h-1.35zM437.6 62.8h1.35v1.35h-1.35zM409.8 66.8h1.35v1.35h-1.35zM406.3 65.4h1.35v1.35h-1.35zM410.5 64.4h1.35v1.35h-1.35zM428.9 63.7h1.35v1.35h-1.35zM401.3 64.3h1.35v1.35h-1.35zM431.1 62.9h1.35v1.35h-1.35zM430.7 66.2h1.35v1.35h-1.35zM421.7 64.9h1.35v1.35h-1.35zM415.7 65.1h1.35v1.35h-1.35zM440.5 68.9h1.35v1.35h-1.35zM444.2 65.2h1.35v1.35h-1.35zM451.1 62.7h1.35v1.35h-1.35zM446.5 63.5h1.35v1.35h-1.35zM423.1 66.4h1.35v1.35h-1.35zM434.9 66.8h1.35v1.35h-1.35zM411.6 64.9h1.35v1.35h-1.35zM424.4 64.0h1.35v1.35h-1.35zM405.4 66.1h1.35v1.35h-1.35zM434.6 62.7h1.35v1.35h-1.35zM413.1 62.9h1.35v1.35h-1.35zM451.0 64.3h1.35v1.35h-1.35zM427.1 65.3h1.35v1.35h-1.35zM409.3 114.4h1.35v1.35h-1.35zM447.2 67.8h1.35v1.35h-1.35zM413.7 98.4h1.35v1.35h-1.35zM424.6 94.9h1.35v1.35h-1.35zM437.5 98.3h1.35v1.35h-1.35zM450.3 106.1h1.35v1.35h-1.35zM402.4 64.3h1.35v1.35h-1.35zM439.8 102.9h1.35v1.35h-1.35zM409.9 61.5h1.35v1.35h-1.35zM438.6 77.5h1.35v1.35h-1.35zM437.1 109.1h1.35v1.35h-1.35zM432.0 93.1h1.35v1.35h-1.35zM426.7 114.0h1.35v1.35h-1.35zM433.4 110.0h1.35v1.35h-1.35zM457.5 84.5h1.35v1.35h-1.35zM422.4 76.3h1.35v1.35h-1.35zM429.3 71.8h1.35v1.35h-1.35zM410.5 62.5h1.35v1.35h-1.35zM424.5 101.5h1.35v1.35h-1.35zM405.0 106.8h1.35v1.35h-1.35zM454.8 62.8h1.35v1.35h-1.35zM422.0 88.5h1.35v1.35h-1.35zM505.4 73.0h1.35v1.35h-1.35zM501.4 64.4h1.35v1.35h-1.35zM496.7 78.8h1.35v1.35h-1.35zM507.9 67.1h1.35v1.35h-1.35zM502.2 44.9h1.35v1.35h-1.35zM505.4 47.9h1.35v1.35h-1.35zM499.0 46.8h1.35v1.35h-1.35zM505.7 45.5h1.35v1.35h-1.35zM501.9 45.0h1.35v1.35h-1.35zM500.7 46.2h1.35v1.35h-1.35z"/>
<g stroke="#000" fill="none">
<rect x="42.5" y="35.4" width="112.2" height="86.3" fill="none" stroke="#000" stroke-width="1.3"/>
<path stroke-width="1" d="M42.7 121.7v5M51.05 121.7v3.2M55.93 121.7v3.2M59.39 121.7v3.2M62.08 121.7v3.2M64.27 121.7v3.2M66.13 121.7v3.2M67.74 121.7v3.2M69.16 121.7v3.2M70.42 121.7v5M78.77 121.7v3.2M83.65 121.7v3.2M87.12 121.7v3.2M89.8 121.7v3.2M92 121.7v3.2M93.86 121.7v3.2M95.46 121.7v3.2M96.88 121.7v3.2M98.15 121.7v5M106.5 121.7v3.2M111.38 121.7v3.2M114.84 121.7v3.2M117.53 121.7v3.2M119.72 121.7v3.2M121.58 121.7v3.2M123.19 121.7v3.2M124.61 121.7v3.2M125.88 121.7v5M134.22 121.7v3.2M139.1 121.7v3.2M142.57 121.7v3.2M145.25 121.7v3.2M147.45 121.7v3.2M149.31 121.7v3.2M150.91 121.7v3.2M152.33 121.7v3.2M153.6 121.7v5M42.5 120.9h-4.9M42.5 114.48h-2.7M42.5 110.73h-2.7M42.5 108.06h-2.7M42.5 105.99h-2.7M42.5 104.31h-2.7M42.5 102.88h-2.7M42.5 101.64h-2.7M42.5 100.55h-2.7M42.5 99.58h-4.9M42.5 93.16h-2.7M42.5 89.4h-2.7M42.5 86.74h-2.7M42.5 84.67h-2.7M42.5 82.98h-2.7M42.5 81.55h-2.7M42.5 80.32h-2.7M42.5 79.23h-2.7M42.5 78.25h-4.9M42.5 71.83h-2.7M42.5 68.08h-2.7M42.5 65.41h-2.7M42.5 63.34h-2.7M42.5 61.66h-2.7M42.5 60.23h-2.7M42.5 58.99h-2.7M42.5 57.9h-2.7M42.5 56.92h-4.9M42.5 50.51h-2.7M42.5 46.75h-2.7M42.5 44.09h-2.7M42.5 42.02h-2.7M42.5 40.33h-2.7M42.5 38.9h-2.7M42.5 37.67h-2.7M42.5 36.58h-2.7M42.5 35.6h-4.9"/>
<rect x="222.7" y="35.3" width="112.2" height="86.2" fill="none" stroke="#000" stroke-width="1.3"/>
<path stroke-width="1" d="M222.9 121.5v5M231.24 121.5v3.2M236.12 121.5v3.2M239.58 121.5v3.2M242.26 121.5v3.2M244.45 121.5v3.2M246.31 121.5v3.2M247.92 121.5v3.2M249.33 121.5v3.2M250.6 121.5v5M258.94 121.5v3.2M263.82 121.5v3.2M267.28 121.5v3.2M269.96 121.5v3.2M272.15 121.5v3.2M274.01 121.5v3.2M275.62 121.5v3.2M277.03 121.5v3.2M278.3 121.5v5M286.64 121.5v3.2M291.52 121.5v3.2M294.98 121.5v3.2M297.66 121.5v3.2M299.85 121.5v3.2M301.71 121.5v3.2M303.32 121.5v3.2M304.73 121.5v3.2M306 121.5v5M314.34 121.5v3.2M319.22 121.5v3.2M322.68 121.5v3.2M325.36 121.5v3.2M327.55 121.5v3.2M329.41 121.5v3.2M331.02 121.5v3.2M332.43 121.5v3.2M333.7 121.5v5M222.7 120.8h-4.9M222.7 114.38h-2.7M222.7 110.63h-2.7M222.7 107.96h-2.7M222.7 105.89h-2.7M222.7 104.21h-2.7M222.7 102.78h-2.7M222.7 101.54h-2.7M222.7 100.45h-2.7M222.7 99.47h-4.9M222.7 93.06h-2.7M222.7 89.3h-2.7M222.7 86.64h-2.7M222.7 84.57h-2.7M222.7 82.88h-2.7M222.7 81.45h-2.7M222.7 80.22h-2.7M222.7 79.13h-2.7M222.7 78.15h-4.9M222.7 71.73h-2.7M222.7 67.98h-2.7M222.7 65.31h-2.7M222.7 63.24h-2.7M222.7 61.56h-2.7M222.7 60.13h-2.7M222.7 58.89h-2.7M222.7 57.8h-2.7M222.7 56.83h-4.9M222.7 50.41h-2.7M222.7 46.65h-2.7M222.7 43.99h-2.7M222.7 41.92h-2.7M222.7 40.23h-2.7M222.7 38.8h-2.7M222.7 37.57h-2.7M222.7 36.48h-2.7M222.7 35.5h-4.9"/>
<rect x="398.2" y="34" width="112.1" height="85.7" fill="none" stroke="#000" stroke-width="1.3"/>
<path stroke-width="1" d="M398.6 119.7v5M406.94 119.7v3.2M411.82 119.7v3.2M415.28 119.7v3.2M417.96 119.7v3.2M420.15 119.7v3.2M422.01 119.7v3.2M423.62 119.7v3.2M425.03 119.7v3.2M426.3 119.7v5M434.64 119.7v3.2M439.52 119.7v3.2M442.98 119.7v3.2M445.66 119.7v3.2M447.85 119.7v3.2M449.71 119.7v3.2M451.32 119.7v3.2M452.73 119.7v3.2M454 119.7v5M462.34 119.7v3.2M467.22 119.7v3.2M470.68 119.7v3.2M473.36 119.7v3.2M475.55 119.7v3.2M477.41 119.7v3.2M479.02 119.7v3.2M480.43 119.7v3.2M481.7 119.7v5M490.04 119.7v3.2M494.92 119.7v3.2M498.38 119.7v3.2M501.06 119.7v3.2M503.25 119.7v3.2M505.11 119.7v3.2M506.72 119.7v3.2M508.13 119.7v3.2M509.4 119.7v5M398.2 119h-4.9M398.2 112.6h-2.7M398.2 108.86h-2.7M398.2 106.21h-2.7M398.2 104.15h-2.7M398.2 102.46h-2.7M398.2 101.04h-2.7M398.2 99.81h-2.7M398.2 98.72h-2.7M398.2 97.75h-4.9M398.2 91.35h-2.7M398.2 87.61h-2.7M398.2 84.96h-2.7M398.2 82.9h-2.7M398.2 81.21h-2.7M398.2 79.79h-2.7M398.2 78.56h-2.7M398.2 77.47h-2.7M398.2 76.5h-4.9M398.2 70.1h-2.7M398.2 66.36h-2.7M398.2 63.71h-2.7M398.2 61.65h-2.7M398.2 59.96h-2.7M398.2 58.54h-2.7M398.2 57.31h-2.7M398.2 56.22h-2.7M398.2 55.25h-4.9M398.2 48.85h-2.7M398.2 45.11h-2.7M398.2 42.46h-2.7M398.2 40.4h-2.7M398.2 38.71h-2.7M398.2 37.29h-2.7M398.2 36.06h-2.7M398.2 34.97h-2.7M398.2 34h-4.9"/>
<rect x="89.3" y="51.7" width="20.5" height="23.5" fill="none" stroke="#111" stroke-width="1.3"/>
<rect x="86.8" y="76.3" width="25.8" height="19.5" fill="none" stroke="#111" stroke-width="1.3"/>
<rect x="265.7" y="46.8" width="23.9" height="16.2" fill="none" stroke="#111" stroke-width="1.3"/>
<rect x="254.5" y="68.4" width="26" height="25" fill="none" stroke="#111" stroke-width="1.3"/>
<rect x="402.6" y="38.5" width="42.4" height="19.5" fill="none" stroke="#111" stroke-width="1.3"/>
<rect x="451.4" y="38.5" width="34.6" height="19.1" fill="none" stroke="#111" stroke-width="1.3"/>
<rect x="461.7" y="64.2" width="24.5" height="52.3" fill="none" stroke="#111" stroke-width="1.3"/>
</g>
<g font-size="10.5">
<g transform="translate(43.8 138.8)"><g transform="scale(0.74 1)"><path transform="translate(-12.12 0) scale(11.6)" d="M0.385 -0.716L0.385 0L0.285 0L0.285 -0.54L0.085 -0.54L0.085 -0.612Q0.245 -0.62 0.29 -0.716Z" stroke="#000" stroke-width="0.02"/><text x="-5.67" y="0" font-size="11.6">0</text></g><text x="1.9" y="-5.8" font-size="10.0">0</text></g><g transform="translate(71.53 138.8)"><g transform="scale(0.74 1)"><path transform="translate(-12.12 0) scale(11.6)" d="M0.385 -0.716L0.385 0L0.285 0L0.285 -0.54L0.085 -0.54L0.085 -0.612Q0.245 -0.62 0.29 -0.716Z" stroke="#000" stroke-width="0.02"/><text x="-5.67" y="0" font-size="11.6">0</text></g><g transform="translate(0 -5.8)"><path transform="translate(1.9 0) scale(10.0)" d="M0.385 -0.716L0.385 0L0.285 0L0.285 -0.54L0.085 -0.54L0.085 -0.612Q0.245 -0.62 0.29 -0.716Z" stroke="#000" stroke-width="0.02"/></g></g><g transform="translate(99.25 138.8)"><g transform="scale(0.74 1)"><path transform="translate(-12.12 0) scale(11.6)" d="M0.385 -0.716L0.385 0L0.285 0L0.285 -0.54L0.085 -0.54L0.085 -0.612Q0.245 -0.62 0.29 -0.716Z" stroke="#000" stroke-width="0.02"/><text x="-5.67" y="0" font-size="11.6">0</text></g><text x="1.9" y="-5.8" font-size="10.0">2</text></g><g transform="translate(126.97 138.8)"><g transform="scale(0.74 1)"><path transform="translate(-12.12 0) scale(11.6)" d="M0.385 -0.716L0.385 0L0.285 0L0.285 -0.54L0.085 -0.54L0.085 -0.612Q0.245 -0.62 0.29 -0.716Z" stroke="#000" stroke-width="0.02"/><text x="-5.67" y="0" font-size="11.6">0</text></g><text x="1.9" y="-5.8" font-size="10.0">3</text></g><g transform="translate(154.7 138.8)"><g transform="scale(0.74 1)"><path transform="translate(-12.12 0) scale(11.6)" d="M0.385 -0.716L0.385 0L0.285 0L0.285 -0.54L0.085 -0.54L0.085 -0.612Q0.245 -0.62 0.29 -0.716Z" stroke="#000" stroke-width="0.02"/><text x="-5.67" y="0" font-size="11.6">0</text></g><text x="1.9" y="-5.8" font-size="10.0">4</text></g>
<g transform="translate(34 120.9) rotate(-90)"><g transform="scale(0.74 1)"><path transform="translate(-12.12 0) scale(11.6)" d="M0.385 -0.716L0.385 0L0.285 0L0.285 -0.54L0.085 -0.54L0.085 -0.612Q0.245 -0.62 0.29 -0.716Z" stroke="#000" stroke-width="0.02"/><text x="-5.67" y="0" font-size="11.6">0</text></g><text x="1.9" y="-5.8" font-size="10.0">0</text></g><g transform="translate(34 99.58) rotate(-90)"><g transform="scale(0.74 1)"><path transform="translate(-12.12 0) scale(11.6)" d="M0.385 -0.716L0.385 0L0.285 0L0.285 -0.54L0.085 -0.54L0.085 -0.612Q0.245 -0.62 0.29 -0.716Z" stroke="#000" stroke-width="0.02"/><text x="-5.67" y="0" font-size="11.6">0</text></g><g transform="translate(0 -5.8)"><path transform="translate(1.9 0) scale(10.0)" d="M0.385 -0.716L0.385 0L0.285 0L0.285 -0.54L0.085 -0.54L0.085 -0.612Q0.245 -0.62 0.29 -0.716Z" stroke="#000" stroke-width="0.02"/></g></g><g transform="translate(34 78.25) rotate(-90)"><g transform="scale(0.74 1)"><path transform="translate(-12.12 0) scale(11.6)" d="M0.385 -0.716L0.385 0L0.285 0L0.285 -0.54L0.085 -0.54L0.085 -0.612Q0.245 -0.62 0.29 -0.716Z" stroke="#000" stroke-width="0.02"/><text x="-5.67" y="0" font-size="11.6">0</text></g><text x="1.9" y="-5.8" font-size="10.0">2</text></g><g transform="translate(34 56.92) rotate(-90)"><g transform="scale(0.74 1)"><path transform="translate(-12.12 0) scale(11.6)" d="M0.385 -0.716L0.385 0L0.285 0L0.285 -0.54L0.085 -0.54L0.085 -0.612Q0.245 -0.62 0.29 -0.716Z" stroke="#000" stroke-width="0.02"/><text x="-5.67" y="0" font-size="11.6">0</text></g><text x="1.9" y="-5.8" font-size="10.0">3</text></g><g transform="translate(34 35.6) rotate(-90)"><g transform="scale(0.74 1)"><path transform="translate(-12.12 0) scale(11.6)" d="M0.385 -0.716L0.385 0L0.285 0L0.285 -0.54L0.085 -0.54L0.085 -0.612Q0.245 -0.62 0.29 -0.716Z" stroke="#000" stroke-width="0.02"/><text x="-5.67" y="0" font-size="11.6">0</text></g><text x="1.9" y="-5.8" font-size="10.0">4</text></g>
<g transform="translate(224 138.6)"><g transform="scale(0.74 1)"><path transform="translate(-12.12 0) scale(11.6)" d="M0.385 -0.716L0.385 0L0.285 0L0.285 -0.54L0.085 -0.54L0.085 -0.612Q0.245 -0.62 0.29 -0.716Z" stroke="#000" stroke-width="0.02"/><text x="-5.67" y="0" font-size="11.6">0</text></g><text x="1.9" y="-5.8" font-size="10.0">0</text></g><g transform="translate(251.7 138.6)"><g transform="scale(0.74 1)"><path transform="translate(-12.12 0) scale(11.6)" d="M0.385 -0.716L0.385 0L0.285 0L0.285 -0.54L0.085 -0.54L0.085 -0.612Q0.245 -0.62 0.29 -0.716Z" stroke="#000" stroke-width="0.02"/><text x="-5.67" y="0" font-size="11.6">0</text></g><g transform="translate(0 -5.8)"><path transform="translate(1.9 0) scale(10.0)" d="M0.385 -0.716L0.385 0L0.285 0L0.285 -0.54L0.085 -0.54L0.085 -0.612Q0.245 -0.62 0.29 -0.716Z" stroke="#000" stroke-width="0.02"/></g></g><g transform="translate(279.4 138.6)"><g transform="scale(0.74 1)"><path transform="translate(-12.12 0) scale(11.6)" d="M0.385 -0.716L0.385 0L0.285 0L0.285 -0.54L0.085 -0.54L0.085 -0.612Q0.245 -0.62 0.29 -0.716Z" stroke="#000" stroke-width="0.02"/><text x="-5.67" y="0" font-size="11.6">0</text></g><text x="1.9" y="-5.8" font-size="10.0">2</text></g><g transform="translate(307.1 138.6)"><g transform="scale(0.74 1)"><path transform="translate(-12.12 0) scale(11.6)" d="M0.385 -0.716L0.385 0L0.285 0L0.285 -0.54L0.085 -0.54L0.085 -0.612Q0.245 -0.62 0.29 -0.716Z" stroke="#000" stroke-width="0.02"/><text x="-5.67" y="0" font-size="11.6">0</text></g><text x="1.9" y="-5.8" font-size="10.0">3</text></g><g transform="translate(334.8 138.6)"><g transform="scale(0.74 1)"><path transform="translate(-12.12 0) scale(11.6)" d="M0.385 -0.716L0.385 0L0.285 0L0.285 -0.54L0.085 -0.54L0.085 -0.612Q0.245 -0.62 0.29 -0.716Z" stroke="#000" stroke-width="0.02"/><text x="-5.67" y="0" font-size="11.6">0</text></g><text x="1.9" y="-5.8" font-size="10.0">4</text></g>
<g transform="translate(214.2 120.8) rotate(-90)"><g transform="scale(0.74 1)"><path transform="translate(-12.12 0) scale(11.6)" d="M0.385 -0.716L0.385 0L0.285 0L0.285 -0.54L0.085 -0.54L0.085 -0.612Q0.245 -0.62 0.29 -0.716Z" stroke="#000" stroke-width="0.02"/><text x="-5.67" y="0" font-size="11.6">0</text></g><text x="1.9" y="-5.8" font-size="10.0">0</text></g><g transform="translate(214.2 99.47) rotate(-90)"><g transform="scale(0.74 1)"><path transform="translate(-12.12 0) scale(11.6)" d="M0.385 -0.716L0.385 0L0.285 0L0.285 -0.54L0.085 -0.54L0.085 -0.612Q0.245 -0.62 0.29 -0.716Z" stroke="#000" stroke-width="0.02"/><text x="-5.67" y="0" font-size="11.6">0</text></g><g transform="translate(0 -5.8)"><path transform="translate(1.9 0) scale(10.0)" d="M0.385 -0.716L0.385 0L0.285 0L0.285 -0.54L0.085 -0.54L0.085 -0.612Q0.245 -0.62 0.29 -0.716Z" stroke="#000" stroke-width="0.02"/></g></g><g transform="translate(214.2 78.15) rotate(-90)"><g transform="scale(0.74 1)"><path transform="translate(-12.12 0) scale(11.6)" d="M0.385 -0.716L0.385 0L0.285 0L0.285 -0.54L0.085 -0.54L0.085 -0.612Q0.245 -0.62 0.29 -0.716Z" stroke="#000" stroke-width="0.02"/><text x="-5.67" y="0" font-size="11.6">0</text></g><text x="1.9" y="-5.8" font-size="10.0">2</text></g><g transform="translate(214.2 56.83) rotate(-90)"><g transform="scale(0.74 1)"><path transform="translate(-12.12 0) scale(11.6)" d="M0.385 -0.716L0.385 0L0.285 0L0.285 -0.54L0.085 -0.54L0.085 -0.612Q0.245 -0.62 0.29 -0.716Z" stroke="#000" stroke-width="0.02"/><text x="-5.67" y="0" font-size="11.6">0</text></g><text x="1.9" y="-5.8" font-size="10.0">3</text></g><g transform="translate(214.2 35.5) rotate(-90)"><g transform="scale(0.74 1)"><path transform="translate(-12.12 0) scale(11.6)" d="M0.385 -0.716L0.385 0L0.285 0L0.285 -0.54L0.085 -0.54L0.085 -0.612Q0.245 -0.62 0.29 -0.716Z" stroke="#000" stroke-width="0.02"/><text x="-5.67" y="0" font-size="11.6">0</text></g><text x="1.9" y="-5.8" font-size="10.0">4</text></g>
<g transform="translate(399.7 136.8)"><g transform="scale(0.74 1)"><path transform="translate(-12.12 0) scale(11.6)" d="M0.385 -0.716L0.385 0L0.285 0L0.285 -0.54L0.085 -0.54L0.085 -0.612Q0.245 -0.62 0.29 -0.716Z" stroke="#000" stroke-width="0.02"/><text x="-5.67" y="0" font-size="11.6">0</text></g><text x="1.9" y="-5.8" font-size="10.0">0</text></g><g transform="translate(427.4 136.8)"><g transform="scale(0.74 1)"><path transform="translate(-12.12 0) scale(11.6)" d="M0.385 -0.716L0.385 0L0.285 0L0.285 -0.54L0.085 -0.54L0.085 -0.612Q0.245 -0.62 0.29 -0.716Z" stroke="#000" stroke-width="0.02"/><text x="-5.67" y="0" font-size="11.6">0</text></g><g transform="translate(0 -5.8)"><path transform="translate(1.9 0) scale(10.0)" d="M0.385 -0.716L0.385 0L0.285 0L0.285 -0.54L0.085 -0.54L0.085 -0.612Q0.245 -0.62 0.29 -0.716Z" stroke="#000" stroke-width="0.02"/></g></g><g transform="translate(455.1 136.8)"><g transform="scale(0.74 1)"><path transform="translate(-12.12 0) scale(11.6)" d="M0.385 -0.716L0.385 0L0.285 0L0.285 -0.54L0.085 -0.54L0.085 -0.612Q0.245 -0.62 0.29 -0.716Z" stroke="#000" stroke-width="0.02"/><text x="-5.67" y="0" font-size="11.6">0</text></g><text x="1.9" y="-5.8" font-size="10.0">2</text></g><g transform="translate(482.8 136.8)"><g transform="scale(0.74 1)"><path transform="translate(-12.12 0) scale(11.6)" d="M0.385 -0.716L0.385 0L0.285 0L0.285 -0.54L0.085 -0.54L0.085 -0.612Q0.245 -0.62 0.29 -0.716Z" stroke="#000" stroke-width="0.02"/><text x="-5.67" y="0" font-size="11.6">0</text></g><text x="1.9" y="-5.8" font-size="10.0">3</text></g><g transform="translate(510.5 136.8)"><g transform="scale(0.74 1)"><path transform="translate(-12.12 0) scale(11.6)" d="M0.385 -0.716L0.385 0L0.285 0L0.285 -0.54L0.085 -0.54L0.085 -0.612Q0.245 -0.62 0.29 -0.716Z" stroke="#000" stroke-width="0.02"/><text x="-5.67" y="0" font-size="11.6">0</text></g><text x="1.9" y="-5.8" font-size="10.0">4</text></g>
<g transform="translate(389.7 119) rotate(-90)"><g transform="scale(0.74 1)"><path transform="translate(-12.12 0) scale(11.6)" d="M0.385 -0.716L0.385 0L0.285 0L0.285 -0.54L0.085 -0.54L0.085 -0.612Q0.245 -0.62 0.29 -0.716Z" stroke="#000" stroke-width="0.02"/><text x="-5.67" y="0" font-size="11.6">0</text></g><text x="1.9" y="-5.8" font-size="10.0">0</text></g><g transform="translate(389.7 97.75) rotate(-90)"><g transform="scale(0.74 1)"><path transform="translate(-12.12 0) scale(11.6)" d="M0.385 -0.716L0.385 0L0.285 0L0.285 -0.54L0.085 -0.54L0.085 -0.612Q0.245 -0.62 0.29 -0.716Z" stroke="#000" stroke-width="0.02"/><text x="-5.67" y="0" font-size="11.6">0</text></g><g transform="translate(0 -5.8)"><path transform="translate(1.9 0) scale(10.0)" d="M0.385 -0.716L0.385 0L0.285 0L0.285 -0.54L0.085 -0.54L0.085 -0.612Q0.245 -0.62 0.29 -0.716Z" stroke="#000" stroke-width="0.02"/></g></g><g transform="translate(389.7 76.5) rotate(-90)"><g transform="scale(0.74 1)"><path transform="translate(-12.12 0) scale(11.6)" d="M0.385 -0.716L0.385 0L0.285 0L0.285 -0.54L0.085 -0.54L0.085 -0.612Q0.245 -0.62 0.29 -0.716Z" stroke="#000" stroke-width="0.02"/><text x="-5.67" y="0" font-size="11.6">0</text></g><text x="1.9" y="-5.8" font-size="10.0">2</text></g><g transform="translate(389.7 55.25) rotate(-90)"><g transform="scale(0.74 1)"><path transform="translate(-12.12 0) scale(11.6)" d="M0.385 -0.716L0.385 0L0.285 0L0.285 -0.54L0.085 -0.54L0.085 -0.612Q0.245 -0.62 0.29 -0.716Z" stroke="#000" stroke-width="0.02"/><text x="-5.67" y="0" font-size="11.6">0</text></g><text x="1.9" y="-5.8" font-size="10.0">3</text></g><g transform="translate(389.7 34) rotate(-90)"><g transform="scale(0.74 1)"><path transform="translate(-12.12 0) scale(11.6)" d="M0.385 -0.716L0.385 0L0.285 0L0.285 -0.54L0.085 -0.54L0.085 -0.612Q0.245 -0.62 0.29 -0.716Z" stroke="#000" stroke-width="0.02"/><text x="-5.67" y="0" font-size="11.6">0</text></g><text x="1.9" y="-5.8" font-size="10.0">4</text></g>
</g>
<g>
<text x="111.8" y="66.9" font-size="11.2">TCR<tspan dx="-0.4" dy="-2.4" font-size="9.8">hi</tspan></text>
<text x="115" y="91.2" font-size="11.2">TCR<tspan dx="-0.4" dy="-2.4" font-size="9.8">lo</tspan></text>
<text x="292" y="59.2" font-size="11.2">TCR<tspan dx="-0.4" dy="-2.4" font-size="9.8">hi</tspan></text>
<text x="282" y="88.8" font-size="11.2">TCR<tspan dx="-0.4" dy="-2.4" font-size="9.8">lo</tspan></text>
</g>
<g font-size="13.2">
<text x="86.1" y="152.4">Cbl</text>
<text x="261.2" y="152.5">Ship</text>
<text x="438.3" y="151.9">CD4</text>
<text transform="translate(11 63.3) rotate(-90)" text-anchor="end" font-size="13.7">αβTCR</text>
<text transform="translate(197 64.0) rotate(-90)" text-anchor="end" font-size="13.7">αβTCR</text>
<text transform="translate(371 100.8) rotate(-90)">CD8</text>
</g>
<path d="M95.0 193.1 L94.6 202 L93.8 215 L92.9 228 L91.9 240 L90.9 249 L89.9 255 L88.6 261 L86.6 266 L84.5 269.5 L82.5 271.6" fill="none" stroke="#000" stroke-width="1.3" stroke-dasharray="4.7 4.4" stroke-dashoffset="0"/>
<path d="M100.6 193.1 L101.2 202 L102.3 215 L103.3 228 L104.2 240 L104.9 250 L105.8 258 L107 264.5 L108.3 269.5 L110.5 271.6" fill="none" stroke="#000" stroke-width="1.3" stroke-dasharray="4.7 4.4" stroke-dashoffset="0"/>
<path d="M96.3 188.1 h5" stroke="#000" stroke-width="2"/>
<path d="M88.3 272 L88.8 264 L90.3 261 L91.8 261.8 L93.4 258.8 L95.3 259.6 L96.8 257.4 L99.3 257.8 L101 257 L102.6 258.6 L103.6 262 L105 266 L106.4 272 Z" fill="#8c8c8c"/>
<path d="M88.8 264 L90.3 261 L91.8 261.8 L93.4 258.8 L95.3 259.6 L96.8 257.4 L99.3 257.8 L101 257 L102.6 258.6 L103.6 262 L105 266 L106.6 271.5" fill="none" stroke="#111" stroke-width="0.9"/>
<path d="M90.5 256.5v7.5M92.6 259v6M87.8 259.5v4M83.6 266.5v5M96 258.5v4M100.5 256.5v3" stroke="#000" stroke-width="1.1"/>
<path d="M268.4 203.5 L266.2 207.6 L264.8 212 L264.3 220 L264.1 230 L263.7 238 L262.8 243 L261.5 249 L260.5 255 L259.2 262 L258 267 L256.5 271.6" fill="none" stroke="#000" stroke-width="1.3" stroke-dasharray="4.5 4.7" stroke-dashoffset="0"/>
<path d="M269.7 212 L269.8 225 L270 236 L270.6 241 L271.8 245" fill="none" stroke="#000" stroke-width="1.3" stroke-dasharray="4.5 4.7" stroke-dashoffset="0"/>
<path d="M266.3 272 L266.8 271 L268.5 266 L270.5 261.5 L271.5 259.7 L272 252 L273.6 249 L275.5 247.5 L277.4 244.2 L278.5 246 L279.7 249 L281.5 256 L283.3 263 L286 268.5 L289.2 271.3 L290.5 272 Z" fill="#8a8a8a" stroke="#000" stroke-width="1.2" stroke-linejoin="round"/>
<path d="M445.4 191.0 L445.0 200 L444.5 215 L443.9 230 L443.6 244 L443.2 251 L441.8 258 L439.5 263.5 L436.5 267.3 L433 269.6 L428 270.8 L421 271.4" fill="none" stroke="#000" stroke-width="1.3" stroke-dasharray="4.8 5.1" stroke-dashoffset="0"/>
<path d="M451.7 189.8 L452.1 200 L452.6 215 L453.1 230 L453.6 245 L455.5 255 L456.6 262 L458 266 L461 269.5 L466 271" fill="none" stroke="#000" stroke-width="1.3" stroke-dasharray="4.8 5.1" stroke-dashoffset="0"/>
<path d="M446 187.8 h4.8" stroke="#000" stroke-width="2"/>
<path d="M445.8 271.5 L449 268.5 L452 266 L454.8 263.8 L456.5 264.5 L459 267 L461.5 269.5 L463.5 271.5 Z" fill="#8c8c8c" stroke="#222" stroke-width="0.8"/>
<path d="M427 271.2 L436 270.8 L442 270.3 L445.6 269.4 L447.8 267 L449.3 263.5 L450.4 260 L451.6 254 L452.4 247.5 L453.1 240 L453.5 235 L454.6 234.6 L455.3 239 L456.3 243 L457.2 248 L458.3 254.5 L459.5 260.5 L461 265.2 L463 268.6 L466 270.3 L474 271 L490 271.3" fill="none" stroke="#000" stroke-width="2.3" stroke-linejoin="round"/>
<g stroke="#000" fill="none">
<rect x="39.5" y="187.35" width="114.7" height="84.65" fill="none" stroke="#000" stroke-width="1.3"/>
<path stroke-width="1" d="M40.4 272v5M48.89 272v3.2M53.85 272v3.2M57.38 272v3.2M60.11 272v3.2M62.34 272v3.2M64.23 272v3.2M65.87 272v3.2M67.31 272v3.2M68.6 272v5M77.09 272v3.2M82.05 272v3.2M85.58 272v3.2M88.31 272v3.2M90.54 272v3.2M92.43 272v3.2M94.07 272v3.2M95.51 272v3.2M96.8 272v5M105.29 272v3.2M110.25 272v3.2M113.78 272v3.2M116.51 272v3.2M118.74 272v3.2M120.63 272v3.2M122.27 272v3.2M123.71 272v3.2M125 272v5M133.49 272v3.2M138.45 272v3.2M141.98 272v3.2M144.71 272v3.2M146.94 272v3.2M148.83 272v3.2M150.47 272v3.2M151.91 272v3.2M153.2 272v5M39.5 188.15h-4.8M39.5 190.15h-2.7M39.5 192.14h-2.7M39.5 194.14h-2.7M39.5 196.14h-2.7M39.5 198.13h-2.7M39.5 200.13h-2.7M39.5 202.12h-4.8M39.5 204.12h-2.7M39.5 206.12h-2.7M39.5 208.11h-2.7M39.5 210.11h-2.7M39.5 212.11h-2.7M39.5 214.1h-2.7M39.5 216.1h-4.8M39.5 218.1h-2.7M39.5 220.09h-2.7M39.5 222.09h-2.7M39.5 224.09h-2.7M39.5 226.08h-2.7M39.5 228.08h-2.7M39.5 230.07h-4.8M39.5 232.07h-2.7M39.5 234.07h-2.7M39.5 236.06h-2.7M39.5 238.06h-2.7M39.5 240.06h-2.7M39.5 242.05h-2.7M39.5 244.05h-4.8M39.5 246.05h-2.7M39.5 248.04h-2.7M39.5 250.04h-2.7M39.5 252.04h-2.7M39.5 254.03h-2.7M39.5 256.03h-2.7M39.5 258.02h-4.8M39.5 260.02h-2.7M39.5 262.02h-2.7M39.5 264.01h-2.7M39.5 266.01h-2.7M39.5 268.01h-2.7M39.5 270h-2.7M39.5 272h-4.8"/>
<rect x="219.8" y="186.9" width="114.8" height="85" fill="none" stroke="#000" stroke-width="1.3"/>
<path stroke-width="1" d="M220.6 271.9v5M229.1 271.9v3.2M234.08 271.9v3.2M237.61 271.9v3.2M240.35 271.9v3.2M242.58 271.9v3.2M244.47 271.9v3.2M246.11 271.9v3.2M247.56 271.9v3.2M248.85 271.9v5M257.35 271.9v3.2M262.33 271.9v3.2M265.86 271.9v3.2M268.6 271.9v3.2M270.83 271.9v3.2M272.72 271.9v3.2M274.36 271.9v3.2M275.81 271.9v3.2M277.1 271.9v5M285.6 271.9v3.2M290.58 271.9v3.2M294.11 271.9v3.2M296.85 271.9v3.2M299.08 271.9v3.2M300.97 271.9v3.2M302.61 271.9v3.2M304.06 271.9v3.2M305.35 271.9v5M313.85 271.9v3.2M318.83 271.9v3.2M322.36 271.9v3.2M325.1 271.9v3.2M327.33 271.9v3.2M329.22 271.9v3.2M330.86 271.9v3.2M332.31 271.9v3.2M333.6 271.9v5M219.8 187.7h-4.8M219.8 190.51h-2.7M219.8 193.31h-2.7M219.8 196.12h-2.7M219.8 198.93h-2.7M219.8 201.73h-2.7M219.8 204.54h-4.8M219.8 207.35h-2.7M219.8 210.15h-2.7M219.8 212.96h-2.7M219.8 215.77h-2.7M219.8 218.57h-2.7M219.8 221.38h-4.8M219.8 224.19h-2.7M219.8 226.99h-2.7M219.8 229.8h-2.7M219.8 232.61h-2.7M219.8 235.41h-2.7M219.8 238.22h-4.8M219.8 241.03h-2.7M219.8 243.83h-2.7M219.8 246.64h-2.7M219.8 249.45h-2.7M219.8 252.25h-2.7M219.8 255.06h-4.8M219.8 257.87h-2.7M219.8 260.67h-2.7M219.8 263.48h-2.7M219.8 266.29h-2.7M219.8 269.09h-2.7M219.8 271.9h-4.8"/>
<rect x="398.5" y="186.5" width="114.9" height="85.1" fill="none" stroke="#000" stroke-width="1.3"/>
<path stroke-width="1" d="M399.2 271.6v5M407.72 271.6v3.2M412.7 271.6v3.2M416.24 271.6v3.2M418.98 271.6v3.2M421.22 271.6v3.2M423.12 271.6v3.2M424.76 271.6v3.2M426.21 271.6v3.2M427.5 271.6v5M436.02 271.6v3.2M441 271.6v3.2M444.54 271.6v3.2M447.28 271.6v3.2M449.52 271.6v3.2M451.42 271.6v3.2M453.06 271.6v3.2M454.51 271.6v3.2M455.8 271.6v5M464.32 271.6v3.2M469.3 271.6v3.2M472.84 271.6v3.2M475.58 271.6v3.2M477.82 271.6v3.2M479.72 271.6v3.2M481.36 271.6v3.2M482.81 271.6v3.2M484.1 271.6v5M492.62 271.6v3.2M497.6 271.6v3.2M501.14 271.6v3.2M503.88 271.6v3.2M506.12 271.6v3.2M508.02 271.6v3.2M509.66 271.6v3.2M511.11 271.6v3.2M512.4 271.6v5M398.5 187.3h-4.8M398.5 190.11h-2.7M398.5 192.92h-2.7M398.5 195.73h-2.7M398.5 198.54h-2.7M398.5 201.35h-2.7M398.5 204.16h-4.8M398.5 206.97h-2.7M398.5 209.78h-2.7M398.5 212.59h-2.7M398.5 215.4h-2.7M398.5 218.21h-2.7M398.5 221.02h-4.8M398.5 223.83h-2.7M398.5 226.64h-2.7M398.5 229.45h-2.7M398.5 232.26h-2.7M398.5 235.07h-2.7M398.5 237.88h-4.8M398.5 240.69h-2.7M398.5 243.5h-2.7M398.5 246.31h-2.7M398.5 249.12h-2.7M398.5 251.93h-2.7M398.5 254.74h-4.8M398.5 257.55h-2.7M398.5 260.36h-2.7M398.5 263.17h-2.7M398.5 265.98h-2.7M398.5 268.79h-2.7M398.5 271.6h-4.8"/>
</g>
<g font-size="10.5">
<g transform="translate(41.9 289.4)"><g transform="scale(0.74 1)"><path transform="translate(-12.12 0) scale(11.6)" d="M0.385 -0.716L0.385 0L0.285 0L0.285 -0.54L0.085 -0.54L0.085 -0.612Q0.245 -0.62 0.29 -0.716Z" stroke="#000" stroke-width="0.02"/><text x="-5.67" y="0" font-size="11.6">0</text></g><text x="1.9" y="-5.8" font-size="10.0">0</text></g><g transform="translate(70.1 289.4)"><g transform="scale(0.74 1)"><path transform="translate(-12.12 0) scale(11.6)" d="M0.385 -0.716L0.385 0L0.285 0L0.285 -0.54L0.085 -0.54L0.085 -0.612Q0.245 -0.62 0.29 -0.716Z" stroke="#000" stroke-width="0.02"/><text x="-5.67" y="0" font-size="11.6">0</text></g><g transform="translate(0 -5.8)"><path transform="translate(1.9 0) scale(10.0)" d="M0.385 -0.716L0.385 0L0.285 0L0.285 -0.54L0.085 -0.54L0.085 -0.612Q0.245 -0.62 0.29 -0.716Z" stroke="#000" stroke-width="0.02"/></g></g><g transform="translate(98.3 289.4)"><g transform="scale(0.74 1)"><path transform="translate(-12.12 0) scale(11.6)" d="M0.385 -0.716L0.385 0L0.285 0L0.285 -0.54L0.085 -0.54L0.085 -0.612Q0.245 -0.62 0.29 -0.716Z" stroke="#000" stroke-width="0.02"/><text x="-5.67" y="0" font-size="11.6">0</text></g><text x="1.9" y="-5.8" font-size="10.0">2</text></g><g transform="translate(126.5 289.4)"><g transform="scale(0.74 1)"><path transform="translate(-12.12 0) scale(11.6)" d="M0.385 -0.716L0.385 0L0.285 0L0.285 -0.54L0.085 -0.54L0.085 -0.612Q0.245 -0.62 0.29 -0.716Z" stroke="#000" stroke-width="0.02"/><text x="-5.67" y="0" font-size="11.6">0</text></g><text x="1.9" y="-5.8" font-size="10.0">3</text></g><g transform="translate(154.7 289.4)"><g transform="scale(0.74 1)"><path transform="translate(-12.12 0) scale(11.6)" d="M0.385 -0.716L0.385 0L0.285 0L0.285 -0.54L0.085 -0.54L0.085 -0.612Q0.245 -0.62 0.29 -0.716Z" stroke="#000" stroke-width="0.02"/><text x="-5.67" y="0" font-size="11.6">0</text></g><text x="1.9" y="-5.8" font-size="10.0">4</text></g>
<g transform="translate(222.1 289.3)"><g transform="scale(0.74 1)"><path transform="translate(-12.12 0) scale(11.6)" d="M0.385 -0.716L0.385 0L0.285 0L0.285 -0.54L0.085 -0.54L0.085 -0.612Q0.245 -0.62 0.29 -0.716Z" stroke="#000" stroke-width="0.02"/><text x="-5.67" y="0" font-size="11.6">0</text></g><text x="1.9" y="-5.8" font-size="10.0">0</text></g><g transform="translate(250.35 289.3)"><g transform="scale(0.74 1)"><path transform="translate(-12.12 0) scale(11.6)" d="M0.385 -0.716L0.385 0L0.285 0L0.285 -0.54L0.085 -0.54L0.085 -0.612Q0.245 -0.62 0.29 -0.716Z" stroke="#000" stroke-width="0.02"/><text x="-5.67" y="0" font-size="11.6">0</text></g><g transform="translate(0 -5.8)"><path transform="translate(1.9 0) scale(10.0)" d="M0.385 -0.716L0.385 0L0.285 0L0.285 -0.54L0.085 -0.54L0.085 -0.612Q0.245 -0.62 0.29 -0.716Z" stroke="#000" stroke-width="0.02"/></g></g><g transform="translate(278.6 289.3)"><g transform="scale(0.74 1)"><path transform="translate(-12.12 0) scale(11.6)" d="M0.385 -0.716L0.385 0L0.285 0L0.285 -0.54L0.085 -0.54L0.085 -0.612Q0.245 -0.62 0.29 -0.716Z" stroke="#000" stroke-width="0.02"/><text x="-5.67" y="0" font-size="11.6">0</text></g><text x="1.9" y="-5.8" font-size="10.0">2</text></g><g transform="translate(306.85 289.3)"><g transform="scale(0.74 1)"><path transform="translate(-12.12 0) scale(11.6)" d="M0.385 -0.716L0.385 0L0.285 0L0.285 -0.54L0.085 -0.54L0.085 -0.612Q0.245 -0.62 0.29 -0.716Z" stroke="#000" stroke-width="0.02"/><text x="-5.67" y="0" font-size="11.6">0</text></g><text x="1.9" y="-5.8" font-size="10.0">3</text></g><g transform="translate(335.1 289.3)"><g transform="scale(0.74 1)"><path transform="translate(-12.12 0) scale(11.6)" d="M0.385 -0.716L0.385 0L0.285 0L0.285 -0.54L0.085 -0.54L0.085 -0.612Q0.245 -0.62 0.29 -0.716Z" stroke="#000" stroke-width="0.02"/><text x="-5.67" y="0" font-size="11.6">0</text></g><text x="1.9" y="-5.8" font-size="10.0">4</text></g>
<g transform="translate(400.7 289)"><g transform="scale(0.74 1)"><path transform="translate(-12.12 0) scale(11.6)" d="M0.385 -0.716L0.385 0L0.285 0L0.285 -0.54L0.085 -0.54L0.085 -0.612Q0.245 -0.62 0.29 -0.716Z" stroke="#000" stroke-width="0.02"/><text x="-5.67" y="0" font-size="11.6">0</text></g><text x="1.9" y="-5.8" font-size="10.0">0</text></g><g transform="translate(429 289)"><g transform="scale(0.74 1)"><path transform="translate(-12.12 0) scale(11.6)" d="M0.385 -0.716L0.385 0L0.285 0L0.285 -0.54L0.085 -0.54L0.085 -0.612Q0.245 -0.62 0.29 -0.716Z" stroke="#000" stroke-width="0.02"/><text x="-5.67" y="0" font-size="11.6">0</text></g><g transform="translate(0 -5.8)"><path transform="translate(1.9 0) scale(10.0)" d="M0.385 -0.716L0.385 0L0.285 0L0.285 -0.54L0.085 -0.54L0.085 -0.612Q0.245 -0.62 0.29 -0.716Z" stroke="#000" stroke-width="0.02"/></g></g><g transform="translate(457.3 289)"><g transform="scale(0.74 1)"><path transform="translate(-12.12 0) scale(11.6)" d="M0.385 -0.716L0.385 0L0.285 0L0.285 -0.54L0.085 -0.54L0.085 -0.612Q0.245 -0.62 0.29 -0.716Z" stroke="#000" stroke-width="0.02"/><text x="-5.67" y="0" font-size="11.6">0</text></g><text x="1.9" y="-5.8" font-size="10.0">2</text></g><g transform="translate(485.6 289)"><g transform="scale(0.74 1)"><path transform="translate(-12.12 0) scale(11.6)" d="M0.385 -0.716L0.385 0L0.285 0L0.285 -0.54L0.085 -0.54L0.085 -0.612Q0.245 -0.62 0.29 -0.716Z" stroke="#000" stroke-width="0.02"/><text x="-5.67" y="0" font-size="11.6">0</text></g><text x="1.9" y="-5.8" font-size="10.0">3</text></g><g transform="translate(513.9 289)"><g transform="scale(0.74 1)"><path transform="translate(-12.12 0) scale(11.6)" d="M0.385 -0.716L0.385 0L0.285 0L0.285 -0.54L0.085 -0.54L0.085 -0.612Q0.245 -0.62 0.29 -0.716Z" stroke="#000" stroke-width="0.02"/><text x="-5.67" y="0" font-size="11.6">0</text></g><text x="1.9" y="-5.8" font-size="10.0">4</text></g>
</g>
<g>
<text x="57.9" y="208.1" font-size="11.2">TCR<tspan dx="-0.4" dy="-2.4" font-size="9.8">lo</tspan></text>
<text x="108.5" y="264.9" font-size="11.2">TCR<tspan dx="-0.4" dy="-2.4" font-size="9.8">hi</tspan></text>
<text x="231.6" y="209.2" font-size="11.2">TCR<tspan dx="-0.4" dy="-2.4" font-size="9.8">lo</tspan></text>
<text x="284.3" y="260.4" font-size="11.2">TCR<tspan dx="-0.4" dy="-2.4" font-size="9.8">hi</tspan></text>
</g>
<g font-size="11.3">
<text x="428" y="206.1">DP</text>
<text x="464.3" y="254.4">SP</text>
</g>
<g font-size="13">
<text x="86.1" y="303.8">Cbl</text>
<text x="261.4" y="303.8">Ship</text>
<text x="438.9" y="303.5">Ship</text>
</g>
<text transform="translate(20.6 287.3) rotate(-90)" font-size="11.2">Relative cell number</text>
<path d="M42 319.9 H516" stroke="#000" stroke-width="1.1"/>
<text x="173.3" y="336.3" font-size="13.4" font-weight="bold" letter-spacing="0.06">Relative fluorescence intensity</text>
</g></svg>
</body></html>
